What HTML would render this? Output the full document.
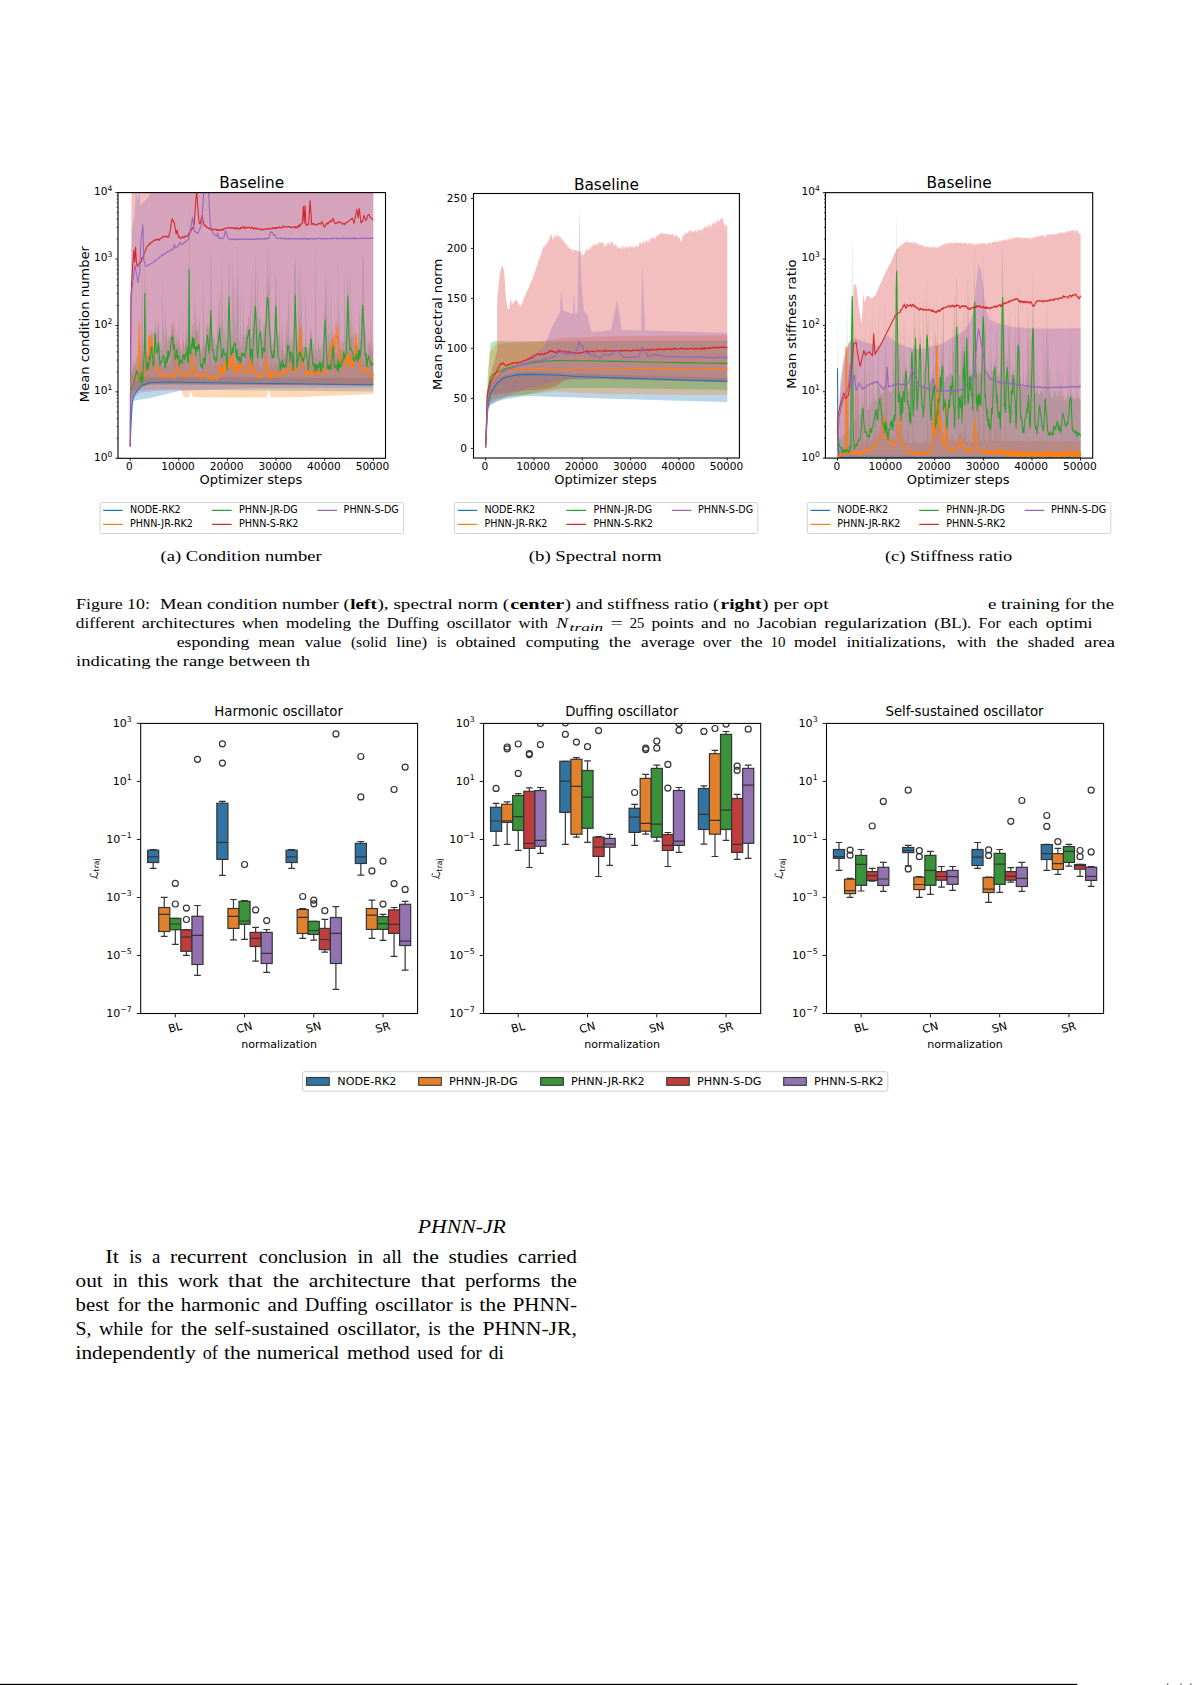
<!DOCTYPE html>
<html lang="en"><head><meta charset="utf-8"><title>Figure 10</title>
<style>
html,body{margin:0;padding:0;background:#fff;}
body{width:1192px;height:1685px;overflow:hidden;position:relative;}
svg{position:absolute;left:0;top:0;display:block;}
text{white-space:pre;}
</style></head><body>
<svg width="1192" height="1685" viewBox="0 0 1192 1685">
<rect x="0" y="0" width="1192" height="1685" fill="#ffffff"/>
<defs>
<clipPath id="lc0"><rect x="118" y="192.6" width="267.5" height="265.7"/></clipPath>
<clipPath id="lc1"><rect x="473.5" y="193.5" width="265.9" height="264.5"/></clipPath>
<clipPath id="lc2"><rect x="825.4" y="192.65" width="267.3" height="265.45"/></clipPath>
</defs>
<g clip-path="url(#lc0)"><path d="M130.2,440L132,392L135,381L141,377.5L156.8,377.2L169,377L185,377.1L199.8,377.2L216.6,377.2L233,377.3L249.8,377.4L265.4,377.5L281.8,377.6L297.9,377.6L314.2,377.7L332.6,377.8L350.6,377.9L366.3,378L373.3,378L373.3,391.5L356.2,391.3L338.2,391.2L321,391L302.6,390.8L287.6,390.7L270.2,390.5L254,390.3L238.6,390.2L221.8,390L205,389.8L197.9,389.9L183,390.4L181,390.5L165.6,394.3L152.6,397.6L139,399.7L133,401L131.5,420L130.2,447.4Z" fill="#1f77b4" fill-opacity="0.3" stroke="none"/><path d="M130.2,371.8L130.6,370.9L130.9,364.6L131,361.4L131.2,370.7L131.4,373.2L131.5,373.2L131.8,373.1L132,368.9L132.1,365.7L132.2,370.8L132.5,372.9L132.6,371.2L132.7,373.3L133,369.4L133.3,366.2L133.4,363.7L133.5,361.4L133.8,363.5L134,368.1L134.2,370.8L134.5,373.2L134.6,372.1L135,371.3L135.4,366.2L135.6,366.5L135.8,363.9L136,364.2L136.2,367.6L136.5,368.9L136.6,373.2L136.8,368.7L137,369.9L137.4,373.2L137.5,372.4L137.6,370.4L137.8,369.3L138,362.7L138.2,359L138.6,349.2L139,315.5L139.1,309.7L139.4,329.9L139.5,341.5L139.7,343.4L139.8,343L139.8,342.7L140,344.9L140.2,346.6L140.5,345.5L140.6,343.1L140.8,340.1L140.9,335L141,328L141.4,300.5L141.4,302.9L141.5,310.5L141.8,332.8L142.2,344.6L142.2,343.2L142.4,337.9L142.5,341.1L142.6,345.3L142.7,348.4L142.9,352.7L143,356.6L143.4,366.6L143.8,369L144.2,364.7L144.6,363.8L144.8,363.5L145,362.5L145.4,356.8L145.8,356.5L146.2,359.4L146.6,352.4L146.8,353.7L147,358.7L147.4,356.2L147.8,351.5L148,347.7L148.2,339.7L148.3,341.9L148.5,334.4L148.6,334.6L149,324.7L149.4,329L149.7,337.4L149.8,339.4L150,341.2L150.2,336.6L150.4,334L150.6,335.6L151,335.1L151.4,331.7L151.8,330.9L152,326.7L152.2,333.7L152.6,340.7L153,349.7L153.2,346.2L153.4,351.1L153.8,355L154.2,358.6L154.5,361.8L154.6,362.8L155,360.7L155.4,362.2L155.6,358L155.8,362.6L156.2,359.9L156.6,361.8L156.8,362L157,364.9L157.4,360.9L157.8,336L158.2,316.7L158.3,313.6L158.5,327.4L158.6,332.1L159,351.2L159.1,353.7L159.4,358.7L159.8,356.4L160,362L160.2,361.4L160.3,366.5L160.6,366.4L161,365.6L161.4,365.5L161.5,368.7L161.8,364.8L162.1,367.4L162.2,362L162.6,360.6L162.7,355L162.8,357.7L163,366.4L163.4,365.7L163.8,366.9L164.2,364.7L164.6,363L165,364.2L165.4,362.8L165.6,365.4L165.8,362.1L166.6,335.3L166.7,333.5L167,346.2L167.3,357.4L167.4,360.7L167.8,366.4L168.2,365.8L168.5,363.2L168.6,363.5L169,363.1L169.4,363.2L169.8,369.6L170.2,370.4L170.5,368L170.6,368.1L171,367.4L171.4,353.5L171.8,327L172,314.8L172.1,311.5L172.2,320.4L172.6,329.5L173,346.6L173.2,352.7L173.4,352.8L173.8,348.8L173.8,349.2L174.2,348.7L174.4,334.4L174.6,318.2L174.8,303.7L175,316.1L175.1,319.2L175.2,329.1L175.4,338.5L175.6,346.2L175.8,355L176.1,360.9L176.2,354.2L176.6,350.5L176.7,349.3L177,342.8L177.2,338.4L177.3,340.4L177.4,343.5L177.8,354.2L178.2,365.2L178.5,351.7L178.6,342.2L179,315.5L179.2,306.5L179.3,313L179.4,315.3L180.2,362.8L180.6,364.1L181,364.5L181.4,363.9L181.8,364L182.2,341.4L182.6,311.8L182.8,302.2L183,320.4L183.4,348.2L183.8,366.4L184,368L184.2,363L184.6,363.3L185,357.6L185.4,341.6L185.8,321.8L185.8,320.4L186,329.5L186.2,339.5L186.6,359.1L186.9,363.2L187,362.1L187.3,360.7L187.4,362.5L187.8,369L188.2,367.2L188.5,356.8L188.6,353.1L189,345.6L189.1,348L189.4,352.2L189.8,360.4L190.2,363.8L190.5,361.2L190.6,355.7L190.8,359.4L191,356.4L191.4,353.1L191.8,340.2L192,340.6L192.2,335.2L192.6,342.9L192.8,346.4L193,353.5L193.2,352.2L193.4,355.5L193.5,355.7L193.8,358.3L194.2,358.3L194.3,364.7L194.6,365.1L194.8,362.3L195,355.5L195.4,356.2L195.5,345.5L195.8,333.5L196.2,303L196.6,325.7L196.7,327.4L196.7,327.7L197,325.5L197,325L197.1,323.1L197.4,339.6L197.8,361.6L197.9,366.2L198,366.8L198.2,370.5L198.6,369.7L199,370.1L199.4,370.9L199.8,365.4L200,371.3L200.2,369.9L200.6,371.3L201,370.4L201.4,369.1L201.8,365.4L202,359.3L202.2,352.9L202.6,342.5L202.6,342.4L203,350.3L203.4,352L203.5,358.5L203.7,362.7L203.8,364.4L204.2,352.7L204.6,337.6L204.7,333.2L204.9,337.1L205,339.2L205.4,350.5L205.8,358.3L206,363.4L206.2,366.2L206.6,363L207,364L207.3,360.9L207.4,364L207.8,366.4L208.2,365.8L208.5,368.4L208.6,368.2L209,346.7L209.3,323.6L209.4,317.2L209.6,305.8L209.8,315L210.2,315.9L210.3,310.5L210.8,341.3L211,353.7L211.1,359.4L211.4,370.2L211.8,371.1L212,370.6L212.2,370.5L212.3,369.5L212.6,364.6L213,367.1L213.1,370.1L213.4,369L213.8,372.2L214.2,362.8L214.6,361L215,362.1L215.4,361.5L215.8,370.9L216.2,372.4L216.6,355.8L216.7,351.3L217,328.6L217.3,307.9L217.4,313.8L217.8,342.2L218.2,365.8L218.6,363.7L218.8,365.2L219,355.7L219.4,359.5L219.4,356.5L219.6,354L219.8,350.9L220.2,358.9L220.6,356.3L221,360.2L221.4,360.8L221.5,368.7L221.8,353.7L221.8,360L222.2,358.7L222.2,363.4L222.6,347.3L223,357.8L223.4,351.5L223.7,359L223.8,356.3L224.2,361.5L224.6,353.5L225,359.6L225,352.6L225.4,356.9L225.5,351.6L225.8,360.9L226,358.5L226.2,358.2L226.6,349L227,355.6L227.2,354.7L227.4,352L227.8,346.3L228.2,352.1L228.5,350.7L228.6,360L229,352.1L229.4,361.1L229.6,353.7L229.8,356.9L230.2,344.9L230.6,353.2L230.8,346.3L231,354.1L231.4,345L231.5,352.6L231.8,343.4L232.2,345.9L232.5,342.9L232.6,348.9L233,343.2L233.4,353.7L233.7,349.1L233.8,357L234.1,356.4L234.2,362.7L234.6,356.8L235,366.6L235.4,362.9L235.5,363.4L235.8,355.8L236.2,364.2L236.6,357.5L236.6,366.2L237,360.3L237.4,362.4L237.5,356.3L237.8,362.8L238.2,355.5L238.5,359.9L238.6,356.4L239,355.8L239.4,348.7L239.8,348.9L240,350L240.2,348.7L240.3,348L240.6,351.9L241,352.1L241.3,346.8L241.4,352.2L241.8,353.8L242.2,356.1L242.6,357.2L243,362.6L243.4,359.1L243.5,365.2L243.8,360.6L244.2,361.5L244.6,366L244.9,361.5L245,361L245.4,365.7L245.8,349.2L246,339.8L246.4,326L246.6,332.8L246.9,339L247,343.3L247.2,350.2L247.4,351.9L247.8,356.9L248,354.7L248.2,361.5L248.6,357.3L249,358.6L249.4,353.3L249.5,355.1L249.8,348.9L250,345.7L250.2,339.9L250.3,337L250.5,339.4L250.6,342.6L250.7,342L251,354.2L251.4,354.9L251.8,361L251.9,355.9L252,352.3L252.2,349L252.3,351.5L252.6,351.6L252.6,360.7L253,358.6L253.4,364.7L253.5,358.2L253.8,366L254,363.1L254.2,366.3L254.6,361.9L255,366.4L255.3,365.4L255.4,366.4L255.8,361.3L256,363.2L256.2,360.1L256.6,364.6L257,357.4L257.4,349.2L257.8,356.3L257.9,361.1L258.2,364.1L258.6,367.5L258.8,360.7L259,364.5L259.4,368.2L259.8,370.3L260,363.2L260.2,366.7L260.6,367.5L261,370.8L261.4,361.5L261.7,366.4L261.8,365.4L262.2,366.4L262.3,367.7L262.6,364.9L263,362.5L263.4,363.6L263.8,346.6L264,338.3L264.2,327.3L264.4,318.6L264.5,323.6L264.6,327.3L264.7,330.4L265,344.7L265.4,355.5L265.8,356.4L266,350.1L266.2,348.9L266.3,344L266.4,351.6L266.6,348.6L267,358.1L267.4,356.4L267.6,365.2L267.8,359.9L268.2,368.6L268.6,364.4L268.8,369.9L268.9,367.3L269,370L269.4,361.5L269.7,365.1L269.8,360.6L270,371.7L270.2,365.7L270.5,367.2L270.6,366.9L271,360.7L271.1,359L271.4,363.7L271.8,356.8L272,362.8L272.2,366.6L272.3,367L272.5,365.5L272.6,363.5L273,367.1L273.4,368.8L273.5,367.6L273.8,365.6L274.1,361L274.2,363.4L274.6,362.4L275,370.3L275.4,363.9L275.8,360.5L276.2,362.4L276.4,361.4L276.5,363.5L276.6,368L277,366.4L277.4,366.3L277.8,361.3L278.2,365L278.6,363.9L279,361.6L279.4,364.3L279.8,362.2L279.9,364.1L280.2,368.5L280.6,362L281,365.6L281.4,360.7L281.7,359.4L281.8,361.5L282,353.4L282.2,343L282.6,324.5L282.8,316.5L283,328.3L283.4,347L283.8,366.3L284.2,360.6L284.6,363.6L285,346.2L285.2,340.5L285.4,328.9L285.7,312.3L285.8,317.7L286.2,338.8L286.6,360.6L286.6,360.3L287,358.9L287.4,356.6L287.6,355.8L287.8,360.9L287.8,360.6L288.2,359.3L288.6,362.9L288.6,364L288.8,360.2L288.8,363L289,355.2L289.4,359.1L289.8,355.8L289.9,361.9L290,358.8L290.2,357.2L290.6,349L290.8,344.8L291,347.9L291.1,348.8L291.4,352.7L291.8,353.4L292.2,353.8L292.6,359.9L293,360L293.4,359.2L293.5,360.1L293.8,361.8L294.2,354.7L294.5,356.4L294.6,359.6L295,355.2L295.2,363.3L295.4,362.8L295.7,360.8L295.8,362.8L296,361.2L296.2,364.7L296.6,363.1L297,364.5L297.4,345.5L297.8,332.7L297.9,329.9L298,332.7L298.2,335.1L298.6,339.1L298.7,329.3L299,335.8L299.4,327.2L299.8,328.7L300,324.4L300,324.7L300.2,313.5L300.5,317.1L300.6,319.3L301,329.9L301.4,334.2L301.7,338.6L301.8,336.2L302.2,330.4L302.3,326.1L302.5,322L302.6,324.9L302.9,339.7L303,339.4L303.4,359.7L303.8,359.2L304.2,364.1L304.6,362.4L305,366L305.4,360L305.8,362.8L305.9,366.1L306.1,363.2L306.2,361.7L306.6,366.6L307,369.7L307.4,361.8L307.8,350.8L308.2,338L308.6,347.5L308.7,351.5L309,359.1L309.4,364.8L309.8,361.5L310.1,361L310.2,366.2L310.6,364.5L310.8,359L311,354.5L311.4,344.9L311.7,350.5L311.8,352.8L312.2,357.5L312.6,364.2L312.8,358L313,360L313.4,365L313.8,366L314.2,364.7L314.6,360.9L315,367.3L315.4,365.9L315.5,361.9L315.6,363.9L315.8,355.1L316.2,357.9L316.6,356.4L317,362.4L317.4,362.5L317.8,364.8L318.2,358.2L318.6,360.1L319,360.2L319.4,361.5L319.8,364.5L320.2,366.3L320.5,362L320.6,356.5L321,357.8L321.4,360.3L321.8,364.8L322.2,361.5L322.6,361.6L322.8,360.8L323,363.7L323.4,363.4L323.8,362.7L324.1,359.2L324.2,359.9L324.6,354.7L325,358.8L325.2,363.5L325.3,359.8L325.4,364.3L325.8,366L326.2,365.3L326.3,365.7L326.5,362.6L326.6,364.6L326.8,359.9L327,356.5L327.4,353L327.5,357.5L327.8,358.8L328.1,353.2L328.2,351.3L328.6,353.1L329,351L329.4,347.3L329.8,344.3L330.2,345.4L330.6,337.3L331,344.9L331,339.7L331.4,339.6L331.8,337.2L332.2,336.6L332.6,325.9L332.8,334.3L333,329.4L333.4,337.1L333.8,336.4L334.2,341.4L334.6,338.4L335,333.8L335.4,320.3L335.8,323.1L336.2,325.3L336.6,323L336.9,318.8L337,318.6L337,317.8L337.4,324.5L337.8,333L337.9,333.3L338,335.5L338.2,339L338.2,334L338.6,342.8L339,330.2L339.3,317.6L339.4,311.1L339.5,305.4L339.8,315.6L340.2,337.8L340.6,348.3L341,349.8L341.4,349.8L341.6,352L341.8,349.2L342.2,356.5L342.6,349L343,355L343.4,354.2L343.8,358.2L344,356.4L344.2,353.3L344.6,353.5L344.7,357.5L345,352L345.4,348.8L345.8,347.1L346.2,354.2L346.3,353L346.6,357.7L347,350L347.4,355L347.5,348.3L347.7,349.2L347.8,345.4L348.2,354.8L348.6,343.7L349,352.9L349.4,346L349.8,348.2L350.1,353.3L350.2,354.5L350.6,346L351.3,304.1L351.4,308L351.8,327.4L352.2,357.6L352.6,358L353,360.6L353.1,356.9L353.4,356.8L353.8,350.9L353.9,354.7L354.2,340.2L354.6,336.3L354.8,332.7L354.8,332.5L355,333L355.4,328.7L355.7,327.2L355.8,331.9L356.2,328.5L356.6,340.4L356.8,334.5L356.9,341.7L357,344L357.4,347.6L357.8,346.2L358,355.6L358.1,350.3L358.2,351.2L358.6,349.8L359,351.8L359.1,356.9L359.2,356.2L359.4,350.5L359.8,356.8L360,355.5L360.2,355.9L360.6,355.1L361,358.2L361.2,360.4L361.4,359.8L361.6,363.6L361.8,363.9L362.2,361.7L362.6,358.6L362.8,357.7L363,355.8L363.4,360.2L363.5,361.6L363.8,358.3L363.9,362.3L364.2,361.2L364.5,363.3L364.6,359.3L365,363.5L365.4,361.9L365.7,361.1L365.8,363.1L366.2,360.6L366.3,361.7L366.6,362.9L367,357.4L367.4,362.2L367.5,363.3L367.8,361.2L368.2,356.5L368.6,362.7L369,361.2L369.4,364L369.8,360.4L370.2,357.7L370.6,339.3L371,317.2L371.1,307.6L371.4,323L371.8,348.5L372.2,367.1L372.6,367.1L373,370L373.3,368L373.3,394L356.2,394.7L338.2,395.4L321,396.1L302.6,396.9L287.6,397.2L271,397.5L268.9,389.5L266.3,397.5L250.5,397.5L234.1,397.5L217.4,397.5L201,397.5L199,397.4L192.8,396.5L190.8,390.5L189,397.3L184,397L181,389.5L165.6,389.5L149.4,389.6L136.2,390.7L133,391L131.5,400L130.2,420Z" fill="#ff7f0e" fill-opacity="0.3" stroke="none"/><path d="M130.2,374.7L130.6,381.2L130.9,375.7L131,369.1L131.2,372.3L131.4,372.9L131.5,376.2L131.8,374.4L132,372L132.1,365L132.2,359L132.5,366.2L132.6,372.7L132.7,374.9L133,374.1L133.3,368.3L133.4,369L133.5,370.6L133.8,363.8L134,364.2L134.2,359.4L134.5,359.9L134.6,367.8L135,365.8L135.4,363.6L135.6,362.8L135.8,361L136,355.6L136.2,358.1L136.3,357.4L136.5,360.9L136.6,359L136.8,354.5L137,355L137.4,357.6L137.5,355.6L137.6,351L137.8,349.1L138,357.4L138.2,362.3L138.6,365.3L139,360.3L139.1,367.3L139.4,367.1L139.5,366.4L139.7,363.9L139.8,366.5L139.8,360.4L140,366.9L140.2,367.3L140.5,360.4L140.6,362.3L140.8,363.7L140.9,360.2L141,350.3L141.4,354.2L141.4,357.8L141.5,360.3L141.8,320L142.2,248.1L142.2,256.6L142.4,297.1L142.5,318L142.6,338.5L142.7,357.1L142.9,360.6L143,349.6L143.4,352.5L143.8,345.6L144.2,339.4L144.6,260.7L144.8,240L145,261.9L145.4,328.9L145.8,344L146.2,290L146.3,270.1L146.8,343.5L147,358.1L147.4,353.2L147.8,352L148,348L148.2,348.2L148.3,358L148.5,350.8L148.6,348.8L149,341.7L149.4,333.2L149.7,339.2L149.8,342.6L150,347.1L150.2,348.5L150.4,342.3L150.6,342.9L151,335.3L151.4,334.6L151.8,332.5L152,329.5L152.2,331.7L152.6,334.5L153,340L153.2,349.2L153.4,350.6L153.8,348.5L154.2,341.7L154.5,339.6L154.6,329.1L155,316.7L155.4,321.7L155.8,329.6L156.2,336.8L156.6,335.5L156.8,342.4L157,332.4L157.4,327.2L157.8,320.6L158.2,320.6L158.3,325.3L158.5,325.8L158.6,331.8L159,335.7L159.1,335.6L159.4,343.1L159.8,345.9L160,348.7L160.2,343.9L160.3,337.3L160.6,341.7L161,349.5L161.4,349.9L161.5,348.6L161.8,349L162.1,341.1L162.2,343L162.6,296.6L162.7,283.1L162.8,276.1L163,300.9L163.4,331.6L163.8,327.9L164.2,333.8L164.6,345.6L165,341.5L165.4,314.7L165.6,296.1L165.8,306.5L166.2,335L166.6,331.3L166.7,324.4L167,340L167.3,346.4L167.4,347.9L167.8,339.5L168.2,336.7L168.5,337.5L168.6,342L169,334.3L169.4,336.7L169.8,343.6L170.2,337.8L170.5,337.7L170.6,335.6L171,334.2L171.4,324.6L171.8,323.6L172,320.6L172.1,326.9L172.2,325.5L172.4,327.6L172.6,325.2L173,322.5L173.2,322.4L173.4,326.8L173.8,331.6L173.8,332.8L174.2,329.4L174.4,325.8L174.6,327.8L174.8,334.8L175,335.8L175.1,346.7L175.2,349.6L175.4,343.9L175.6,344.3L175.8,339.7L176.1,341.2L176.2,335.3L176.6,336.6L176.7,333.8L177,330.5L177.2,326.8L177.3,334.4L177.4,342.3L177.8,347.7L178.2,341.3L178.5,335.2L178.6,335.7L179,341.2L179.2,341.8L179.3,351.6L179.4,348.5L179.8,343.8L180.2,345.5L180.6,346.3L181,350L181.4,351.8L181.8,348.3L182.2,353.3L182.6,347.5L182.8,339.1L183,339.4L183.4,340.5L183.8,344.4L184,342.5L184.2,347.6L184.6,349.5L185,343.8L185.4,343.3L185.8,339.7L185.8,341.5L186,344.6L186.2,343.6L186.6,311.6L186.9,281.8L187,289.8L187.3,315.6L187.4,339.4L187.8,336.8L188.2,343L188.5,344.2L188.6,323.2L189,214.3L189,213.4L189.1,200L189.4,247.8L189.8,337.9L190.2,339.4L190.5,334.8L190.6,336.6L190.8,339.4L191,339.8L191.4,334.5L191.8,332.3L192,330.5L192.2,326.2L192.6,325.1L192.8,323.3L193,324.2L193.2,329.4L193.4,334.3L193.5,333.4L193.8,326L194.2,321.8L194.3,315.5L194.6,298.5L194.8,279.5L195,300.3L195.4,328L195.5,331.2L195.8,331.3L196.2,330.1L196.2,331.3L196.6,325.6L196.7,323.8L196.7,320.9L197,314L197,314.2L197.4,331.1L197.8,331.2L197.9,335.5L198,331.5L198.2,334.5L198.6,331.8L199,321.1L199.4,315.8L199.8,321.6L200,332.8L200.2,343.2L200.6,355.6L201,351.5L201.4,351L201.8,347L202,345.9L202.2,340L202.6,355.1L202.6,354.9L203,341.6L203.4,274L203.5,260.7L203.7,287.9L203.8,304.3L204.2,338.2L204.6,342.6L204.7,346.2L204.9,347.3L205,350.8L205.8,343.2L206,330.5L206.2,327.6L206.6,324.3L207,328.3L207.3,319.7L207.4,324.4L207.8,327.8L208.2,327L208.5,326.1L208.6,331.4L209,341.1L209.3,335L209.4,333.4L209.6,329.3L209.8,326L210.2,319.6L210.3,304.6L210.6,268.8L210.8,250.6L211,244.2L211.1,240.3L211.4,285L211.8,325.8L212,332.6L212.2,332.6L212.3,329L212.6,338.2L213,335.9L213.1,338.4L213.4,338.8L213.8,339.5L214.2,336.5L214.6,334L215,340.3L215.4,348.9L215.8,344.5L216.2,344L216.6,343.9L216.7,344.9L217,332.6L217.3,330.6L217.4,333.8L217.6,332.8L217.8,335L218.2,330.9L218.6,313.1L218.8,300.8L219,302.2L219.4,288.8L219.6,301.5L219.8,311.4L220.2,323.8L220.6,330L221,322.9L221.4,298.9L221.5,283.6L221.8,247.4L221.8,253.3L222.2,271.8L222.2,272.3L222.6,320.2L223,328.4L223.4,326.8L223.7,333.2L223.8,339.9L224.2,342.1L224.6,331.4L225,287.1L225,282.6L225.4,319.5L225.5,328.9L225.8,335.6L226,335.9L226.2,335.8L226.6,342.1L227,347.1L227.2,352.7L227.4,347.9L227.8,332.1L228.2,307.4L228.5,290.7L228.6,279.5L229,250L229.4,282.7L229.6,309.7L229.8,320.2L230.2,330.1L230.6,335.2L230.8,335.8L231,326.9L231.4,336.4L231.5,342.1L231.8,311.9L232.2,240.5L232.5,289.2L232.6,308.5L233,342.2L233.4,309.9L233.7,267.9L233.8,277.6L234.1,286L234.2,292L234.6,316.1L235,320.1L235.4,325.2L235.5,326.4L235.8,338.6L236.2,315.5L236.6,275.3L237,302.2L237.4,249.3L237.5,232.8L237.8,296.4L238.2,300.9L238.5,251.1L238.6,269.6L239,335L239.4,341.6L239.8,340.5L240,318.2L240.2,289L240.3,279.2L240.3,276.5L240.6,316.5L241,348.8L241.3,345.1L241.4,343.3L241.8,342.3L242.2,332.6L242.6,333.5L243,338.1L243.4,288.4L243.5,277.7L243.8,312L244.2,336.8L244.6,338.7L244.9,332.4L245,340.1L245.4,336L245.8,332.1L246,336.4L246.2,330.8L246.4,335.9L246.6,333.8L246.9,323.6L247,327.9L247.2,324.9L247.4,327.1L247.8,324.1L248,318.3L248.2,311.5L248.6,318.8L249,316.6L249.4,318.9L249.5,311.2L249.8,331L250,326.8L250.2,302.4L250.3,290.4L250.5,274.9L250.6,287.7L250.7,299.7L251,333.5L251.4,337.1L251.8,338.2L251.9,337.5L252,330.9L252.2,314.6L252.3,309.5L252.6,261.2L252.6,258L253,302.4L253.4,326.7L253.5,326.7L253.8,324.9L254,321.5L254.2,314L254.6,306.5L255,272.9L255.3,255L255.4,255L255.8,282.6L256,298.3L256.2,306.2L256.6,323.7L257,328.6L257.4,326.7L257.8,265.5L257.9,247.5L258.2,290.7L258.6,327.6L258.8,328.4L259,316.9L259.4,318.3L259.8,316.2L260,318.4L260.2,320.2L260.6,320L261,327.9L261.4,332.8L261.7,340L261.8,336.3L262.2,340.2L262.3,337.5L262.6,337.4L263,332.5L263.4,325L263.8,322.7L264,321.7L264.2,332.7L264.4,331.5L264.5,327.1L264.6,331L264.7,325.1L265,324.3L265.4,321.4L265.8,314.5L266,301.7L266.2,292.9L266.3,297.2L266.4,301.6L266.6,295.1L267,272.4L267.4,240L267.6,255.5L267.8,275.9L268.2,280.8L268.6,291.4L268.8,286.1L268.9,288.5L269,305L269.4,281.4L269.7,239.4L269.8,249.4L270,276.9L270.2,305.3L270.5,329.8L270.6,327.2L271,339.7L271.1,336.9L271.4,335.6L271.8,344.4L272,345.3L272.2,343.6L272.3,345.6L272.5,341.7L272.6,341.8L273,344.3L273.4,340.4L273.5,339.7L273.8,341.1L274.1,340.8L274.2,335.5L274.6,329.1L275,316.2L275.4,291.5L275.8,262L276.2,280.1L276.4,276.4L276.5,286.3L276.6,293L277,322.3L277.4,327.9L277.8,333.1L278.2,336.1L278.6,333.4L279,336.7L279.4,329.6L279.8,290L279.9,279.4L280.2,323.7L280.6,354.6L281,344.4L281.4,348.1L281.7,336.5L281.8,331.2L282,318.3L282.2,327.4L282.6,351.3L282.8,345.5L283,352.1L283.4,350.9L283.8,348.2L284.2,357L284.6,354.7L285,353.5L285.2,355L285.4,354.2L285.7,350.4L285.8,344.1L286.2,334.9L286.6,311.6L286.6,312.1L287,336.4L287.4,330.1L287.6,320.5L287.8,315.1L287.8,316.5L288.2,309.9L288.6,266.2L288.6,269.3L288.8,293.2L288.8,292.3L289,304.6L289.4,334.5L289.8,337.4L289.9,339.6L290,349.3L290.2,348.3L290.6,343.1L290.8,339.2L291,343.3L291.1,342.8L291.4,337.2L291.8,333.6L292.2,339.1L292.6,342.2L293,355L293.4,358.3L293.5,350.5L293.8,325L294.2,278.1L294.5,250.4L294.6,265L295,269.8L295.2,257.3L295.4,261.6L295.7,253.8L295.8,266.7L296,293.1L296.2,321L296.6,339L297,356L297.4,344.5L297.8,341.6L297.9,347.9L298,348.9L298.2,336L298.6,269.9L298.7,251.2L299,283L299.4,328.7L299.8,273.1L300,243.4L300,244.6L300.2,281.3L300.5,332.7L300.6,331.6L301,343.5L301.4,293.8L301.7,254.7L301.8,277.4L302.2,347.4L302.3,346.7L302.5,345L302.6,346.6L302.9,348.4L303,349.4L303.4,344.4L303.8,348.6L304.2,345.4L304.6,344.4L305,342.2L305.2,335.2L305.4,327.3L305.9,286L306.1,301.5L306.2,309.3L306.6,345.8L307,347.6L307.4,347.7L307.8,350.1L308.2,352.7L308.2,354L308.6,351.5L308.7,353L309,349.3L309.4,345.9L309.8,334.6L310.1,334.8L310.2,334.7L310.6,328.6L310.8,326L311,327.4L311.4,329.5L311.4,330.7L311.7,334.2L311.8,339.1L312.2,338.6L312.6,347L312.8,348.7L313,349.9L313.4,340.7L313.8,344.7L314.2,342L314.6,356.6L315,349.7L315.4,254.8L315.5,245.1L315.6,243.3L315.8,263.1L316.2,346.8L316.6,348.4L317,351L317.4,358.1L317.8,346L318.2,341L318.6,339L319,345.4L319.4,349.6L319.8,349.6L320.2,350.9L320.5,344.2L320.6,349L321,348.1L321.4,357.7L321.6,354.1L321.8,347.8L322.2,339.7L322.8,351.6L323,350L323.4,343.4L323.8,324.8L324.1,310.8L324.2,313.2L324.6,316.1L325,283L325.2,268L325.3,273.7L325.4,283L325.8,313.4L326.2,297.5L326.3,287.2L326.5,262L326.6,273.2L326.8,304.9L327,318.6L327.4,357.7L327.5,351.9L327.8,327.4L328.1,290.5L328.2,296.2L328.6,330.9L329,333.8L329.4,329.9L329.8,345.2L330.2,345.8L330.6,323.4L331,260.2L331,264.1L331.4,322.8L331.8,334.7L332.2,340.2L332.6,342.7L332.8,336.1L333,325.1L333.4,333.6L333.8,346.2L334.2,339.3L334.6,339L335,342L335.4,353.9L335.8,353.6L336.2,352.6L336.6,353.6L336.9,351.6L337,359.8L337,358.3L337.4,350.8L337.8,262.3L337.9,232L338,243.2L338.2,284.5L338.2,287.9L338.6,324L339,336.8L339.3,344.7L339.4,355.3L339.5,344.3L339.8,340.8L340.2,349L340.6,351.3L341,351.6L341.4,343.7L341.8,340.9L342.2,341.9L342.6,338.4L343,346.1L343.4,340.7L343.8,340.5L344,341.6L344.2,334.9L344.6,275.1L344.7,261.9L345,302.3L345.4,340.3L345.8,342.1L346.2,341.1L346.3,338.6L346.6,329.5L347,309.2L347.4,281.8L347.5,276.8L347.7,268L347.8,271L348.2,286.4L348.6,305.3L349,319.4L349.4,327.4L349.8,286L350.1,235.4L350.2,258L350.6,331.1L351,338.4L351.3,339L351.4,337.2L351.8,335.5L352.2,334.4L352.6,335.7L353,310.5L353.1,301.9L353.4,319L353.8,334.1L353.9,334.4L354.2,341.1L354.6,345.3L354.8,345.5L354.8,348.1L355,340.2L355.4,342.6L355.7,341.2L355.8,336.4L356.2,344.5L356.6,336.7L356.8,339.7L356.9,340.3L357,342.7L357.4,345.8L357.8,347.7L358,343.1L358.1,342.6L358.2,336.7L358.6,336.9L359,305.8L359.1,299L359.2,306.8L359.4,316.1L359.8,329.8L360,339L360.2,337.8L360.6,340.4L361,308.8L361.2,297.6L361.4,311.9L361.6,317.5L361.8,319.3L362.2,303.9L362.6,264.8L362.8,250L363,260.4L363.4,253.3L363.5,244.5L363.8,278.5L363.9,298.1L364.2,316.1L364.5,330.5L364.6,333.6L365,340.9L365.4,333L365.7,334.2L365.8,329.2L366.2,338.2L366.3,348.6L366.6,354.9L367,355.6L367.4,349.4L367.5,338.1L367.8,344.8L368.2,345.3L368.6,343L369,347.7L369.4,341.1L369.8,343.1L370.2,341.2L370.6,347.1L371,353.5L371.1,355.2L371.4,350.3L371.8,352.4L372.2,347L372.6,346.6L373,342.2L373.3,340.5L373.3,385.2L356.2,385.1L338.2,385.1L321,385L302.6,385L287.6,384.9L270.2,384.9L254,384.8L238.6,384.8L221.8,384.7L205,384.7L190.2,384.6L174.4,384.6L158.2,384.5L149.8,384.6L140,387L134,392L131.5,402L130.2,440Z" fill="#2ca02c" fill-opacity="0.3" stroke="none"/><path d="M130.2,330L130.9,300L131.5,192L136.5,192L137.6,201L138.6,192L152.6,192L169.8,192L185.8,192L200.2,192L217,192L233.7,192L250.2,192L266,192L282.2,192L298.2,192L315,192L333,192L351.3,192L367,192L373.3,192L373.3,385.5L356.2,385.4L338.2,385.3L321,385.2L302.6,385.1L287.6,385L270.2,384.9L254,384.8L238.6,384.7L221.8,384.6L205,384.5L190.2,384.4L174.4,384.3L158.2,384.2L149.8,384.3L140,387.5L133,395L131.5,415L130.2,445Z" fill="#d62728" fill-opacity="0.3" stroke="none"/><path d="M130.2,340L130.9,310L132,230L134.5,215L136,192L139.5,192L140.5,205L143.4,202.2L148,198L151,192L168.2,192L184,192L198.6,192L215.4,192L232.2,192L249,192L264.6,192L281,192L297,192L313,192L331.4,192L349.8,192L365.7,192L373.3,192L373.3,387.5L356.2,387.6L338.2,387.7L321,387.7L302.6,387.8L287.6,387.9L270.2,388L257,388.1L241.3,388.6L224.6,389.2L208.2,389.7L194.6,390.1L178.2,390.3L162.6,390.5L159,390.6L142.5,392.2L140,392.5L132.5,399L131,425L130.2,447Z" fill="#9467bd" fill-opacity="0.3" stroke="none"/><path d="M130.2,446.8L131,425L132.1,404.6L133.5,397L135.6,392.8L141.5,385.8L148.6,382.8L165.6,382L181,382.2L196.7,382.5L212.3,382.7L229.6,383L246.6,383.2L262.3,383.5L277.8,383.6L294.6,383.8L310.8,384L328.2,384.3L347,384.5L363.4,384.7L373.3,384.8" fill="none" stroke="#1f77b4" stroke-width="1.05" stroke-linejoin="round"/><path d="M130.2,379.5L137.5,379.5L137.6,378L137.8,375.8L138,372.1L138.2,367.8L138.6,358.8L139,330.4L139.1,323.7L139.4,342.7L139.5,348.2L139.7,360.4L139.8,365.1L139.8,365.6L140,366.8L140.2,370.3L140.5,374L140.6,375L140.8,376.9L140.9,377.3L141,379.1L141.4,378.8L141.4,378.9L141.5,378.6L141.8,376.7L142.2,377.8L142.2,376L142.4,376.2L142.5,375.2L142.6,377.5L142.7,376.5L142.9,375.5L143,374.4L143.4,375L143.8,375L144.2,373.7L144.6,373.2L144.8,371.5L145,372.1L145.4,371.2L145.8,370.2L146.2,367.4L146.3,367.5L146.8,368.1L147,367.8L147.4,362.5L147.8,358.1L148,354L148.2,352L148.3,351.8L148.5,347.4L148.6,345L149,335.8L149.4,345.7L149.7,353.6L149.8,355.2L150,358.9L150.2,354.8L150.4,352.3L150.6,350.6L151,344.5L151.4,340.4L151.8,337.7L152,335.8L152.2,340.7L152.6,347.7L153,356.3L153.2,356.4L153.4,359.2L153.8,361.7L154.2,366.2L154.5,368.4L154.6,369.8L155,367.9L155.4,368.4L155.6,367.4L155.8,369.4L156.2,367.9L156.6,370L156.8,369.8L157,371.3L157.4,369.7L157.8,369.7L158.2,370.6L158.3,371.8L158.5,373.2L158.6,373.5L159,373.8L159.1,372.9L159.4,373.7L160,374.9L160.2,374L160.3,373.3L160.6,372.4L161,373.5L161.4,374.9L161.8,374.4L162.2,374.4L162.6,374L162.7,374.4L162.8,376L163,376.8L163.4,376.2L163.8,374.6L164.2,373.8L164.6,375.2L165,376.4L165.4,377.4L165.6,376.5L165.8,376.9L166.2,376L166.6,375.7L166.7,374.5L167,375.3L167.3,375.2L167.4,375.6L167.8,374.5L168.2,375.3L168.5,375.2L168.6,376.3L169,375.6L169.4,376.2L169.8,376L170.2,377.7L170.5,375.6L170.6,376.2L171,374.1L171.4,376.1L171.8,375.3L172,376.9L172.1,376.6L172.2,377L172.4,376.9L173,375.9L173.2,375.8L173.4,375L173.8,376.9L173.8,376.2L174.2,378.5L174.4,377L174.6,375.8L174.8,373.3L175,373.6L175.1,372.4L175.2,372.9L175.4,371.4L175.6,372.3L175.8,370.4L176.1,370.6L176.2,368.4L176.6,367.2L176.7,365.1L177,366.4L177.2,367L177.3,368.8L177.8,371.2L178.2,371.9L178.5,373.3L178.6,372.7L179,373.4L179.2,372.1L179.3,372.7L179.4,371L179.8,373.3L180.2,372.3L180.6,374.8L181,374.3L181.4,374.2L181.8,373.1L182.2,373.8L182.6,373.6L182.8,374.2L183,373.8L183.4,374.6L183.8,373.7L184,374.3L184.2,372.8L184.6,373.8L185,372.5L185.4,375.4L185.8,376.1L186,374.9L186.2,374.8L186.6,373.9L186.9,376.2L187,375L187.3,375.9L187.4,374.5L187.8,375.8L188.2,376.5L188.5,376.6L188.6,373.2L189,376.2L189,371.4L189.1,375L189.4,369.9L189.8,371.9L190.2,369.9L190.5,370.2L190.6,364.2L190.8,366.3L191,362.5L191.4,362.6L191.8,354.3L192,358.1L192.2,353.8L192.6,362.1L192.8,362.2L193,366L193.2,366.7L193.4,368.8L193.5,369.5L193.8,370.6L194.2,368L194.3,373.7L194.8,373L195,367.8L195.4,373.4L195.5,370.3L195.8,375.6L196.2,373.2L196.2,376L196.6,374.1L196.7,375.5L196.7,373.9L197,375.5L197,375L197.1,375.8L197.4,375.5L197.8,376.2L197.9,375.4L198,376.9L198.2,377L198.6,377.3L199,376.2L199.4,377.6L199.8,376.1L200,377.6L200.2,376.9L200.6,377.9L201,377.8L201.4,377.4L201.8,376.5L202,376.3L202.2,373.8L202.6,374.5L202.6,375L203,375.3L203.4,375.7L203.5,375.1L203.7,375.2L203.8,374.9L204.2,372.6L204.6,371.8L204.7,371.4L204.9,372.4L205,371L205.4,372.8L205.8,373.1L206,373.6L206.2,372.4L206.6,374.9L207,375.9L207.3,377.2L207.4,376.9L207.8,378.1L208.2,376.9L208.5,375.7L208.6,375.2L209,377.1L209.3,377.4L209.4,378.6L209.6,377.4L209.8,378L210.2,377.2L210.3,377.8L210.6,376.2L210.8,376.5L211,376.4L211.1,376.7L211.4,376.3L211.8,378L212,377.9L212.2,379.5L212.6,379.5L213,378.8L213.1,379.1L213.4,377.9L213.8,379L215,375.8L215.4,376.8L215.8,377.2L216.2,378.8L216.6,378L216.7,378.9L217,377.2L217.3,379.5L217.4,376.1L217.6,379.5L217.8,378L218.2,377.6L218.6,374.3L218.8,374L219,365.2L219.4,370.7L219.4,369.4L219.6,370.9L219.8,363.2L220.2,366.8L220.6,367.7L221,371.6L221.4,368.3L221.5,375.7L221.8,369.8L221.8,374.9L222.2,368.1L222.2,371.9L222.6,367.4L223,374.3L223.4,367.2L223.7,372.8L223.8,367L224.2,372.8L224.6,365.7L225,370.5L225,364.9L225.4,370.4L225.5,362.5L225.8,369.3L226,366.4L226.2,367.9L226.6,359L227,363.2L227.2,361.2L227.4,363.7L227.8,361.5L228.2,367.6L228.5,362.2L228.6,369.6L229,361.9L229.4,368.1L229.6,360.6L229.8,367.6L230.2,361L230.6,366.9L230.8,359.6L231,364.1L231.4,355.4L231.5,362.6L231.8,352.4L232.2,358.2L232.5,349.7L232.6,355.3L233,351.4L233.4,363.5L233.7,358L233.8,367.3L234.1,365.1L234.2,369.6L234.6,363.4L235,373.1L235.4,369.3L235.5,374.8L235.8,365.4L236.2,372.6L236.6,364L236.6,373.5L237,367.1L237.4,371.2L237.5,365L237.8,370.8L238.2,364.2L238.5,369.4L238.6,367.1L239,368.2L239.4,366.2L240,367.3L240.2,367.5L240.3,365.9L240.3,366.3L240.6,365L241,365.4L241.3,363.8L241.4,364.1L241.8,363.6L242.2,366.7L242.6,366.9L243,370L243.4,370.7L243.5,371.6L243.8,370.9L244.2,373.4L244.6,372.9L244.9,374.3L245,373.1L245.4,374L245.8,372L246,372.3L246.2,371.7L246.4,372.7L246.6,370.6L246.9,372.2L247,370.6L247.2,371L247.4,367.8L247.8,370.7L248,368.7L248.2,371.3L248.6,369.1L249,368.4L249.4,364.5L249.5,366.5L249.8,363.1L250,365.9L250.2,363.1L250.3,363.5L250.5,358.9L250.6,363.7L250.7,359L251,366.8L251.4,362L251.8,367.4L251.9,365.5L252,368.3L252.2,367.5L252.3,371.3L252.6,368.1L252.6,372.3L253,367.4L253.4,372.8L253.5,368.7L253.8,373.9L254,372L254.2,373.1L254.6,370.4L255,373.3L255.3,372.9L255.4,373L255.8,372L256,373.4L256.2,373.5L256.6,374.6L257,375.1L257.4,376.3L257.8,375.6L257.9,376.3L258.2,375.8L258.6,376.8L258.8,374L259,375.5L259.4,374.2L259.8,377.2L260,376.6L260.2,377.1L260.6,375.4L261,377.8L261.4,376.4L261.7,377.6L261.8,375.6L262.2,375.4L262.6,374.5L263,372.7L263.4,374.3L263.8,372.2L264,372.5L264.2,368.8L264.4,371.3L264.5,369.7L264.6,369.3L264.7,367.1L265,367.6L265.4,364.3L265.8,362.6L266,356.9L266.2,359.3L266.3,354.8L266.4,359.1L266.6,360.2L267,366.9L267.4,365.8L267.6,373.1L267.8,367.6L268.2,375.5L268.6,371.6L268.8,376.6L268.9,375L269,378L269.4,372.7L269.7,377.6L269.8,371.4L270,377.9L270.2,373.3L270.5,377.2L270.6,374.6L271,377.3L271.1,375.7L271.4,376.1L271.8,373L272,375.5L272.2,374.1L272.3,375L272.5,372.9L272.6,373.7L273,373.3L273.4,375.3L273.5,374.8L273.8,376L274.1,374.4L274.2,375.2L274.6,374.7L275,376.5L275.4,374.4L275.8,372.2L276.2,370.2L276.4,372.9L276.5,372.9L276.6,375.1L277,373.5L277.4,374.3L277.8,374.4L278.2,374.7L278.6,374L279,375.4L279.4,373.8L279.8,374.5L279.9,373.7L280.2,374.9L280.6,374.4L281,375.4L281.4,372L281.7,371.4L281.8,371.4L282,373.8L282.2,374L282.6,373.7L282.8,372.3L283,372.5L283.4,370.7L283.8,373L284.2,370.4L284.6,372.8L285,371L285.2,372.7L285.4,372.4L285.7,371.7L285.8,370.9L286.2,370.8L286.6,369.9L286.6,371.9L287,370.3L287.4,370.5L287.6,368.5L287.8,369.2L287.8,369.7L288.2,369.8L288.6,369.1L288.6,370.2L288.8,368.9L288.8,369L289,367.7L289.4,369.1L289.8,366.8L289.9,368.8L290,367.9L290.2,370.2L290.6,368.9L290.8,369.6L291,368.3L291.1,369L291.4,367.4L291.8,367.3L292.2,366.3L292.6,366.9L293,367.4L293.4,367.5L293.5,367.9L293.8,368.7L294.2,369.1L294.5,369.7L294.6,369L295,369.5L295.2,369.5L295.4,370.9L295.7,370.5L295.8,371.1L296,370.8L296.2,371.3L296.6,369.7L297,373.1L297.4,366.1L297.8,365.4L297.9,359.2L298,363.1L298.2,358.7L298.6,358.8L298.7,349.2L299,354.3L299.4,343.5L299.8,341.4L300,334.3L300,336.6L300.2,326.5L300.5,329.6L300.6,328.1L301,337.9L301.4,341.8L301.7,351L301.8,351.6L302.2,360.3L302.3,353.3L302.5,362.5L302.6,355.3L302.9,367L303,359.8L303.4,367.6L303.8,365.5L304.2,371.4L304.6,371.6L305,372.5L305.2,371.9L305.4,371.4L305.8,371.7L306.1,372.6L306.2,374.2L306.6,373.5L307,375.8L307.4,373.1L307.8,373.7L308.2,372.6L308.2,374.2L308.6,373.9L308.7,373.4L309,370.9L309.4,371.9L309.8,372L310.1,373.3L310.2,372.2L310.6,371.8L310.8,370.5L311,373L311.4,373.8L311.4,374.3L311.7,372L311.8,373.7L312.2,372.1L312.6,374.3L312.8,372.4L313,372.7L313.4,371.7L313.8,372.4L314.2,372.8L314.6,374.8L315,374L315.4,373.8L315.5,372.4L315.8,372.8L316.2,373.2L316.6,370.3L317,372.2L317.4,371.3L317.8,373.8L318.2,372.3L318.6,373.2L319,370.2L319.4,372.3L319.8,371.1L320.2,373.8L320.5,373.9L320.6,372.4L321,372.7L321.4,372.1L321.6,372.6L322.2,372L322.6,372.5L322.8,371.2L323,371.8L323.4,371L323.8,371.8L324.1,372L324.2,373L324.6,372.5L325,372.3L325.2,370.9L325.3,371.4L325.4,370.6L325.8,372.3L326.2,372.4L326.3,372.2L326.5,369.7L326.6,370.8L326.8,369L327,369.1L327.4,366.8L327.5,367.1L327.8,364.9L328.2,362.2L328.6,360.2L329,357.5L329.4,357.1L329.8,354.8L330.2,355L330.6,347.9L331,351.9L331,346.3L331.4,349.8L331.8,343.6L332.2,347.3L332.6,338.6L332.8,348.6L333,347L333.4,348.6L333.8,345.6L334.2,348.4L334.6,346.2L335,343.1L335.4,334.3L335.8,339.1L336.2,337.3L336.6,337.4L336.9,334.2L337,335.2L337,327.2L337.4,339.6L337.8,341.6L337.9,345.8L338,346.7L338.2,351L338.2,343.1L338.6,352.4L339,354.4L339.3,361.7L339.4,357.6L339.5,360.5L339.8,353.8L340.2,362.2L340.6,358.9L341,362L341.4,361.7L341.6,362.7L341.8,362.9L342.2,362.6L342.6,359.8L343,361.7L343.4,362L343.8,364.8L344,363.9L344.2,366.8L344.6,363.4L344.7,364.9L345,364.1L345.4,364.1L345.8,360.4L346.2,363.6L346.3,359.9L346.6,364.2L347,357.1L347.4,362.6L347.5,356.8L347.7,360.5L347.8,352.6L348.2,360.8L348.6,353.3L349,362L349.4,356.2L349.8,363.2L350.1,362.7L350.2,366.3L350.6,363.7L351,366.1L351.3,359.3L351.4,367.5L351.8,357.9L352.2,366.2L352.6,364.7L353,367.8L353.1,363.7L353.4,365.9L353.8,358.4L353.9,361L354.2,353.8L354.6,355.4L354.8,345.5L354.8,350.4L355,346L355.4,341.7L355.7,334L355.8,339.4L356.2,336.7L356.6,349.8L356.8,344.9L356.9,353.8L357,351.1L357.4,359.6L357.8,354.3L358,362.5L358.1,358L358.2,362.3L358.6,362.7L359,363.9L359.1,363.2L359.2,363.8L359.4,360.9L359.8,365.4L360,363.5L360.2,365.4L360.6,366.1L361,368.1L361.2,367.9L361.6,369.9L361.8,371.1L362.2,370L362.8,368L363,370L363.4,370.1L363.5,372L363.8,368.9L363.9,370.2L364.2,368.2L364.5,370.7L364.6,369.9L365,370.7L365.4,370.1L365.7,370.5L365.8,371.3L366.2,371.3L366.3,370.8L366.6,370.7L367,370.4L367.4,372.5L367.8,371.2L368.2,370.5L368.6,372.3L369,371.8L369.4,372.3L369.8,371.8L370.2,374.2L370.6,373.6L371,375.1L371.1,374.4L371.4,375.7L371.8,375.1L372.2,376.1L372.6,374.2L373,377L373.3,374.2" fill="none" stroke="#ff7f0e" stroke-width="1.05" stroke-linejoin="round"/><path d="M130.2,395L130.9,390.5L133.3,384L136.8,370.5L139.1,378.7L140,378.1L140.2,378.5L140.5,378L140.6,381.6L140.8,381.9L140.9,378.3L141,372.1L141.4,374.3L141.4,373.3L141.5,377.5L141.8,376.4L142.2,384.8L142.4,382.5L142.5,377.4L142.6,377.9L142.7,380.5L142.9,378.7L143,375.3L143.4,364.7L143.8,359.6L144.2,355.4L144.6,318.2L144.8,293.4L145,315.2L145.4,351.6L145.8,356.5L146.2,363.3L146.3,366.3L146.6,370.3L146.8,370.6L147,368.2L147.4,366.4L147.8,362.4L148,366.7L148.2,367.3L148.3,369.2L148.5,366.9L148.6,365.6L149,362.7L149.4,356.3L149.7,356.4L149.8,356.8L150,358.3L150.2,358.9L150.4,354.3L150.6,355.2L151,349.1L151.4,348.8L151.8,346.2L152,350.4L152.2,353.1L152.6,357.2L153,358L153.2,366.6L153.4,366.1L153.8,362.6L154.2,356.1L154.5,350.7L154.6,344.5L155,333.2L155.4,334.5L155.6,344L155.8,344.3L156.2,351L156.6,350.2L156.8,354L157,352.6L157.4,351.7L157.8,349.6L158.2,345.6L158.3,344.4L158.5,342.8L158.6,344.3L159,349.3L159.1,351.9L159.4,357.2L159.8,360.2L160,365.8L160.2,365.4L160.3,364.9L160.6,362.3L161,361.2L161.4,362L161.5,361.6L161.8,361.8L162.1,360L162.2,359.7L162.6,359.3L162.7,359.4L162.8,355.7L163.4,355.1L163.8,357.5L164.2,357.9L164.6,363.3L165,368L165.4,367.4L165.6,365.3L165.8,361.2L166.2,358.4L166.6,357L166.7,359.8L167,362L167.3,362.8L167.8,352.5L168.2,350.8L168.5,352L168.6,358.2L169,355.8L169.4,353.1L169.8,354.1L170.2,350.7L170.5,349.9L170.6,345.9L171,344.2L171.4,338.9L171.8,338.5L172,336L172.1,337.6L172.2,338.3L172.4,339.2L172.6,337.4L173,337.5L173.2,343.5L173.4,345.4L173.8,349.4L173.8,344.3L174.2,344.6L174.4,347.2L174.6,349.5L174.8,352.3L175,354.2L175.1,358.7L175.2,359.8L175.4,357.9L175.6,355L175.8,353.7L176.1,357.3L176.2,354.9L176.6,356.3L176.7,349.3L177,349.8L177.2,351.1L177.3,355.6L177.4,358.8L177.8,358.3L178.5,355.9L178.6,356L179,360.1L179.2,364.2L179.3,366L179.4,363.1L179.8,359.5L180.2,360L180.6,361.4L181,360.6L181.4,363.3L181.8,362.2L182.2,363.4L182.8,355.5L183,356.8L183.4,355.1L183.8,355.3L184,354.6L184.2,359.5L184.6,360.1L185,358.4L185.4,353.8L185.8,353.9L185.8,355.8L186,355.6L186.2,354.9L186.6,352.4L186.9,349.9L187,346.9L187.3,348.3L187.4,354.9L187.8,361.5L188.2,363.2L188.5,361.9L188.6,346.2L189,287.1L189,283.9L189.1,268.7L189.4,302L189.8,353.1L190.2,351.9L190.5,353.7L190.6,354.2L190.8,354L191,350L191.4,344.8L191.8,344.1L192,346.2L192.2,344.5L192.6,337.5L192.8,337.5L193,343.8L193.2,348.4L193.4,347.1L193.5,343.9L193.8,338.6L194.2,338.8L194.3,340.6L194.6,348.5L194.8,347.1L195,348.3L195.4,349.4L195.5,355.4L195.8,352.5L196.2,350.9L196.2,347.2L196.6,347.7L196.7,349.2L196.7,349.4L197,349.1L197,346.5L197.1,350L197.4,350.7L197.8,346.8L197.9,345.6L198,345.5L198.2,348.6L198.6,346.8L199,344.1L199.4,347.7L199.8,352.6L200,358.1L200.2,363.4L200.6,366.6L201,365.6L201.4,367.1L201.8,364.6L202,364.2L202.2,365.8L202.6,368.4L202.6,367.6L203,362.7L203.4,358.3L203.5,358.2L203.7,360.4L203.8,358.7L204.6,358.7L204.7,362.7L204.9,361.3L205,363.8L205.4,360.3L205.8,354.3L206,346.5L206.2,344.1L206.6,343.1L207,340.1L207.3,335.2L207.4,335.3L207.8,340L208.2,344L208.5,349.8L208.6,346.9L209,353.2L209.3,346.7L209.4,347.7L209.6,342.4L209.8,337.7L210.2,330.6L210.3,328.9L210.6,317.6L210.8,310.1L211,315.4L211.1,318.1L211.4,326.6L211.8,339.8L212,345L212.2,348.7L212.3,348.2L213,351.5L213.1,349.4L213.4,352.4L213.8,355.6L214.2,359.7L214.6,356.4L215,356.9L215.4,360.7L216.2,361.2L216.6,357.9L216.7,359.7L217,353.5L217.3,347.8L217.4,346.3L217.6,346L217.8,348.4L218.2,342.5L218.6,340.6L218.8,336.6L219,338.9L219.4,331.7L219.4,333.8L219.6,328.6L219.8,333L220.2,339.1L220.6,343L221,347.8L221.4,356.5L221.8,356.7L221.8,354.2L222.2,358.3L222.6,356L223,349.9L223.4,348.7L223.7,349.2L223.8,352.2L224.2,353.9L224.6,353.9L225,354.6L225,355.1L225.4,354.6L225.5,352.9L225.8,354.6L226,353.7L226.2,357.9L226.6,361.6L227.2,370.5L227.4,358.5L227.8,343.8L228.2,325.6L228.5,316.8L228.6,310.1L229,297L229.4,310.8L229.8,330.6L230.2,341.9L230.6,353L230.8,354.7L231,352.2L231.4,351.5L231.5,355.1L231.8,354.2L232.2,351.3L232.5,347.8L232.6,351.3L233,352.6L233.4,352.3L233.7,347.5L233.8,347.1L234.1,344.2L234.2,345L234.6,342.6L235,344L235.4,344.2L235.5,345.8L235.8,353.8L236.2,355.5L236.6,357.8L236.6,350.9L237,349.5L237.4,352.2L237.5,357.6L237.8,360.3L238.5,357.9L238.6,360.1L239,356.6L239.4,357.2L239.8,357.6L240,363.7L240.2,360.5L240.3,362.2L240.3,362.7L240.6,362.6L241,361L241.3,357.4L241.4,357.6L241.8,354.2L242.2,353.8L242.6,352.7L243,355.6L243.4,355.2L243.5,354.2L243.8,354L244.2,354.6L244.6,357.6L244.9,354.4L245,354.5L245.4,351.7L245.8,349.3L246,347.8L246.2,346.9L246.4,347.8L246.6,347.5L246.9,342.4L247,341.7L247.2,337.4L247.4,338.7L247.8,336.3L248,336.6L248.2,334.5L248.6,332.4L249,329.5L249.4,329.7L249.5,330L249.8,347.7L250,356.2L250.2,354L250.3,356.1L250.5,358.6L250.6,356.2L250.7,351.6L251,349.1L251.4,349.3L251.8,353.2L251.9,355L252,359.2L252.2,359.7L252.3,363.5L252.6,356.3L252.6,356.9L253,346.3L253.4,339.6L253.5,338.7L254,333.1L254.2,326.3L254.6,318.2L255,311.6L255.3,307.5L255.4,306.4L255.8,314L256,318.1L256.2,324.2L256.6,338.2L257,351L257.4,356.5L257.8,358.4L257.9,353.3L258.2,352.9L258.6,346.4L258.8,345.1L259,338.6L259.4,337.2L259.8,333.6L260,333.4L260.2,334.4L260.6,331.2L261,338.9L261.4,343L261.7,350.8L261.8,350.3L262.2,358.1L262.3,356.7L262.6,353.6L263,349.1L263.4,347.8L263.8,347.7L264,348.7L264.2,351.7L264.4,351L264.5,352L264.6,350L264.7,350.4L265,341.5L265.4,333.6L266,324.1L266.2,318.8L266.3,315.8L266.4,311.9L266.6,308.2L267,300.3L267.4,297.3L267.6,298.1L267.8,299.3L268.2,302.9L268.6,310.8L268.8,314.9L268.9,316.4L269,318.6L269.4,325.9L269.7,331.8L269.8,330.9L270,335.2L270.2,333.7L270.5,344.6L271,351.5L271.1,350.9L271.4,351L271.8,355.5L272,356.3L272.2,358.5L272.5,358.2L272.6,357.2L273,356.6L273.4,353.8L273.5,350.9L273.8,354.4L274.1,357.5L274.2,355.5L274.6,342.6L275,330.8L275.4,318.6L275.8,305.7L276.2,312.7L276.4,322.8L276.6,333.2L277,338.4L277.4,345.8L277.8,349.1L278.2,357.3L278.6,357.9L279,358.8L279.4,359.2L279.8,361.7L279.9,367.7L280.2,370.6L280.6,367.7L281,365.2L281.4,362.8L281.7,367.1L281.8,365.8L282,364.9L282.2,359.9L282.6,361.9L282.8,364.6L283,366.5L283.4,365L283.8,364L284.2,367.6L284.6,366.7L285,367.1L285.2,365.1L285.4,366.5L285.7,366.5L285.8,366.6L286.2,363.1L286.6,360.2L286.6,360.7L287,357.4L287.4,351.9L287.6,346.1L287.8,346.5L287.8,344.8L288.2,346.5L288.6,347.3L288.6,345.8L288.8,347L288.8,346.7L289,351.1L289.4,353.7L289.8,356.9L289.9,359.5L290,361.8L290.2,359.7L290.6,354.9L290.8,352.4L291,353.4L291.1,353.3L291.4,352.8L291.8,352.4L292.2,356L292.6,362.8L293,370L293.4,370.4L293.5,367.3L293.8,349.2L294.2,331.3L294.5,321.1L294.6,317.7L295,302.6L295.2,295.5L295.4,302.7L295.7,316.4L295.8,319.5L296,329.5L296.2,335.2L296.6,352.1L297,367.5L297.4,363.6L297.8,360.2L297.9,358.5L298,359.9L298.2,360.7L298.6,357.5L298.7,355L299,353.1L299.4,353.2L299.8,352.2L300,353.6L300,354.3L300.2,356.3L300.5,354.2L300.6,351.9L301,355.9L301.4,355.1L301.7,358.4L301.8,356.6L302.2,360.3L302.3,360.4L302.5,358.6L302.6,357.8L302.9,358.9L303,362.3L303.4,360.4L303.8,360.2L304.2,357.2L304.6,357.1L305.2,351.8L305.4,347.9L305.8,347.6L305.9,349.3L306.1,352.5L306.2,353.8L306.6,356.3L307,358.4L307.4,361.4L307.8,362.3L308.2,370.3L308.2,367.1L308.6,369L308.7,364.2L309,361.6L309.4,358.6L309.8,353.4L310.1,347.4L310.2,347.1L310.6,342.3L310.8,339.2L311,338.8L311.4,340.7L311.4,342L311.7,349.2L311.8,351.4L312.2,355.2L312.6,358.7L312.8,359.7L313,364.9L313.4,362.6L313.8,366.2L314.2,364.1L314.6,369.5L315,372.1L315.4,369.6L315.5,364.6L315.6,364.4L315.8,364.3L316.2,366.4L316.6,364.1L317,368.8L317.4,371L317.8,367.6L318.2,366.5L318.6,365.1L319,367.8L319.4,365.6L319.8,361.9L320.2,362.2L320.5,363.7L320.6,368.3L321,372.1L321.4,371.4L321.6,367.9L321.8,367.4L322.2,363.6L322.6,363.2L322.8,362.9L323,367.7L323.4,360.7L323.8,351.8L324.1,339.6L324.2,339L324.6,330.7L325,323.3L325.2,320.1L325.3,321.8L325.4,326.3L325.8,333.4L326.2,339.8L326.3,341.2L326.6,349.9L326.8,356.2L327,359.5L327.4,368.5L327.5,368.2L327.8,366.5L328.1,365.3L328.2,366.8L328.6,368.9L329,369.5L329.8,365L330.2,366.8L330.6,369.5L331,368.4L331,367.7L331.4,361.4L331.8,359.9L332.2,358.3L332.6,353.1L332.8,346.6L333,345.8L333.4,348.4L333.8,359L334.2,362L334.6,368.3L335,365.5L335.4,366.9L335.8,366.5L336.2,365.8L336.6,367L336.9,367L337,370.2L337,369.2L337.4,365.4L337.8,363.5L337.9,359.7L338,364.4L338.2,366.7L338.2,371.8L338.6,369L339,363.3L339.3,361.3L339.4,365.8L339.5,365.9L339.8,367.7L340.2,365.5L340.6,366.4L341,363.9L341.4,366.2L341.6,363.6L341.8,361.3L342.2,358.8L342.6,362.1L343,360.7L343.4,356.4L343.8,351.5L344,354.3L344.2,354.2L344.6,357.6L345,358.6L345.4,355.3L345.8,353.8L346.2,353.7L346.3,353.1L346.6,340.6L347.4,308.4L347.5,305.7L347.7,296L347.8,297.4L348.2,306.4L348.6,320L349,334.5L349.4,341.7L349.8,349.8L350.1,346.6L350.2,349.1L350.6,348.5L351,349.6L351.3,349.7L351.8,351.3L352.2,350.7L352.6,352.5L353,353.6L353.1,355L353.4,360.5L353.8,359.1L353.9,360.6L354.2,358.6L354.6,360.4L354.8,359.8L354.8,361.5L355,359.5L355.4,358.5L355.7,356.9L355.8,354.4L356.2,354.8L356.6,356.3L356.8,359.1L356.9,358.1L357,358.8L357.4,358.9L357.8,361.7L358,354.2L358.1,354.2L358.2,351.1L358.6,356.2L359,358.2L359.1,358.9L359.2,357.8L359.4,350L359.8,350L360,352L360.2,356.5L360.6,352.7L361,349.4L361.4,343L361.6,341L361.8,333.2L362.2,319.7L362.6,307L362.8,305.2L363,311.8L363.4,321L363.5,319.8L363.8,326.2L363.9,327.3L364.2,332.3L364.5,342.5L364.6,345.6L365,354.4L365.4,356.1L365.7,356.9L365.8,353.3L366.2,355.8L366.3,359.4L366.6,366.5L367,365.9L367.4,362.4L367.5,358.8L367.8,358.5L368.2,359L368.6,355.6L369.4,360L369.8,361.7L370.2,361.5L370.6,363L371,365L371.1,366.1L371.4,363L371.8,363.6L372.2,362.8L372.6,364.1L373,364.4L373.3,365.2" fill="none" stroke="#2ca02c" stroke-width="1.05" stroke-linejoin="round"/><path d="M130.2,445.8L130.6,359.9L130.9,296L131.2,291L131.4,287.5L131.8,281.3L132,277.6L132.1,275.4L132.5,268.5L132.6,266.9L132.7,265L133,260.9L133.3,256.4L133.4,255.2L133.5,253.8L133.8,250L134,252.3L134.2,255.5L134.5,260L134.6,262.1L135,256.2L135.6,247L136,255.1L136.2,259.1L136.3,261.2L136.5,262.3L136.6,263.4L136.8,264.5L137.4,266.7L137.5,266.4L137.6,266.2L137.8,265.7L138,265.6L138.6,264.3L139,263.5L139.1,263.2L139.4,263.7L139.5,264.1L139.7,263.8L139.8,262.9L139.8,262.5L140,262L140.2,262.3L140.5,261.9L140.6,262L140.8,261.6L140.9,261.9L141,262L141.4,261.4L141.4,260.5L141.8,258.8L142.2,257.9L142.2,258.3L142.4,258.7L142.5,258.6L142.7,257.3L143,257L143.4,255.4L143.8,254.6L144.2,253.3L144.6,252.8L144.8,252.3L145,252.2L145.4,250.8L145.8,249.5L146.6,247.7L146.8,246.6L147.4,246L147.8,246.3L148,245.8L148.2,245.2L148.3,245.1L148.5,245.4L148.6,245.4L149,244.5L149.4,243.3L149.7,243.3L149.8,243.7L150,244.3L150.4,243.2L150.6,242.7L151,242.7L151.4,242L152.2,242.2L152.6,241.7L153,241L153.2,241L153.4,240.7L154.2,240.1L154.6,240.6L155,240.7L155.4,240.2L155.6,239.7L155.8,239.4L156.6,239.8L156.8,239.7L157,239.4L157.8,239.7L158.2,239.8L158.3,239.3L158.5,239L158.6,240L159,240.1L159.1,240.5L159.4,239.4L159.8,238.8L160,238.9L160.2,238.8L160.3,238.9L161,238.2L161.4,238.3L161.5,237.7L162.1,237.6L162.2,237.8L162.6,237.2L162.7,236.7L162.8,237L163.4,236.5L163.8,236.3L164.6,236.8L165,236.3L165.4,236.4L165.8,237L166.2,236.5L166.6,236.5L166.7,235.9L167,236.9L167.3,236.7L167.4,237.4L167.8,237L168.2,237L168.5,237.3L168.6,236.8L169,235.8L169.4,233.8L170.2,230.4L170.5,229.3L170.6,228.5L171,224.9L171.4,222.5L171.8,220.2L172,219.5L172.1,219L172.2,218.8L172.4,218.8L172.6,219.6L173,220.7L173.2,221.6L173.4,221.1L173.8,222.4L173.8,222L174.2,222.8L174.4,222.6L174.6,224.2L174.8,226.8L175,227.5L175.1,227.4L175.2,227.7L175.6,230.9L175.8,231.8L176.1,234.2L176.2,233.5L176.6,232.2L176.7,231.5L177,230.8L177.2,230.1L177.3,230.3L177.4,230.9L177.8,233.8L178.2,235.3L178.5,237L178.6,236.7L179,237.4L179.2,236.7L179.3,236.7L179.4,236.5L179.8,238.2L180.2,238.2L180.6,238.8L181,237.9L181.4,238.3L181.8,237.1L182.2,236.9L182.6,236.5L183,237.2L183.4,237.2L183.8,238L184,237.2L184.6,236.4L185,236.5L185.4,236.9L185.8,236.6L186,236.3L186.2,236.2L186.6,236.4L186.9,236.1L187,235.8L187.3,235.5L187.4,235.8L187.8,236L188.2,235.1L188.5,234.1L188.6,233.3L189,233.7L189.1,234.3L189.4,234.1L190.2,232.1L190.5,231.2L190.6,231.6L190.8,230.6L191.4,229.3L191.8,229.4L192,229.1L192.2,228.6L192.6,228L192.8,228L193,228.3L193.2,227.4L193.4,226.7L193.5,226.1L193.8,225.3L194.2,223.7L194.3,223.5L194.6,218.3L194.8,216.1L195,212.2L195.4,206.5L195.5,204.6L195.8,201.4L196.2,196.2L196.6,193.1L196.7,192.9L196.7,192.5L197,196.4L197,196L197.1,196.5L197.4,200.7L197.8,206.9L198,210.3L198.2,212.4L198.6,217L199,222L199.4,223L199.8,223.7L200,223.4L200.2,223.5L200.6,221.6L202,215.6L202.2,216.3L202.6,218.1L202.6,217.8L203,220.3L203.4,222.4L203.5,223.2L203.7,223.9L203.8,224.4L204.2,224.7L204.6,224.5L204.7,225.2L204.9,225.1L205,225.9L205.4,225.3L205.8,226.2L206,225.9L206.2,226.9L207.3,227.8L207.4,227.1L207.8,227.6L208.2,227.6L208.5,228.1L208.6,228.7L209,228.5L210.2,228.8L210.6,228.6L210.8,228.1L211,229L211.1,230.2L211.4,230L212,229.4L212.2,229.9L212.3,229.8L212.6,229.2L213,229.3L213.4,229.8L213.8,229.9L214.6,229.3L215,229.1L215.4,229.1L215.8,229.5L216.2,229.7L216.6,230.5L216.7,230L217,230L217.3,229.3L217.4,230L217.6,229.9L217.8,230.3L218.2,229.7L218.8,229.8L219,230.3L219.4,230.7L219.4,230.2L219.8,230.2L220.2,230.5L221.4,229.5L221.8,230.1L222.2,229.8L222.2,229.5L222.6,229.1L223,229.4L223.4,229.1L223.7,229.9L223.8,229.3L224.6,228.2L225,228.3L225.4,228.6L225.8,228.4L226.2,228.1L226.6,228.3L227.2,227.8L227.4,227.4L228.2,227.6L228.5,228.1L228.6,227.8L229.4,227.9L229.8,227.6L230.2,228.1L230.6,228.3L230.8,228.2L231,227.5L231.4,227.5L231.5,227.9L232.2,228.1L232.5,227.6L232.6,227.8L233.4,228L233.7,227.8L233.8,228.3L234.1,228.5L234.2,228.6L235,228.6L235.4,228.9L235.5,228.2L235.8,228.4L236.2,227.4L236.6,227.7L236.6,227.4L237,227.8L237.4,228.1L237.5,228.4L237.8,228.9L238.2,229L238.6,228.8L239,228.3L239.4,228.7L239.8,228.8L240,228.6L240.2,227.7L240.3,227.2L240.6,227.9L241,228.2L241.3,228.7L241.4,228.1L241.8,227.7L242.2,227.8L242.6,227.4L243,227.2L243.4,226.2L243.8,227.7L244.6,228.6L244.9,228.3L245,228.3L245.8,227.3L246,227.7L246.2,227.5L246.4,227.1L246.9,227.6L247,228L247.2,227.8L247.4,227.9L247.8,227.8L248,227.3L248.6,227.2L249,226.9L249.4,226.9L249.5,227.1L249.8,227.8L250,227.8L250.2,227.7L250.3,228.1L250.6,228.4L250.7,227.7L251,227.7L251.4,227.5L251.8,227.6L251.9,227.3L252,227.2L252.2,227.2L252.3,227.1L252.6,228L252.6,227.8L253,228.8L253.4,228.4L253.5,229L253.8,229L254,228.4L254.2,228.6L254.6,228.4L255,228.8L255.3,228.1L255.8,227.7L256,228.5L256.2,228.4L256.6,229.1L257,228.7L257.4,228.6L257.8,228.3L257.9,228.1L258.2,228.6L258.6,228.8L258.8,229.3L259,229.1L259.4,229.4L259.8,229.4L260,229.7L260.2,229.4L261,228.7L261.4,228.9L261.7,229.2L261.8,229.6L262.3,230.1L262.6,229.5L263.4,229.2L263.8,229.6L264.4,229L264.6,228.7L265,228.9L265.4,229.4L265.8,229.3L266,229L266.2,229.1L266.3,229.5L266.4,229.5L266.6,228.9L267,228.7L267.4,229L267.6,228.7L268.2,228.7L268.6,229.2L268.8,229.2L269,228.6L269.4,228.4L269.7,228.9L269.8,229.1L270,229.2L270.2,229.1L270.5,229.3L270.6,228.7L271.1,228.5L271.8,228.2L272,227.9L272.2,228.1L272.3,228L272.5,227.5L272.6,228L273,228.2L273.4,229.1L273.5,228.4L273.8,228.4L274.1,227.9L274.2,228.2L274.6,227.6L275,228L275.4,227.8L275.8,228.3L276.2,227.6L276.4,228.1L276.5,227.6L276.6,228.5L277,227.8L277.4,228.1L277.8,227.3L278.2,227.8L279,227.5L279.4,226.8L279.8,227.2L279.9,227.6L280.6,227.6L281.4,228.2L281.7,228.1L281.8,227.4L282.2,227.7L282.6,227.5L283,225.8L283.4,226.3L283.8,226.1L284.2,226.8L284.6,227L285,226.9L285.2,227.2L285.4,226.7L286.6,227.3L286.6,227.1L287,226.8L287.4,226.7L287.6,226.5L287.8,226.9L287.8,226.7L288.2,226.5L288.6,226.5L288.8,226.8L288.8,226.5L289,226.5L289.4,226.4L289.8,226.4L290,227.2L290.6,227.6L291.1,227.2L291.4,227.3L291.8,227.7L293,227L293.4,226.6L293.5,226.8L293.8,226.7L294.2,226.9L294.5,226.7L294.6,227.5L295,227.5L295.2,228L295.4,226.8L295.8,227.1L296,227.8L296.2,228L297,226.6L297.4,226.4L297.8,226.5L297.9,227.3L298,227.7L298.2,227.2L298.6,226.7L298.7,225.4L299.4,224.7L299.8,225.4L300,225.9L300,226.4L300.2,226L300.5,225.2L300.6,224.6L301,224L301.4,223.7L301.7,223.9L301.8,223.7L302.2,222.8L302.3,222L302.5,220.2L302.6,219.3L302.9,215L303,212.6L303.4,206.4L304.2,223.3L304.6,214.2L305,205.5L305.2,208.9L305.4,213.1L305.8,220.4L305.9,223.2L306.1,225.8L306.2,225.7L306.6,225L307,225L307.4,224.5L307.8,224.8L308.2,223.9L308.2,224.3L308.6,223.7L308.7,224.4L309,219L309.8,204.8L310.1,200.5L310.2,202.5L310.8,210.5L311,213.3L311.4,220.2L311.4,221.1L311.7,224.8L311.8,224.7L312.2,224L312.6,224.3L312.8,223.5L313,224L313.4,223.4L313.8,224.2L314.2,224L314.6,224.5L315,224.5L315.5,225L315.6,225.2L315.8,224.9L316.6,224.6L317,224.9L317.4,224.7L317.8,223.7L318.2,223.4L318.6,223.3L319,223.9L319.4,223.8L320.2,223.7L320.6,224.2L321,223.5L321.4,222.7L321.6,221.6L321.8,221.6L322.2,222L322.6,222.7L322.8,223.4L323,223.9L323.4,225.3L323.8,225.9L324.1,226.8L324.2,226.2L324.6,227L325,226.3L325.2,226.4L325.3,225.6L325.4,225.2L325.8,224.7L326.2,224.4L326.5,223.6L326.6,224L326.8,224.3L327,223.7L327.4,222.7L327.5,222.7L328.1,224L328.2,223.5L328.6,223.3L329,221.9L329.4,222L329.8,221.2L330.2,221.4L330.6,220.8L331,221.2L331,222.1L331.4,221.7L331.8,220.7L332.6,219.4L332.8,219.3L333,218.8L333.4,218.8L333.8,220.6L334.2,221.6L334.6,223.1L335,223.2L335.4,223.7L335.8,223.4L336.2,222.7L336.9,222.8L337,223.1L337,223L337.4,223.1L337.9,222.8L338,222.1L338.2,221.8L338.6,222.4L339,222.4L339.4,222L340.2,222.3L340.6,222L341,222.4L341.4,223.1L341.6,223.8L341.8,224L342.2,223.9L342.6,224L343.4,223.5L343.8,223.3L344,223.9L344.6,224.7L345,223.7L345.4,222.9L345.8,222.7L346.2,222.9L346.3,222.8L346.6,222.7L347,222.2L347.4,222.1L347.8,222.3L348.2,221.5L348.6,221.5L349,221L349.4,220.8L350.1,219.8L350.2,219.8L350.6,219.2L351,219.4L351.3,219.3L351.4,219.5L352.2,217.9L352.6,219.2L353.1,220.7L353.4,221L353.8,222.7L353.9,223.4L354.2,222.6L354.6,220.9L354.8,219L354.8,218.6L355,217.8L355.4,216.9L355.8,214.5L356.2,212.8L356.6,211.4L356.8,210.1L356.9,209.3L357,209.3L357.4,212.4L357.8,215.1L358,217.2L358.1,217.8L358.6,214.5L359.1,210.4L359.2,208.4L359.4,210L359.8,212.5L360,214.8L360.6,219.9L361,222.9L361.2,222.5L361.4,222.5L361.6,221.8L362.6,221.2L362.8,221.3L363,219.9L363.4,217.3L363.5,217.2L363.8,215.9L363.9,215.6L364.5,216.6L364.6,217.1L365,217.8L365.4,219.4L365.7,220.3L365.8,220.5L366.2,219.6L366.3,219.3L366.6,219.2L367,218.2L367.4,216.9L367.5,215.9L368.6,214.5L369,214.4L369.4,215.6L369.8,216.4L370.2,217.4L370.6,217.4L371,217.6L371.1,217.9L371.4,218.2L371.8,218L372.2,218.5L372.6,219.4L373,220L373.3,220" fill="none" stroke="#d62728" stroke-width="1.05" stroke-linejoin="round"/><path d="M130.2,447.1L130.6,367.1L130.9,307.6L131,306.1L131.2,302.6L131.8,292.5L132.1,287.3L132.2,287.2L132.5,285L132.6,283.8L132.7,282.3L133,280.1L133.3,278.5L134,272.6L134.5,268.6L135,265.3L135.4,267.8L135.6,268.6L136.2,272L136.3,272.7L136.6,274.4L137,277L137.4,279.3L137.5,279.7L137.8,281.6L138,282.6L138.2,281.2L138.6,278.8L139,276.1L139.4,274L139.7,271.9L139.8,268.5L140.2,259.2L140.8,242.8L140.9,240.8L141,239.8L141.4,236.8L141.4,236.5L141.8,233.5L142.2,230.3L142.4,228.8L142.5,227.7L142.6,226.9L142.7,226.3L142.9,224.5L143,228.5L143.8,260.7L144.6,262.5L145.4,264.7L145.8,265.7L146.2,266.4L146.3,266L146.6,266.1L146.8,266.1L147,265.9L147.8,265.7L148,265.5L148.2,265.1L148.3,264.7L148.5,264.7L148.6,265L149.4,264.3L149.8,264.5L150.4,263.9L150.6,264L151,263.6L151.8,263.2L152,263.2L152.2,263.1L152.6,262.4L153.2,262.2L153.8,261.8L154.2,261.7L154.6,261.3L155,261.2L155.6,260.4L155.8,260.5L156.6,259.1L156.8,259.4L157,259.4L158.3,258.6L158.6,258.1L159,258.1L159.1,257.9L159.4,257.4L160,256.8L160.3,256.7L161,256L161.5,255.7L161.8,255L162.1,254.5L162.6,255L162.7,255.4L162.8,255.5L163,254.9L163.4,254.5L163.8,254.5L164.6,254.1L165,253.4L165.4,253L165.6,253.5L165.8,253.6L166.2,252.9L166.6,252.5L166.7,252.5L167,252.2L167.3,251.5L167.4,251.7L167.8,251.9L168.2,251.4L169,251.1L169.4,251.1L169.8,250.9L170.2,250.5L170.5,250.4L170.6,250.5L171,250.2L171.4,249.4L171.8,249.5L172,250L172.2,249.1L172.4,249.1L172.6,249.3L173.4,248.1L173.8,246.8L173.8,246.5L174.2,245.1L174.4,244.5L174.8,245.8L175,246.4L175.1,246.8L175.2,247.1L175.4,247.4L175.6,248.3L175.8,248.2L176.2,247.3L176.7,247.3L177,247L177.2,246.9L177.3,247.1L177.4,246.7L177.8,246L178.2,245.7L178.5,245.7L178.6,245.8L179,245.2L179.4,243.6L180.2,242.3L180.6,243.2L181,243.8L181.4,244.6L182.2,244.6L182.6,244L182.8,243.6L183,243.2L183.4,243L183.8,243.2L184,243L184.2,242.5L185.4,241.8L185.8,241.3L185.8,241.2L186.6,240.9L187,240.2L187.3,240.1L187.4,240.4L187.8,240.2L188.5,239.2L188.6,238.4L189,236.4L189,236.5L189.1,236.3L189.8,233.2L190.5,229.3L190.6,229L190.8,227.9L191,226.6L191.4,224.7L191.8,222.5L192,220.9L192.2,219.6L192.6,217.3L193,220.3L193.4,223.6L193.5,224.7L193.8,227.4L194.2,230.6L194.3,231.3L194.6,231.3L194.8,231.4L195.4,231.5L195.5,231.8L195.8,231.8L196.2,232.1L196.2,232.4L196.7,232.6L196.7,232.5L197,233.1L197,232.9L197.1,232.5L197.8,233.2L197.9,233.7L198,233.7L198.2,232.9L198.6,231.8L199.4,229.7L199.8,229.1L200.2,227.7L201,226.1L201.4,225.4L202,217.3L202.2,214.8L202.6,209.3L203,204.7L203.5,194.1L203.7,190L203.8,190.1L204.2,189.7L204.6,189.6L204.7,189.3L205,189.4L205.4,188.6L206,187.8L206.2,188.1L207.3,189.1L207.4,188.9L207.8,189.1L208.5,189.8L208.6,191.5L209.3,204.8L209.4,207.1L209.8,215.4L210.2,223.7L210.3,224.1L210.6,225.4L211.1,227L211.4,227.9L212.2,230.7L212.3,230.8L212.6,231.7L213,232.6L213.1,233L213.4,233.5L213.8,233.7L214.2,234.4L214.6,234.8L215.4,235.3L216.2,236L216.7,236.4L217,235.5L217.3,234.1L217.4,233.5L217.6,233L218.2,235.4L218.8,237.6L219,238.5L219.4,238.6L219.4,238.3L219.6,238.1L220.2,238.4L221,238.3L221.4,238.7L221.5,238.4L221.8,238.5L222.2,238.1L222.2,238.3L223.7,237.9L223.8,237.7L224.2,235.8L224.6,234.2L225,232.9L225,232.6L225.4,231L225.5,230.7L225.8,231.5L226,232.1L226.2,233L226.6,234.1L227.2,236.1L227.4,236.2L227.8,237.8L228.2,238.5L228.5,238.8L229.4,238.8L229.6,238.5L230.2,239.1L230.6,239.3L231,239.7L231.4,239.3L231.5,239L231.8,239.5L232.2,239.8L232.5,239.3L232.6,239L233,239.5L233.7,239.4L233.8,239.2L234.1,239L234.2,239.1L234.6,239.2L235,239.6L235.5,239.6L236.2,239.8L236.6,239.6L236.6,239L237,238.7L237.4,239.2L237.5,239.6L237.8,239.6L238.2,239.4L238.5,239.1L238.6,238.9L239,238.8L239.4,239L239.8,239.1L240,238.9L240.2,239.2L240.3,239.5L240.3,239.3L241,239.2L241.3,239L241.4,239.2L241.8,239.3L242.2,238.9L243,239.4L243.4,239.3L243.5,239L244.2,239.4L244.6,238.9L245,239L245.4,238.9L245.8,239.1L246,239.5L246.2,239.4L246.4,239.1L246.9,239.2L247,239L247.2,239.3L247.4,239.2L247.8,238.8L248,239.4L248.2,239.5L248.6,239L249,239L249.4,239.6L249.5,239.6L249.8,239L250,239L250.2,239.3L250.3,239.1L250.5,239.1L250.6,238.8L250.7,238.9L251,239.3L251.8,239.1L252,239.5L252.2,239.5L252.3,239.3L252.6,239.2L252.6,239.6L253,239.7L253.4,239.2L253.5,239L254,239L255,239.7L255.4,239.3L255.8,239.2L256,238.8L256.2,238.6L256.6,238.7L257,239.3L257.4,239.5L257.8,239.2L257.9,239.4L258.2,238.9L258.6,238.7L259,239.3L259.4,239.3L259.8,238.8L260,238.4L260.2,238.8L260.6,239.1L261.4,238.5L261.8,238.7L262.2,238.8L262.3,239L262.6,238.8L263,239.2L263.4,239.1L263.8,238.5L264,238.6L264.2,238.4L264.4,238.6L264.5,239.1L264.7,238.9L265,238.8L265.4,238.5L265.8,238.5L266.3,239L266.6,239.1L267,238.5L267.4,238.3L267.6,238.7L267.8,238.8L268.2,238.6L268.6,238.8L268.8,238.7L268.9,238.2L269,238.2L269.4,236.6L269.7,235L270.2,233.3L270.5,232.8L270.6,232.9L271,231.6L271.1,231.6L271.4,232L271.8,232.2L272,232.6L272.2,232.8L272.5,232.4L273,234.2L273.5,235.2L273.8,235.4L274.1,235L274.2,235.4L275,235.1L275.4,235.9L276.2,237.8L276.6,238.1L277,238.1L277.4,238.6L279.4,238.4L279.8,238.2L279.9,238.3L280.6,238L281,238.2L281.4,238.6L281.7,238.8L281.8,238.3L282,238.1L282.2,238.3L283,238.4L283.4,238.2L283.8,238.5L284.2,238.4L285,238.9L285.2,238.3L285.8,239.1L286.2,239L286.6,238.7L286.6,238.6L287.6,239.1L287.8,239.1L288.2,238.6L288.6,238.3L288.6,238.9L288.8,239L288.8,238.7L289.8,238.8L289.9,238.4L290.2,239L290.6,238.8L290.8,238.4L291.4,238.8L291.8,239L292.2,238.5L292.6,238.5L293,239L293.4,239.1L293.5,238.7L294.2,238.6L294.5,238.8L295,238.7L295.2,239.1L295.4,239.2L295.7,239L295.8,238.7L296.6,239L297.8,238.8L297.9,238.6L298,238.9L298.2,239.1L298.6,239L298.7,239.2L299.4,238.6L299.8,238.6L300,238.9L300,238.7L300.2,238.4L300.5,238.8L300.6,238.7L301,238.7L301.4,239.2L301.7,239.1L301.8,238.7L302.3,238.5L302.5,238.6L302.6,238.9L302.9,239.1L303,238.6L303.4,238.3L303.8,238.7L304.2,238.8L304.6,238.3L305,238.4L305.2,238.9L305.8,238.8L305.9,238.9L306.2,238.5L306.6,238.8L307,239.4L307.4,239.2L307.8,238.8L308.2,239.2L308.6,239L308.7,239.1L309,238.7L309.4,238.5L310.1,238.9L310.2,239.1L310.8,238.8L311,238.5L311.4,238.6L311.7,238.4L311.8,238.6L312.2,238.8L312.6,238.9L312.8,238.6L313,238.7L313.4,239.1L313.8,238.8L314.6,238.8L315,238.5L315.4,238.6L315.5,238.5L315.6,238.8L315.8,239.1L316.2,238.9L316.6,238.6L317.8,238.8L318.6,238.5L319,238.5L319.4,238.1L320.2,238.8L320.5,239L320.6,238.8L321,238.5L321.4,238.7L321.6,238.6L321.8,238.2L322.6,238.8L322.8,238.7L323,238.9L323.4,238.6L323.8,238.4L324.1,239.1L324.6,238.3L325,238.6L325.2,238.9L325.4,239L326.3,238.4L326.5,238.9L326.6,238.9L326.8,238.4L327.4,238.6L327.5,238.9L328.1,238.6L328.2,238.8L328.6,239.1L329,238.9L329.4,238.6L329.8,238.9L330.6,238.3L331,238.6L331,238.4L331.4,238.3L332.2,238.8L332.6,238.9L333,238.3L333.4,238.6L333.8,238.5L334.2,238.2L334.6,238.3L335,238.1L335.4,238.3L335.8,238.3L336.2,238.2L336.9,239L337,238.6L337,238.1L337.4,238.2L337.8,238.1L337.9,238.5L338,238.9L338.2,238.7L338.2,238.4L338.6,238.5L339,238.7L339.3,238.5L339.4,238.6L339.5,238.8L340.6,238.2L341.4,238.8L341.6,238.1L341.8,238.1L342.2,238.6L343,237.9L343.4,238.4L343.8,238.6L344,238.1L344.6,238.5L344.7,238.3L345,238.1L345.8,238.4L346.2,238.7L346.3,239L347,238.4L347.4,238.2L347.5,237.9L347.7,238L347.8,238.3L348.2,238.2L349,238.7L349.4,238.3L349.8,238.1L350.1,238.5L350.2,238.4L350.6,238.2L351.4,238.9L351.8,238.6L352.2,238.1L352.6,238.1L353,238.5L353.1,238.7L353.4,238.9L353.8,238.6L353.9,238L354.6,238.7L354.8,238.6L354.8,238.7L355.4,237.9L355.7,238.4L355.8,238.8L356.2,238.3L356.6,238.4L356.8,238.9L357,238.7L358,238.7L358.2,238.5L358.6,238.4L359,238.5L359.1,238.3L359.2,238.3L359.4,238.5L359.8,238.4L360,238.2L360.6,238.6L361,238.5L361.2,238.1L361.4,238L361.6,238.2L361.8,238.6L362.6,238.3L362.8,238.5L363,238.1L363.4,238.1L363.5,238.4L363.9,238.4L364.2,238.9L364.5,238.5L364.6,237.9L365,237.7L365.7,238.2L365.8,238L366.2,238L366.3,238.4L366.6,238.6L367,238.5L367.4,238L367.5,237.8L367.8,238.1L368.6,238.3L369,238.6L369.4,238.6L370.6,238.1L371.1,238.1L371.4,237.9L371.8,237.8L372.2,238.1L373,238.1L373.3,237.9" fill="none" stroke="#9467bd" stroke-width="1.05" stroke-linejoin="round"/></g>
<g clip-path="url(#lc1)"><path d="M485.6,447.5L485.9,437.3L486.8,422.1L487,418.1L487.1,415L487.2,414.6L487.5,410.3L487.7,406.9L490,393.5L490.6,390.6L493.6,385.8L494.8,384.1L495.2,383.1L496.4,381.8L496.5,381.4L497,380.7L497.2,380.3L500,378.2L500.4,378L500.8,377.5L501.6,377L502,376.6L503,376.1L504,375.6L504.1,375.5L506.4,374.5L510,373.6L518,372.3L522.4,371.9L533.6,371.7L554.4,372.2L573.2,373.4L582.8,373.8L604,374.5L624,375.1L646.4,375.7L668,376.2L690.4,376.8L713.6,377.4L727.3,377.8L727.3,402L705.2,401.4L682,400.8L660,400.2L639.2,399.6L616.8,399L596,398.3L575.6,397.6L556.8,397L536.4,396.2L526.4,395.9L522,396.4L508.2,398.7L504.1,399.5L497.2,400.9L496.5,401.3L496.4,401.4L495.2,401.9L494.8,402.2L492,403.9L490.6,404.7L489.6,406.7L488.5,409L487.1,415L486.3,440L485.6,447.5Z" fill="#1f77b4" fill-opacity="0.3" stroke="none"/><path d="M485.6,447.5L486.5,400L488,370L490,352L490.4,351.8L493.2,347.9L494.8,346.3L495.2,345.7L496.4,345.1L496.5,344.9L497.2,344.5L504.4,343.2L508.4,342.9L528.4,342.3L539.2,341.9L543.5,341.3L547.2,340.6L555,339L560.8,338L580,337.2L601.2,336.5L621.6,336.3L643.6,336.1L664.8,335.8L687.2,335.6L710.4,335.4L727.3,335.2L727.3,395.1L705.2,394.9L682,394.7L660,394.5L639.2,394.3L616.8,394.1L598.7,393.9L578,392.8L559.2,391.7L554.4,391.6L543.6,392.7L527.6,394.3L508.4,396L505,396.7L498.8,398L496.5,398.6L490.4,400.1L490,400L487.5,408L486.3,435L485.6,447.5Z" fill="#ff7f0e" fill-opacity="0.3" stroke="none"/><path d="M485.6,447.5L487,400L489.4,355.2L490.6,343.5L492,342.4L493.2,341.8L493.6,341.5L496.5,341.1L515.2,341.2L536,341.2L556.4,341.3L575.2,341.2L595.6,341L616.4,340.9L638.8,340.8L659.6,340.8L681.6,340.7L704.8,340.6L727.2,340.5L727.3,340.5L727.3,389.9L705.2,389.5L682,389.2L660,388.8L639.2,388.4L616.8,388.1L596,388L575.6,388L562.3,388.1L560,388.4L554.6,389.3L543.6,391.3L531.2,393.8L524,395.1L508.4,396.7L501.2,397.9L497.2,399L496.4,399.5L495,400L490.4,402L490,402L487.5,410L486.3,438L485.6,447.5Z" fill="#2ca02c" fill-opacity="0.3" stroke="none"/><path d="M485.6,447.5L485.9,438L486,435L486.3,425.2L486.4,422.3L486.5,419L486.8,413.5L487,409.4L487.1,407.8L487.2,405.8L487.5,399.1L487.6,397.9L487.7,395.4L488,389.2L488.4,388.2L488.5,387.1L489.2,383.7L489.4,383L489.6,381.1L490,379.6L490.4,377.1L490.6,376.7L490.8,375.2L491.2,374.1L491.6,371.3L492,369.7L492.4,367.7L492.8,366.4L493.2,364.9L494,363.2L494.4,360.6L494.8,359.2L495.2,357.6L495.6,356.3L496.4,353.2L496.5,353.6L497,351.2L497.2,299.6L498,291.5L498.4,288.7L498.8,283.9L499.2,279.8L499.6,276.2L500,272.1L500.4,271L500.6,270L500.8,269.3L501.2,268.6L501.6,265.8L501.8,265.4L502,265.5L502.4,266.1L502.8,267.6L503,267.8L503.2,268.3L503.6,268.6L504,270.2L504.1,269.9L504.4,274.3L505,284L505.6,294.9L505.9,298.4L506,299.3L506.4,301.2L506.8,304.1L507.6,308.7L508.2,308.3L508.4,309.5L508.8,308.6L509.2,308.5L509.4,309.2L509.6,307L510,303.5L510.4,299.4L510.6,296.8L510.8,298.2L511.2,300.6L511.6,303.1L511.8,303.9L512,303.5L512.4,303.9L512.8,303.1L513.5,302.6L513.6,302.7L514,303.6L514.1,302L514.4,301.3L515.2,299.9L515.3,299.4L515.6,300.1L516,300.1L516.4,300L517.2,301.1L517.6,301.9L518,302.6L518.4,304.3L518.8,303.5L519.2,304.6L519.6,304.9L520,306.1L520.4,306.3L520.6,306.8L520.8,306.8L521.2,305.4L521.6,304.2L522,304L522.4,302.4L522.8,301.5L523.2,299.9L523.6,298.7L524,297.9L524.4,297.5L524.8,296.1L525,295.9L525.2,296.3L525.6,294.3L525.9,294.5L526,293.2L526.4,292.5L526.8,292.2L527.2,290.5L527.6,289.7L528,289.9L528.4,288L528.8,288.1L529.2,286.1L530,284.2L531,282.1L531.2,281.5L531.6,281.1L531.7,280.3L532,280.4L532.4,279.2L532.8,277.4L533.2,276.7L533.6,275.1L534,275.3L534.4,272.8L534.8,272.1L535,272.4L535.2,270.9L536,269.6L536.4,267.3L536.8,266.2L537.2,264.8L537.6,265.6L538,262.5L538.4,261.2L539.2,259.2L539.6,258.4L540,256.7L540.4,256L540.8,254.4L541.2,253.9L542,251.3L542.4,249.4L542.8,248.4L543.2,247.2L543.5,246.8L543.6,246.1L544,245.8L544.4,244.8L544.8,244.5L545,248.2L545.2,246.2L545.6,246.6L546.4,243.4L546.8,242.1L547.2,244.5L547.6,240.2L548,241.8L548.2,239.3L548.4,239.5L548.8,241.2L549.2,240.5L549.3,238.2L550,235.1L550.4,236.5L550.8,235.1L551.1,234.4L551.2,234.7L551.6,235.5L551.7,234.6L552,235.5L552.4,240.5L552.8,239.7L552.9,237.5L553.2,239.7L553.6,237.9L554,236.3L554.4,237L554.6,234.1L554.8,235.7L555,237L555.2,235.9L555.6,235.4L556,239.3L556.4,235.6L556.8,234.9L557.2,234L557.6,235.1L558,237L558.4,237.7L558.7,236.2L558.8,234.8L559.2,235.2L559.6,236.2L559.9,238.6L560,237.9L560.4,236.2L560.5,236.2L560.6,236L560.8,238L561.2,238.9L561.3,241.6L561.6,237.6L562,239.4L562.3,237.9L562.4,239.2L562.8,240.2L562.9,240.1L563.2,239L563.6,241.3L564,241.9L564.4,240.5L564.6,243.5L564.8,243.5L565.2,244.9L565.6,242.5L565.8,242.3L566,242.7L566.4,244.1L566.8,243.4L567,244.4L567.2,244.5L567.6,247.5L568,247.2L568.4,246.7L569.2,248.5L569.6,247.2L570,248.2L570.4,249.6L570.8,248.7L571.2,251L571.6,248.8L572,249.6L572.4,249.6L572.8,248.9L573.2,249L573.3,250.7L573.6,254.8L573.8,251.2L574,249.9L574.4,249.5L574.8,250.6L575.2,249.8L575.6,250.4L576,249.4L576.4,252.1L576.8,249.7L577.2,251.2L577.6,250.8L578,250.1L578.4,253.7L578.7,250.3L578.8,251.1L579.2,251.5L579.5,250.3L579.6,251.8L580,251L580.4,255.3L580.5,251.7L580.8,251.8L581.2,252.1L581.6,256.7L582,256L582.4,254.1L582.8,253.9L583.2,256.8L583.4,253.8L583.6,253.6L584,254.8L584.4,252.2L584.6,254.8L584.8,253L585.2,250.8L585.6,250.5L585.8,249.8L586,251.1L586.4,250.7L586.8,248.3L587.2,249.3L587.5,250.3L587.6,248.2L588,250.2L588.4,251L588.8,248.2L589.2,249.5L589.6,247.9L590,249.3L590.4,247.6L590.5,250.1L590.8,247.1L591.2,246.8L591.6,247L592,245.2L592.4,247.4L592.8,244.7L593.2,244.1L593.6,244.6L594,244.5L594.4,245.8L594.8,243.7L595.2,244.5L595.6,245.6L596,242.4L596.8,246.3L597.2,243.7L597.6,242.5L598,244.3L598.4,245.5L598.7,242.5L598.8,242.2L599.2,242.4L599.6,241.7L600,243.1L600.4,242.9L600.8,244.1L601.2,241.7L601.6,241.9L602,243.3L602.2,241.7L602.4,243.4L602.8,241.7L603.2,247.5L603.6,242.4L604.4,243.4L604.7,244.1L604.8,249.5L605.2,245.3L605.6,246.6L605.7,245.1L606,246L606.4,246L607.2,244.5L607.6,242.3L608,241.9L608.1,243L608.2,241.8L608.4,243.1L608.8,244.3L609.2,245.2L609.6,241.9L610,241.3L610.4,245.6L610.8,242.4L611.6,242L612,241.7L612.4,243.3L612.8,241.6L612.9,242.2L613.2,245.5L613.5,246.4L613.6,244.7L614,244.1L614.8,245L615.2,244.1L615.6,245.6L616,244.5L616.4,246.2L616.8,245.3L617,245.8L617.2,247.7L617.6,248.6L618,246.6L618.4,248.1L618.8,246.8L619.2,248.4L619.6,248.2L620,248.5L620.4,247.7L620.8,248.7L621.1,247.6L621.2,250.6L621.6,247.1L621.7,246.5L622,246L622.4,246.1L622.8,249.5L623.2,246.2L623.5,245.7L623.6,247.9L624,247.1L624.4,245.9L624.8,249.8L625.2,246.7L625.6,247.5L626,246.7L626.4,245.7L627.2,247.5L627.6,246.5L628.4,248.9L628.8,245.8L629.2,247.1L629.6,247.4L630,247L630.4,245.8L630.8,245.5L631.2,248.7L631.6,245.6L632,246.2L632.4,245.1L632.8,249.4L633.2,246.6L633.6,245.2L634,248.1L634.4,246.7L634.8,248.5L635.2,246.8L635.6,245.7L636,245.7L636.4,244.6L636.8,244.9L637.2,247.6L637.6,244.8L638,247.2L638.4,246.5L638.8,245.5L639.2,243L639.6,243.4L640,242.7L640.4,242.8L641.1,242.5L641.2,242.3L641.6,244.7L642,243.8L642.3,242.7L642.4,241.8L642.8,241.9L642.9,245.4L643.2,241.3L643.6,241.5L643.7,241.7L644.4,244.6L644.8,242.4L645.6,240.1L646,241.9L646.4,239.9L646.8,241L647,239.1L647.2,242.6L647.6,242.1L648,241.1L648.2,238.8L648.4,242L648.8,241.2L649.2,238.8L649.6,239.3L650,244.2L650.4,238.4L650.5,240.1L650.8,239.5L651.2,238.1L651.6,238.4L652,236.8L652.4,236.9L652.8,238.9L653.2,238.8L653.6,237.1L654.4,238.5L654.8,238.5L655.2,238.3L655.6,239.3L656,235.4L656.4,237.1L656.8,235.9L657.2,234.3L657.6,236.2L658,234.7L658.4,233.7L658.7,237.3L658.8,236.7L659.2,234.2L659.6,234.3L660,233L660.4,234.1L660.8,233L661.2,232.6L661.6,233.5L662,232.3L662.3,233.1L662.4,232.5L662.8,234.1L663.2,232.4L663.6,234.2L664,234.4L664.4,233L664.6,233.6L664.8,235.2L665.2,233L665.6,235.7L666,233.2L666.4,233.1L666.8,233.9L667.2,234L667.6,235.3L668,232.9L668.4,234L668.8,236.4L669.2,233.5L669.6,233.9L670,233.6L670.4,234.7L670.5,235.2L670.8,234.3L671.2,234.5L671.6,235.7L672,233.6L672.4,234.4L672.8,234.1L673.2,234L673.6,236.9L674,235.9L674.4,235.4L674.8,237.4L675.2,235.4L675.6,234.5L676,236.3L676.3,234.9L676.4,234.6L676.8,236.4L677.2,235.5L677.6,237.1L678,237.1L678.4,237.8L678.8,237.4L679.2,238.1L679.6,237.8L680,238.9L680.4,241.5L680.8,242.2L681,239.5L681.2,238.6L681.6,242.2L682,240.5L682.4,237.5L682.8,235.7L683.2,234.5L683.6,235.4L684,234.9L684.4,236.7L684.6,234L684.8,230.8L685.2,233.2L686,233.7L686.4,231L686.8,233L687.2,233.3L687.6,234.3L688,232.9L688.4,230.4L688.8,231.3L689.6,230.4L690,234L690.4,230L690.8,230.3L691.2,230L691.6,232.3L692,232.1L692.4,230.5L692.8,231.2L693.2,232.6L693.6,232.1L694,230.6L694.4,232.5L694.8,229.8L695.2,230.7L695.6,229.5L696,230.4L696.4,229.8L696.8,232.8L697.2,230.7L697.6,232.7L698,229L698.4,230.7L698.8,229L699.2,229.6L699.6,231.9L699.8,228.8L700,230.3L700.4,228.8L700.8,229.5L701.2,233.2L701.6,229.9L702,230L702.4,231.1L702.8,227.3L703.2,228.9L703.6,229.2L704,227.3L704.4,227L704.8,227.6L705.2,228.6L705.6,225.8L705.7,226L706,227.9L706.4,226.8L706.8,225.4L707.2,228.2L707.6,228L708,225.2L708.4,225.4L708.8,225.4L709.6,224.2L710,229.6L710.4,225.2L710.8,224.4L711.2,227.2L711.6,225.5L712,227L712.4,223L712.8,224.1L713.6,222.6L714.4,222.3L714.8,224.7L715.2,225.1L715.6,221.7L716,220.9L716.4,223.1L716.8,220.3L717.2,221.1L717.6,221.4L718,219.1L718.4,222.9L718.8,218.6L719.2,222.6L719.6,219.7L719.8,219.9L720,220.9L720.4,219.4L720.8,219.2L721.2,218.2L721.6,218.7L722,218.5L722.4,218.4L722.8,217.8L723.2,217.8L723.3,221.6L723.6,222.7L724,223L724.4,223.8L724.5,227L724.8,224.6L725.2,224.3L725.6,228.3L726,224.4L726.4,224.9L726.8,226.3L727.2,224.2L727.3,224.3L727.3,382.2L705.2,381.6L682,381L660,380.4L639.2,379.8L616.8,379.2L597.6,378.7L577.2,378.9L570.8,379.1L567.2,379.7L562.9,381L562.8,381.1L562.4,381.2L562,381.5L561.3,381.8L561.2,382L560.6,382.4L560.4,382.8L560,383L559.9,383.3L558.8,384L558.7,384.3L556,386L555,386.6L554.4,387L552,387.6L546.4,388.7L542,389.4L525,390.6L505.2,393.2L495,394.5L491.2,395.4L490.6,395.4L490,397.5L487.5,408L486.3,438L485.6,447.5Z" fill="#d62728" fill-opacity="0.3" stroke="none"/><path d="M485.6,447.5L487,415L490,390L496,378L505.2,369.9L525,359.3L535,354L545,345L549.3,333L555.2,321L559.9,312.8L560.6,300L561.3,289.3L562,300L562.9,310.5L568.8,312.5L572.8,314L573.3,302L573.8,294L574.4,303L575.2,314L577.5,312.8L578.7,251.7L579.5,205.9L580.4,251.7L581.6,287L584,310.5L587.5,315.2L590.5,328L591.6,332L600.8,331.4L611.2,330L617,299.9L620,318L621.7,330L641.1,330.4L642.3,264.6L643.7,300L645.2,330.6L665.2,331L687.6,331.7L710.8,332.4L727.3,332.9L727.3,382.2L705.2,381.6L682,381L660,380.4L639.2,379.8L616.8,379.2L598.8,378.8L578.4,379.4L560.6,380L555,381.3L554,381.6L551.2,382.3L546.4,383.6L543.6,384.4L542,384.8L535,386.7L531.7,387.5L530.4,388L526,389.3L525.6,389.5L524,390.1L522,390.8L520.6,391.3L515.3,393.1L514.8,393.3L513.6,393.7L512.8,394L511.8,394.4L510.6,394.8L509.4,395.4L508.2,396L506,396.9L505.9,397L505,397.5L504.1,397.9L504,398.1L503,398.5L501.8,399.1L500.6,399.8L499.2,400.4L497.2,401.3L496.5,401.7L496.4,401.9L495.2,402.4L494.8,402.7L492,404.2L490.4,405L490,405L487.5,415L486.3,440L485.6,447.5Z" fill="#9467bd" fill-opacity="0.3" stroke="none"/><path d="M485.6,447.5L485.9,437.5L487.7,408.1L490,396L490.6,393.1L493.6,388.3L494.8,386.6L495.2,385.6L496.4,384.3L496.5,383.9L497,383.2L497.2,382.8L500,380.8L500.4,380.5L500.8,380L501.6,379.6L502,379.2L503,378.6L504,378.2L504.4,377.9L506.4,377.1L510,376.2L518,374.9L522.4,374.6L533.6,374.4L554.4,375L573.2,376.2L582.8,376.7L604,377.5L624,378.1L646.4,378.8L668,379.5L690.4,380.2L713.6,380.9L727.3,381.3" fill="none" stroke="#1f77b4" stroke-width="1.1" stroke-linejoin="round"/><path d="M485.6,447.5L486.5,420L488,398L490,384.9L490.6,381.5L492,380.2L494,377.9L494.8,377.2L495.2,376.6L496.4,375.7L496.5,375.5L497.2,374.7L500.4,373.1L500.8,372.8L501.8,372.3L503.6,371.5L506.4,370.5L510,369.7L518.8,368.9L525,368.7L546.4,368.7L564.6,368.7L584.4,368.7L605.6,368.7L626,368.8L648,368.9L670,368.9L692.4,369L715.6,369.1L727.3,369.1" fill="none" stroke="#ff7f0e" stroke-width="1.1" stroke-linejoin="round"/><path d="M485.6,447.5L486.5,425L487.9,390.5L490,379.5L490.6,376.8L493.2,374.5L495,373.4L495.6,373L496.4,372.7L496.5,372.6L497.6,371.9L500.4,370.7L500.8,370.3L501.8,369.9L503.6,369.2L506.4,368.2L511.2,367L519.6,365.3L525.9,364L533.2,362.7L545.2,361.2L556,360.5L574.8,360.8L595.2,361L616,361.4L638.4,361.8L659.2,362.2L681.2,362.6L704.4,363L726.8,363.4L727.3,363.4" fill="none" stroke="#2ca02c" stroke-width="1.1" stroke-linejoin="round"/><path d="M485.6,447.1L485.9,440L486,437.9L486.3,430.3L486.4,425.5L486.5,421L486.8,408.2L487,400.1L487.1,395.7L487.2,394.6L487.5,393.2L487.6,393.5L487.7,393.4L487.9,391.9L488,391.4L488.4,390.1L488.5,389.6L488.8,388.7L489.2,387.2L489.6,386.1L490,384.4L490.4,383L490.6,382.6L490.8,381.7L491.2,380.8L491.6,380.2L492.8,378L493.2,377.6L493.6,376.8L494,375.9L494.8,374.4L495,373.8L495.2,373.8L495.6,373.1L496,372.6L496.4,372.3L496.5,371.4L496.8,370.7L497,370.6L497.2,370.1L497.6,369.7L498,368.4L498.4,367.6L499.2,366.8L499.6,365.8L500.4,364.3L500.6,363.7L500.8,363.6L501.8,364.2L502,364.1L502.4,363.5L502.8,363.4L503,363L503.2,362.9L503.6,363.8L504,364.1L504.1,363.9L504.8,364.8L505.2,365L505.9,365.9L506,365.6L506.4,365.6L506.8,365.4L507.2,364.7L507.6,364.6L508.2,365.1L508.4,364.6L508.8,364.3L509.2,364.5L509.4,364.4L509.6,363.9L510,364.2L510.4,364.1L510.6,363.8L510.8,364L511.6,363.7L511.8,364L512,363.8L512.4,363.1L512.8,362.6L513.2,362.7L513.6,363.1L514,362.9L514.1,362.7L514.8,362.5L515.3,362.7L515.6,362.7L516,363.2L516.4,363.2L516.8,362.4L517.2,362.6L517.6,363L518,362.4L518.8,362.6L519.2,362.2L520,361.9L520.4,361.9L520.6,362.3L521.2,361.8L521.6,362.2L522.4,361.1L522.8,361.1L523.5,360.4L523.6,360.6L524,360.8L524.8,360.2L525,360.5L525.9,360.2L526,360.1L526.4,360.3L526.8,360.1L527.2,359.6L527.6,359.4L528.4,358.6L528.8,358.9L529.6,359L530,358.7L530.4,357.8L530.8,358.1L531,358.6L531.2,357.8L531.6,357.7L531.7,357.9L532,357L532.4,356.6L532.8,356.7L533.2,357L533.6,356.7L534,356L534.4,355.9L534.8,355.6L535,355.3L535.6,355.6L536,355.5L536.8,354.1L537.2,354.1L538.4,353.5L539.2,354.8L539.6,354.1L540,354.1L540.4,354.6L540.8,353.8L541.2,353.4L541.6,353.9L542,354.2L542.4,354.2L542.8,354L543.2,354L543.5,354.5L543.6,355L544,354.3L544.4,353.4L544.8,354L545,353.9L545.2,353L546.4,353.3L546.8,353.1L547.2,352.5L547.6,352.4L548,352.5L548.2,352.7L548.4,352.6L548.8,351.6L549.2,351.2L549.3,351.9L549.6,351.9L550,350.8L550.4,350.7L551.1,351.3L551.2,351L551.6,350.8L551.7,351.2L552,350.9L552.4,350.8L552.8,351.6L552.9,352.1L553.6,351.7L554,351.9L554.4,352L554.8,351.6L555,351.7L555.6,352.6L556,352.4L556.4,352L556.8,352.3L557.2,351.8L557.6,351.7L558,351.1L558.4,350.8L558.7,351.4L558.8,350.8L559.2,350.2L559.6,351L559.9,351.1L560,350.6L560.4,350.5L560.5,350.6L560.6,350.9L560.8,351.2L561.2,351.1L561.3,350.9L561.6,351L562,351.7L562.3,351.9L562.4,351.7L562.8,351.8L562.9,351.3L563.2,351.3L563.6,351.9L564,352.3L564.4,352L564.6,351.7L565.2,352L565.8,351.7L567,352L567.6,352.2L568,351.9L568.4,351.7L568.8,352L569.3,352.1L569.6,352.5L570,352.3L570.4,351.7L571.2,352.8L571.6,352.8L572,352.6L572.4,352.9L572.8,353.5L573.2,353.1L573.3,352.8L573.8,353L574.4,352.7L575.2,353.4L575.6,353.2L576,353.3L576.4,352.7L576.8,352.9L577.2,353.4L577.5,353.2L577.6,353.3L578,353.2L578.7,353.5L578.8,353.1L579.2,352.9L579.5,353.1L579.6,353.4L580,353.1L580.4,352.5L580.5,352.8L581.2,352.8L581.6,352.9L582,352.3L582.4,352L583.2,352.5L583.4,352.2L583.6,352.2L584,352.6L584.4,352.2L584.6,351.4L584.8,351.2L585.2,351.1L585.6,351.2L585.8,351.3L586,351.2L586.4,351.4L587.2,350.7L587.5,351.8L587.6,352.3L588,352L588.4,351.8L588.8,352.1L589.2,352.1L590,351.2L590.4,351.2L590.5,351.3L590.8,351.1L591.2,351.1L592.4,351.6L593.2,351L593.6,351.8L594,351.8L594.4,351.7L594.8,351.9L595.6,351.8L596,351.2L596.4,350.9L596.8,351.1L597.2,350.8L598,350.8L598.4,350.5L598.7,350.9L598.8,351.3L599.6,350.8L602,351.1L602.2,351.3L602.4,351.3L603.2,350.8L603.6,351L604,351.1L604.4,351L604.7,350.4L604.8,349.8L605.7,351.4L606,351.5L606.8,351L607.2,350.6L608,351L608.1,350.9L608.2,351.1L608.4,351L608.8,351.2L609.6,350.7L610.4,350.6L610.8,351.2L611.6,351L612,351.3L612.8,351.2L612.9,350.7L613.2,350.6L613.5,351.3L613.6,351L614,350.6L614.8,350.7L615.2,350.6L615.6,350.9L616,351L616.4,350.3L616.8,350.8L617,351.4L617.2,351.1L618.4,350.6L619.2,351.1L619.6,351.1L620,350.9L620.4,350.6L620.8,350.5L621.1,350.9L621.2,351.3L621.6,350.9L621.7,350.4L622,350.8L622.4,351.1L622.8,351L623.5,350.2L623.6,350.4L624,350.5L624.4,350.2L624.8,350.5L625.2,350.9L625.6,350.7L626,350.4L626.4,350.2L626.8,350.8L627.6,350.2L628,350.8L628.4,350.5L629.6,350.7L630,350.9L630.4,350.6L630.8,351L631.2,351.1L631.6,351L632.4,350L633.2,350.8L633.6,350.6L634,350.6L634.8,350.2L635.6,350.2L636,350.3L636.4,350.1L636.8,350.2L637.2,350.8L637.6,350.5L638,349.9L638.4,350.4L639.2,350.6L639.6,350.8L640,350.3L640.4,350.3L640.8,350.7L641.1,350.8L641.2,350.5L641.6,350.4L642.3,349.6L642.4,350.3L642.8,350.7L642.9,350.5L643.2,350.4L644,350L644.8,350L645.2,349.8L645.6,350.1L646.4,350.1L646.8,350.3L647,350.2L647.2,350.4L647.6,349.9L648,349.2L648.4,350.3L648.8,350.6L649.2,350.6L650,349.9L650.4,349.8L650.5,350.2L650.8,349.8L651.2,349.4L652,349.8L652.4,349.1L652.8,349.1L653.2,349.8L654,349.7L654.4,349.9L654.8,349.6L655.2,349.5L655.6,349.7L656,349.4L656.4,349.5L656.8,350L657.2,349.6L657.6,348.8L658,348.8L658.4,349.6L658.7,350L658.8,349.5L659.6,349.1L660,348.8L660.4,349L660.8,349.6L661.2,349L661.6,348.7L662.3,349.2L662.4,349.5L663.2,350L664,349.9L664.4,349.4L664.6,348.9L664.8,349.5L665.2,349.6L665.6,349.4L666.4,348.3L667.2,349.5L668,349L668.4,348.7L668.8,348.8L669.2,349.5L669.6,349.8L670,349.5L670.4,349.1L670.5,348.8L670.8,349.1L671.2,349.8L672,349L672.4,349.2L672.8,348.9L673.2,348.3L673.6,348.3L674,349.1L674.8,348.5L675.2,348L675.6,348.5L676,349.4L676.4,348.9L676.8,348.8L678.8,349L679.2,349.3L680,348.6L680.4,348.8L680.8,348.5L681,348L681.2,348.5L681.6,348.8L682,348.4L682.4,348.8L683.2,348.6L684.4,349.3L684.6,348.8L684.8,348.8L685.2,349L685.6,348.8L686,348.8L686.4,348.9L687.2,348.5L687.6,349.1L688,349L688.4,349.2L688.8,349L689.2,348.6L689.6,348.7L690.4,348.3L690.8,348.3L691.2,348.5L691.6,348.5L692,348.7L692.4,349.2L692.8,348.6L693.2,348.5L693.6,348.9L694,348.7L694.4,349.3L694.8,349.5L695.2,349L695.6,348.7L696,348.1L696.4,348.2L696.8,348.6L697.2,348.4L698,348.8L698.4,349.3L698.8,349.3L699.6,348.8L699.8,348.6L700,348.8L700.4,348.3L701.2,348.8L701.6,348L702,348.6L702.4,349.4L703.2,348.1L703.6,349L704,349.2L704.4,348L704.8,347.8L705.2,348.7L705.6,349L705.7,348.7L706,348.8L706.4,348.8L706.8,348.4L707.2,347.8L708,348L708.4,347.8L708.8,348.5L709.2,348.6L709.6,348.1L710,347.9L710.8,348.2L711.2,347.7L711.6,347.5L712,348.2L712.4,348.2L712.8,347.6L713.6,346.9L714,346.9L714.4,347.8L714.8,348L715.2,347.4L715.6,347.2L716.4,347.5L717.2,347.3L717.6,347.5L718,348.1L718.4,347.8L718.8,347.3L719.2,347.7L719.6,347.5L719.8,347.1L720,347.3L720.4,347.5L720.8,347.5L721.2,347.3L721.6,347.4L722,347.3L722.4,346.8L722.8,346.6L723.3,347.3L723.6,347.2L724,347.8L724.4,347.9L724.5,347.7L724.8,347.3L725.6,347.4L726,347.1L726.4,347.5L727.2,347.7L727.3,348.1" fill="none" stroke="#d62728" stroke-width="1.1" stroke-linejoin="round"/><path d="M485.6,447.6L485.9,442.5L486,440.6L486.3,434.9L486.5,431.9L487.1,415.8L487.2,413.3L487.5,405.2L487.6,404.2L487.7,403.8L487.9,402.4L488,401.5L488.4,399.6L488.5,398.9L488.8,397.1L489.2,395.1L489.4,394L489.6,392.4L490.6,385.8L490.8,385.7L492,384.1L492.4,383.2L492.8,382.8L493.6,382.7L494,382.3L494.4,381.4L495,380.8L496,378.9L496.4,378.5L496.5,379.1L496.8,378.3L497,377.5L497.2,377.8L497.6,377.6L498,377L498.4,376.1L498.8,375.5L499.2,375.5L499.6,375.2L500,374.7L500.4,373.9L500.8,373.5L501.2,372.7L501.6,372.2L501.8,372.5L502,372.4L502.4,371.6L502.8,371.1L503,371.2L503.2,371.7L503.6,370.9L504,370.3L504.1,371L505,370.9L505.2,369.9L505.6,370.1L505.9,370.6L506.8,369.7L507.2,369.9L507.6,369.6L508,368.8L508.4,369.3L509.2,369.1L509.4,368.6L509.6,368.6L510,368L510.4,368.2L510.6,368.5L510.8,368.1L511.2,368.4L511.6,368.3L511.8,368.1L513.2,367.6L513.5,367.4L513.6,367.2L514,367L514.1,367.1L514.4,366.7L514.8,366.4L515.2,366.8L515.6,366.6L516,366.7L516.4,367L516.8,366.5L517.2,365.5L517.6,365.3L519.2,365.7L519.6,365.5L520,365.1L520.4,365.1L520.8,364.7L521.2,365.4L521.6,365.3L522,364.4L522.4,363.8L523.2,364.4L523.5,363.9L523.6,364.5L524,364.8L524.4,363.8L524.8,363.3L525,363.8L525.2,364L525.6,363.5L525.9,363.6L526,364.2L526.4,363.4L526.8,362.5L527.2,362.4L528,363.2L528.4,362.9L528.8,362.5L529.2,362.3L529.6,362.4L530,362.1L530.4,361.5L530.8,361.6L531,362.1L531.2,362.1L531.6,361.8L531.7,361.6L532,361.7L532.8,361.1L533.2,361.3L534,361.1L534.8,361.4L535,361L535.6,361.2L536.4,360.7L536.8,360.9L537.6,360.5L538.4,360.7L538.8,360.6L539.2,361L540,360.2L540.4,360.5L540.8,360.5L541.2,360.1L542,360.1L542.4,359.9L542.8,360.2L543.2,360L543.5,359.7L543.6,359.5L544,359.6L544.4,359.5L545,358.6L545.2,359.2L545.6,359.6L546.8,359L547.6,358.8L548.4,358L548.8,358.1L549.3,357.9L549.6,358.3L550.4,358L550.8,358.2L551.1,357.6L551.2,356.9L551.7,357.4L552,357.3L552.4,357.5L552.9,357.1L553.2,357.5L553.6,357.4L554,356.8L554.4,356.4L554.6,356.4L554.8,356.7L555,356.7L555.2,356.2L555.6,355.8L556,355.6L556.8,354.5L558,353.5L558.4,352.9L558.7,352.3L559.2,352.1L559.6,352.2L559.9,352.4L560.4,351.6L560.5,352L560.6,352.8L561.3,352L561.6,352.6L562,352.2L562.3,351.7L562.4,352.1L562.9,352.3L563.2,352.3L564,353L564.4,353.6L564.6,354.2L564.8,353.8L565.2,353.5L565.6,354L565.8,354.8L566,354.5L566.8,354.8L567.2,353.9L567.6,353.9L568.8,354.3L569.2,354L569.3,353.9L569.6,354.1L570,354L570.4,353.6L571.6,353.2L572,353.2L572.4,352.8L572.8,352.8L573.3,353.5L573.6,353.4L573.8,353.6L574,354.3L574.8,354.3L575.2,354.6L575.6,353.5L576,352.6L576.4,351.3L576.8,349.8L577.2,348.8L577.5,348.6L577.6,348L578,345L578.4,342.5L578.7,341L578.8,341.6L579.5,342.8L579.6,343.3L580.4,345.1L580.5,345.5L580.8,345.7L581.2,345.4L581.6,345.9L582,345.8L582.4,345.1L582.8,345.8L583.2,348.2L583.4,349.1L584,352.5L584.4,352.5L584.6,352.3L584.8,352.2L585.6,352.4L585.8,352.9L586,353.2L586.8,353.1L587.2,353.3L587.6,353.1L588,353.7L588.4,353.6L588.8,353.3L589.2,353.6L589.6,353.8L590,353.6L590.5,353.9L590.8,353.9L591.2,354.8L591.6,354.8L592.8,354.7L593.2,355L593.6,355.1L594,355.5L594.4,356.1L595.2,356L595.6,356.3L596.4,356.3L596.8,356.1L598.7,356.8L598.8,357.1L599.6,358.2L600,358.1L600.4,357.3L600.8,357.1L601.2,357.1L601.6,356.6L602,356L602.2,355.5L602.4,355.5L602.8,356L603.2,355.7L603.6,355.1L604.7,354.6L604.8,354.1L605.2,354L605.6,354.6L606,354.9L606.8,355L607.2,355.5L608.1,355.1L608.2,355.3L608.4,354.9L608.8,354.3L609.6,355L610,355.1L610.4,354.6L611.2,354.9L611.6,354.3L612,354.3L612.4,354.6L612.8,354.4L612.9,352L613.2,351.8L613.5,352.1L613.6,352.4L614.4,351.8L616.4,351L617,350.7L617.2,350.5L617.6,351L618,352L618.4,352.3L618.8,352.3L619.2,353L619.6,353.4L620,353.6L620.4,354.3L621.2,355L621.6,355.1L621.7,355.3L622.4,355.6L622.8,356.5L623.2,356.8L623.5,357.2L623.6,357.6L624.4,357.7L624.8,357.6L625.2,357.8L625.6,357.6L626,357.2L626.4,357.5L627.2,357.4L627.6,357.6L628.8,356.5L629.2,357.2L629.6,357.3L630,356.6L630.4,357.1L630.8,357.5L632,357.1L632.4,356.9L632.8,356.8L633.6,357.5L634,357.6L634.4,357.4L634.8,356.6L635.2,356.7L635.6,357.2L636,356.5L636.4,356.8L636.8,357.4L637.2,357.1L638.8,357.1L639.2,355.5L640,352.6L640.4,351.5L640.8,349.9L641.1,348.1L641.2,348L642,348L642.8,347.6L642.9,347.8L643.2,348.6L643.6,349.2L643.7,349.1L644,349.3L644.4,349.8L645.2,351.7L645.6,352.4L646,352.9L646.4,353.6L646.8,354.1L647,354.2L647.6,355.9L648,356.7L648.4,356.7L649.6,356.2L650.4,355.3L650.8,355.2L651.2,354.7L652,355.3L652.4,355.1L653.2,355.6L653.6,354.8L654,354.4L654.4,355.2L655.2,354.9L655.6,355.2L656,354.9L656.4,355L656.8,354.8L657.2,354.9L657.6,355.5L658.4,354.8L658.8,355.6L659.2,355.3L659.6,355.6L660.4,355.2L660.8,355.7L661.2,355.7L661.6,356L662.3,355.7L662.4,355.9L662.8,356.3L663.2,356.7L664,356.1L664.6,356.4L664.8,356.3L665.2,356.6L665.6,356.6L666,356.9L666.4,357L666.8,356.5L667.2,356.3L667.6,356.3L668,356.8L668.4,357L669.2,357.3L669.6,357.1L670,356.7L670.4,356.5L670.5,356.7L670.8,356.4L671.6,356.6L672,356.5L672.8,356.7L673.2,357.4L673.6,357L674,356.5L674.4,357.2L674.8,357L675.2,356.5L676,356.8L676.3,356.5L676.4,356.5L677.2,357.5L677.6,357.3L678,356.7L678.4,356.7L678.8,356.3L679.2,356.3L679.6,357.2L680,357.2L680.4,356.8L681,356.8L681.2,356.6L682,357.1L682.4,356.7L682.8,357.1L683.2,357.3L683.6,356.8L684,357.2L684.4,357.3L684.8,357L685.2,356.4L685.6,356.6L686,357.3L686.8,356.9L687.2,357.2L688,357.1L688.8,357.2L689.2,356.9L690,357.4L690.8,357.3L691.2,356.6L691.6,356.5L692,357.1L692.4,356.6L693.2,357.6L693.6,357.1L694,356.9L694.8,357.2L695.2,356.8L695.6,356.7L696,357.1L696.8,357.4L697.6,356.8L698,357.1L699.2,357L699.6,357.1L699.8,357.3L700.4,357.3L701.2,356.8L702,357.1L702.4,356.8L702.8,356.8L703.6,357.7L704.4,357.7L705.2,357.2L705.6,357.1L705.7,356.9L706,357.5L706.4,357.7L706.8,357.5L707.2,358L707.6,358.3L708,357.6L708.4,357.4L709.2,357.4L709.6,357.2L710,356.8L710.4,357L710.8,357.6L711.6,357.2L712,357.9L712.4,357.7L712.8,357.6L713.2,358.1L713.6,358L714,357.4L714.8,357.9L715.2,357.4L715.6,357.2L716,357.6L716.8,357L717.2,357.1L717.6,357.1L718.4,357.7L718.8,357.1L719.2,356.9L719.6,357.5L720,357.2L720.4,357.5L720.8,357.2L721.6,357L722.4,357.6L722.8,357.1L723.3,356.8L723.6,357.5L724,357.7L724.4,357.3L724.5,357.4L724.8,357.2L725.2,357.4L725.6,357.2L726,357.2L726.4,357.6L726.8,357.4L727.2,357.7L727.3,357.9" fill="none" stroke="#9467bd" stroke-width="1.1" stroke-linejoin="round"/></g>
<g clip-path="url(#lc2)"><path d="M837.5,360L838.3,445L840,455.5L852.8,455.6L864.9,455.6L878.4,455.7L893,455.7L906.8,455.8L922.8,455.8L936.3,455.9L949.1,456L962,456L976,456.1L989.3,456.1L1002,456.2L1016.4,456.2L1031.3,456.3L1047.5,456.4L1065.5,456.4L1080.6,456.5L1080.6,458.1L1062,458.1L1045.2,458.1L1029.5,458.1L1014,458.1L1000,458.1L986,458.1L974,458.1L960.1,458.1L946.4,458.1L934,458.1L920,458.1L904,458.1L889.1,458.1L876.4,458.1L862.8,458.1L850.6,458.1L838,458.1L837.5,458.1Z" fill="#1f77b4" fill-opacity="0.3" stroke="none"/><path d="M837.5,451.7L837.9,448.3L838,447.7L838,448.8L838.3,449.2L838.4,450.1L838.5,451.7L838.6,449.8L838.8,450.2L839.1,450.8L839.1,450.5L839.5,449.4L840,449.9L840,450.5L840.3,449.7L840.4,450.1L840.8,446.3L840.8,445.6L841.1,446.8L842,447.3L842,446.6L842.4,447.7L842.6,446.9L842.8,447.8L843,444.4L843.1,449.3L843.1,446L843.5,445.6L843.8,446.6L844,448.1L844.4,448.6L844.8,446.2L845,442.7L845.1,427.8L845.5,384.3L845.5,383.1L845.6,379.2L846,352.6L846,348.4L846.1,339.5L846.4,357.6L846.5,371.1L846.8,389.2L846.8,392.3L847.1,418.6L847.5,441L847.5,440.5L847.5,441.3L848,442.6L848.4,445.1L848.5,445L848.7,443.8L848.8,444.6L849.1,443.1L849.5,443L850,434.5L850,427L850.3,386.4L850.4,380.3L850.6,353L850.6,352.9L850.8,376.7L851,409.4L851.1,431.6L851.4,445.9L851.5,447L852.2,446.8L852.4,445.9L852.6,443.1L852.8,443.7L853,445.9L853.1,446.4L853.2,445L853.5,446.3L853.8,446.1L854,446.2L854.4,446L854.8,444L855,445.4L855.6,382.8L855.7,365.5L856,372.9L856.1,367.8L856.3,346L856.4,348.5L856.8,404.8L857.1,444.9L857.2,444.9L857.3,444.6L857.5,419.6L858,385.4L858,380.6L858.4,408.2L858.6,431.9L858.8,443.6L859.1,444.3L860.2,444L861.1,444L861.4,441.3L861.5,440.9L862,436.3L862,434.3L862.4,394L862.6,365.7L862.6,364.5L863.2,430.8L863.5,443.9L863.8,442.6L864,441.5L864.4,443.9L864.8,443.9L864.9,441.9L865,441.1L865.1,440.5L865.2,443L865.5,440.6L865.5,443.4L866,443L866.4,438.7L866.5,439.5L866.5,438.4L866.8,439.3L867.1,436.5L867.3,436.5L867.5,435.2L868,437L868.4,441.4L868.8,388.8L869,353.7L869.1,345.6L869.1,357L869.5,411.5L869.5,413.8L869.6,420.8L870,443.6L870.4,442L870.8,439.8L871.1,440.9L871.5,439.8L872,439L872,437L872.4,438.4L872.6,435.3L872.8,435.7L873.1,435.8L873.3,434.8L873.5,440.6L874,442.3L874.1,440.7L874.2,441.1L874.3,431.4L874.4,432.1L874.8,433.1L874.9,432.1L875.1,423.7L875.5,408L875.5,405.6L875.6,401.5L876.4,439.2L876.7,437.4L876.8,436.8L877.1,437.1L877.3,437.7L877.5,435.9L877.6,436.6L877.9,436.3L878,438.5L878,434.7L878.1,431.7L878.4,430.2L878.5,433.8L878.5,432.4L878.8,430L879.1,431.3L879.5,432.4L880,429.2L880,431.3L880.2,426L880.4,426.7L880.8,411.6L881,400.1L881.1,398.7L881.1,398.8L881.5,371.1L881.5,375L882,403.5L882,411.2L882.4,419.3L882.6,419.1L882.8,417.8L883.1,413.8L883.5,410.6L883.7,412.1L884,414L884.4,417.7L884.8,417.8L885,421.6L885.1,410.7L885.2,404L885.5,370.7L885.6,366.3L885.8,348.2L886,368.6L886.1,378.5L886.4,377.5L886.4,375.1L886.7,340.4L886.8,349.6L887.1,396.6L887.1,398.8L887.3,419.6L887.5,429.1L888,430.6L888,434.3L888.4,434.1L888.4,432.2L888.8,435L889,434.3L889.1,437L889.5,435.6L890,432.3L890.4,432.9L890.8,431.8L890.8,436L891.1,438.4L891.5,436.8L892,438.2L892.4,433.1L892.8,440L893,438.9L893.1,438.4L893.1,438.4L893.3,436.2L893.5,438.7L894,437.5L894.4,437.5L894.8,437.8L894.9,437.3L895.1,438.4L895.5,439L895.5,434L896,402.7L896.2,385.1L896.4,391.8L896.6,405.8L896.8,416.6L896.8,422.9L897,427.8L897.1,429.4L897.5,423.6L897.5,423.6L898,422.5L898.4,419.9L898.4,418.3L898.8,415.4L899,410.9L899.1,409.9L899.5,414.9L899.6,418.6L900,418.6L900,417.9L900.2,419.4L900.2,418.5L900.4,421.9L900.8,429.9L900.8,430.1L901.1,434.5L901.3,435.5L901.5,428.5L902.1,394.5L902.4,408.4L902.5,418.9L902.7,429.8L902.8,433.5L903.1,435.4L903.1,438.4L903.5,436L904,435.4L904.3,436L904.3,440L904.4,434.7L904.5,440.6L904.8,442.2L905.1,442.8L905.5,440.3L906,440.3L906,443L907.1,443L907.2,441.7L907.5,423.1L907.9,405.9L908,409.6L908.4,429.7L908.8,442.9L909.6,442.9L910,442.7L910,442.9L912,442.9L912.4,431.4L912.8,415.2L912.8,414.7L913.1,430L913.5,442.9L914,442.8L914.3,439.2L914.4,438.3L914.8,435.5L915.1,441L915.4,442L915.5,442.8L916.4,442.8L916.8,441.5L916.8,440.2L917.1,440.8L917.2,441.3L917.5,442.8L924.8,442.6L925,441.3L925.1,438.4L925.5,442.2L926,442.6L926.4,442.6L926.6,442.5L926.7,440.8L926.8,440.9L926.9,438.6L927.5,401.1L927.5,402.4L928,423.3L928.4,436.6L928.8,438.2L929.1,442.5L931.1,442.5L931.5,438.1L931.5,434.3L932,403L932,395.8L932.1,389.4L932.4,401.5L932.5,409.5L932.8,417.5L933.1,414.4L933.1,412.2L933.2,412L933.3,409.3L933.5,417.4L934,428.4L934,431L934.4,419.9L934.8,411.3L934.8,407.8L935.1,414.3L935.1,415L935.5,422.4L935.6,423.6L935.6,422.5L936,406.9L936,405.1L936.3,393.6L936.4,390.2L936.6,359.5L936.8,346.2L936.8,337.7L937.1,341.8L937.2,338.7L937.3,334.6L937.5,359L937.9,392.2L938,397.3L938.3,408.6L938.4,407.3L938.6,419.1L938.8,415.2L939.1,406.2L939.4,391.1L939.5,384.5L939.5,382.7L940,352L940,351.1L940.2,377.2L940.4,389.6L940.8,412.1L941,408.6L941.1,419.1L941.5,431.2L941.5,430.4L941.8,438.3L942,434.8L942.4,436.6L942.5,436.6L942.8,435.3L942.9,432.5L943,432.1L943,432.3L943.1,431.5L943.1,431.2L943.5,433.9L943.6,432.6L944,436.5L944.4,441.4L944.5,441.8L944.8,436.4L945.1,430L945.5,423.3L945.8,423.3L946.4,406.4L946.6,395.9L946.8,400.3L947.1,415.3L947.4,424.5L947.5,422.6L948,428.8L948.3,433.4L948.4,433.9L948.5,434.1L948.8,440.8L949.1,442.1L950.4,442.1L950.6,441.8L950.8,439.7L951,437.5L951.1,438.6L951.5,435.4L952,435.1L952.4,435.5L952.4,437.3L952.8,436.5L953.1,439.6L953.5,440.4L954,440.5L954.2,441.2L954.3,442L955.5,442L955.5,440.4L956,440.5L956.4,439.4L956.5,441.9L956.8,441.3L956.8,441.7L957.1,441L957.3,440.3L957.5,438.8L957.7,439.2L958,433.9L958,435.2L958.4,431.4L958.5,433.7L958.5,433.7L958.8,436L959.1,432.6L959.5,435.8L959.5,434.9L960,432.7L960,431.7L960.1,434.5L960.8,432.3L960.9,432L961,432.1L961.1,433.3L961.2,434.4L961.5,433.1L961.6,438.7L962,436.9L962,440L962,438.9L962.4,441.5L962.8,437.5L963.1,439.9L963.1,438.3L963.3,438.2L963.5,439.3L963.5,438.8L964,432.8L964.4,429.6L964.4,434.5L964.7,419.9L964.8,418.8L964.8,416.5L965.1,400.6L965.1,403.9L965.6,430.4L966,441.7L967.3,441.7L967.5,440.1L968,440.4L968.4,439.2L968.4,438.8L968.7,441.1L968.8,438.3L969.1,441.7L969.1,438.8L969.5,441.7L972.9,441.6L973.1,439.2L973.5,418.7L974,361.2L974,353.3L974.1,337.1L974.4,363.5L974.6,391.5L974.6,398.3L974.8,406.5L975,413.9L975.1,416.5L975.5,423.3L976,429.2L976,427.4L976.2,431.9L976.4,436L976.5,435.2L976.7,432.7L976.8,434.9L977.1,440.4L977.2,440.9L977.3,441.5L977.5,441.5L978,418.1L978.1,392.9L978.4,363.2L978.5,350.8L978.5,348.8L978.5,350.6L978.8,358.4L979,340.5L979.1,363.2L979.5,421.2L980,438.4L980.3,440.2L980.4,439.2L980.8,438.4L980.8,440.6L981,441.4L981.1,440L981.5,440.3L982,441.4L982.8,441.3L983.1,390.8L983.1,389.7L983.5,351.1L983.5,364L984,408.4L984.4,417.5L984.4,417.2L984.6,424.4L984.8,430.3L985,439.3L985.1,438.4L985.3,441.3L988.4,441.2L988.8,426.6L989.1,385.6L989.3,369.8L989.5,394L990,433.6L990,440.5L990.2,441.2L990.4,439.3L991,365L991,366.7L991.5,421.3L991.8,441.2L993.5,441.1L994,440.2L994.6,376.7L995.1,423.6L995.5,441.1L996,441.1L996.4,419.6L996.8,379.7L996.8,371.7L997.5,437.5L997.5,441.1L999.1,441L999.5,429.1L1000.2,346.5L1000.4,371.6L1000.5,389.2L1000.8,425.3L1000.8,432.6L1001,441L1002.8,441L1003.1,438.8L1003.5,441L1004.8,441L1005.1,434.2L1005.7,412.6L1006.4,439.8L1006.7,441L1011.5,441.1L1012,440.1L1012.4,441.1L1012.8,434.9L1013.1,437.8L1013.1,436.2L1013.5,441.1L1016.1,441.1L1016.4,438.7L1016.8,441.1L1020.4,441.1L1020.5,439.6L1020.8,441.1L1030.3,441.2L1030.3,438L1030.8,441.2L1031,438.6L1031.2,440.2L1031.3,441.2L1038.3,441.2L1038.8,437.7L1039.2,441.2L1040,441.2L1040.3,441L1040.8,439.3L1041,441.3L1041.2,440.1L1041.5,441.3L1042,440.3L1042.3,441.3L1045.5,441.3L1045.5,439.6L1046,441.3L1047.5,441.3L1047.5,439.6L1047.7,441.3L1048.8,441.3L1049,439.8L1049.2,441.3L1049.5,440.1L1049.9,441.3L1050.3,441.3L1050.3,440L1050.8,441.3L1051.2,438.5L1051.5,441.3L1062,441.4L1062.2,440.6L1062.3,441.4L1062.8,440L1063,441.4L1068.2,441.4L1068.3,440.5L1068.8,441.4L1073.2,441.5L1073.5,438.9L1074,441.5L1074.3,437.3L1074.8,441.5L1075.5,441.5L1076,441.1L1076,441.5L1080.6,441.5L1080.6,458.1L1062,458.1L1045.2,458.1L1029.5,458.1L1014,458.1L1000,458.1L986,458.1L974,458.1L960.1,458.1L946.4,458.1L934,458.1L920,458.1L904,458.1L889.1,458.1L876.4,458.1L862.8,458.1L850.6,458.1L838,458.1L837.5,458.1Z" fill="#ff7f0e" fill-opacity="0.3" stroke="none"/><path d="M837.5,439.5L837.9,330.2L838,314.3L838,300L838.3,386.9L838.4,403.9L838.5,436.6L838.6,436.5L838.8,433.7L839.1,439L839.1,439.1L839.5,438.4L840,438.2L840,439.9L840.3,439.5L840.4,439L840.8,380.6L840.8,375L841.1,425.4L841.5,438.4L842,438.4L842,438.6L842.4,439.3L842.6,437.1L842.8,411.7L843,349.6L843.1,327.4L843.1,339.5L843.5,434.3L843.8,436.3L844,437.1L844.4,432.7L844.8,434.5L845,435.1L845.1,435.9L845.5,433.7L845.5,431.9L845.6,432.1L846,430.8L846,431.4L846.1,415.3L846.4,333L846.5,284L846.6,333.6L846.8,365.7L846.8,381.3L847.1,413L847.5,293.6L847.5,295.8L848,416.5L848.4,404.8L848.5,373.4L848.7,335.8L848.8,348.1L849.1,426.6L849.5,427.2L850,429.4L850,425L850.3,328.5L850.4,316.5L850.4,299.7L850.6,311L850.6,312.5L850.8,353.7L851,425.1L851.1,420.2L851.4,370.9L851.5,340.9L852,268.6L852.2,233L852.4,251.9L852.6,294.4L852.8,318.9L853,359.2L853.1,389.1L853.2,402.5L853.4,417.7L853.5,416.5L853.8,419.8L854,419L854.4,421L854.4,420.1L854.8,418.4L855,417.8L855.1,405.9L855.5,333L855.6,332.4L855.7,358.6L856,406.4L856.1,416.2L856.3,417.2L856.4,418.7L856.8,416L857.1,367.8L857.2,362.2L857.3,360.3L857.5,337.6L857.9,398.9L858,406.5L858,413.2L858.4,393.5L858.6,369.5L858.8,383.7L859.1,411.4L859.1,412L859.5,415.6L860,415.5L860,413.7L860.2,413.8L860.4,412.9L860.8,355.6L860.8,349.8L861,343.3L861.1,367.9L861.4,409.5L861.5,410L862,407.7L862,412.4L862.4,401L862.6,400.5L862.6,399.6L862.8,403.9L863.1,404.7L863.2,407L863.5,410.6L863.8,368.7L864,343.1L864,333.1L864.4,368.5L864.4,370.2L864.5,362.2L864.8,381.6L864.9,371.9L865,356.7L865.2,303.4L865.5,363L865.5,375.5L866,405L866.4,366.2L866.5,350.7L866.5,346.8L866.8,379.9L867.1,407.7L867.3,409L867.5,410L868,409.4L868.4,410.4L868.8,410.5L869,409.7L869.1,409L869.1,396.6L869.5,320.6L869.5,321.5L869.6,331.5L870,400.7L870.4,408.8L870.8,406.4L871.1,404.4L871.5,401.2L872,311.1L872,300L872.4,378L872.6,402.2L872.8,403.4L873.1,372.2L873.3,352.8L873.5,379.9L873.7,398.3L874,396.4L874.1,392.3L874.2,390.8L874.4,394.3L874.8,401.3L874.9,400.3L875.1,400.6L875.5,400.8L875.5,400.2L875.6,400.8L876,399.9L876.4,398L876.7,398.2L876.8,397.2L877.1,387.1L877.3,380.6L877.5,385.1L877.6,384.9L877.9,382.7L878,381.3L878,377.8L878.1,374.2L878.4,321.4L878.5,299.4L878.5,309.3L878.8,366L879.1,390.1L879.5,388.5L880,387.5L880,390.4L880.2,392.9L880.4,393.5L880.8,394.8L881,397.1L881.1,397.4L881.1,395.4L881.5,394.5L881.5,394.7L882,392.1L882,391.4L882.4,392.2L882.6,395.4L882.8,396.4L883.1,394L883.5,391.8L883.7,391.6L884,390.1L884.4,389.1L884.8,355.7L885,294.2L885.1,317L885.2,332.1L885.5,385L885.6,389.9L885.8,395.7L886,395.9L886.1,388L886.4,373.6L886.4,371.8L886.7,389.1L886.8,389.2L887.1,377.1L887.3,385.1L887.5,396.6L888,358.4L888,350.1L888.4,382.2L888.4,384.1L888.8,391.1L889,390.2L889.1,390.2L890,391.8L890.4,395.3L890.8,393.2L890.8,393.6L891.1,392L891.5,390.9L892,390.7L892.4,387.9L892.8,359.1L893,326.7L893.1,329.7L893.1,328.6L893.3,320.1L893.5,361.9L894,387.2L894.4,388.7L894.8,341.2L894.9,325.4L895.1,365.9L895.5,391.5L895.5,391.8L896,320.1L896.2,267.2L896.4,248L896.6,212L896.8,228.2L896.8,238.2L897,267.8L897.1,288L897.5,326.2L897.5,322.7L898,354.9L898.4,386.2L898.4,391.8L898.8,391.4L899,391.5L899.1,390.8L899.5,350.8L899.6,345.2L900,357.5L900,355L900.2,327.4L900.2,321.3L900.4,335.7L900.8,384.7L901.1,382.9L901.3,380.8L901.5,383.1L902,382.1L902.1,383.6L902.4,374.5L902.5,364.4L902.7,350L902.8,352L903.1,312.9L903.5,387.4L904,365.2L904.3,315.3L904.3,320.7L904.4,328.9L904.5,351L904.8,382.2L905.1,370.1L905.5,363.9L906,365.4L906,360.8L906.4,365.5L906.8,379.1L907.1,390.6L907.2,391.3L907.5,391.8L907.9,390.6L908,392.8L908.4,391.6L908.8,388.9L909.1,384L909.6,334L910,376.8L910,380.9L910.7,382.4L910.8,380.6L911.1,380.2L911.5,351.8L911.9,345.7L912,344.5L912.4,356L912.8,382.9L912.8,383.7L913.1,384.5L913.1,385.7L913.5,336.4L913.7,318.3L914,345.4L914.3,284.8L914.4,295.2L914.8,357.2L915.1,340.4L915.4,331.7L915.5,323.6L915.7,319.6L916,335.5L916.4,375.1L916.8,377.7L916.8,378.7L917.1,379.2L917.2,380.2L917.5,380L918,380.9L918.4,374.9L918.5,374.3L918.8,332.6L919,286L919.1,310.5L919.5,345.2L920,341.2L920.1,336.6L920.4,339.5L920.8,329L920.8,327.3L921,344.2L921.1,357.9L921.5,383.4L922,381.7L922.4,384.3L922.5,387L922.8,386L923.1,302.4L923.2,297.1L923.3,294.1L923.5,326.1L924,384L924.4,383.9L924.8,382.1L924.8,379.5L925,371L925.1,367.1L925.5,358.7L926,353.5L926.4,317.8L926.6,276L926.7,283.9L926.8,295.2L926.9,305.7L927.1,320L927.2,321.3L927.5,335L927.5,334.1L928,345.2L928.4,350L928.8,354L929.1,296.9L929.1,305L929.5,370.3L929.5,379.8L930,381.1L930,380.9L930.4,381.5L930.7,383.2L930.8,385.2L931.1,384.2L931.5,383.8L931.5,385.4L932,372.6L932,369.6L932.1,372L932.4,377.3L932.5,380.1L932.8,378.1L933.1,314.4L933.1,305.5L933.2,297L933.3,314.8L933.5,361L934,376.3L934,378.5L934.4,377.9L934.8,363.7L934.8,357.6L935.1,325.3L935.1,334.5L935.5,334.2L935.6,328.2L935.6,325L936,362.8L936,368.5L936.3,379.3L936.4,380.4L936.6,381.3L936.8,380.1L936.8,370.9L937.2,294L937.3,312.8L937.5,359.4L937.9,378.6L938,379.6L938.3,380.5L938.6,379.8L938.8,380.3L939.1,377.1L939.4,368.3L939.5,364.4L939.5,365.1L940,376.6L940,376.2L940.2,376.2L940.4,372L940.8,378.1L941,378L941.1,363L941.5,331.7L941.5,326.9L941.8,347L942,361.4L942.4,362.6L942.5,355.6L942.8,338.6L942.9,325.1L943,309.7L943,302.8L943.1,297.6L943.1,308.9L943.5,311.9L943.6,303.6L944,362.1L944.4,380.1L944.5,382.1L944.8,381.5L945.1,381.6L945.5,379L945.8,378.5L946,376.9L946.4,376.2L946.6,375.1L946.8,375.6L947.1,376.4L947.5,376.7L948,375.3L948.3,374.2L948.4,377L948.5,375.5L948.8,373.9L949.1,373.1L949.5,374.9L949.5,371L950,330.9L950.1,344.3L950.4,370L950.6,374.5L950.8,373.9L951,374.5L951.1,374.6L951.5,374L952,374.1L952.4,318.3L952.4,311.8L952.8,356.9L953.1,346.6L953.3,328L953.5,348.1L954,356.5L954.2,316L954.3,298.3L954.4,301.5L954.6,291.3L954.8,311.6L955,330.5L955,327.7L955.1,339L955.5,374.5L955.5,375.2L956,345.3L956.4,292.9L956.5,276.4L956.8,278.8L956.8,276L957.1,317.1L957.3,328.5L957.5,341.5L957.7,340.7L958,307.4L958,313.7L958.4,340.4L958.5,334.6L958.5,338.2L958.8,361.5L959.1,375.2L959.5,373.8L959.5,373.5L960,375.1L960,375.1L960.1,374.3L960.4,375.4L960.8,352L961,314.2L961.1,330.9L961.2,338.1L961.5,375.5L961.6,373.7L962,325.4L962,318.5L962,311.9L962.4,348.7L962.8,354.5L963.1,322.8L963.1,331.6L963.3,341.1L963.5,350.9L963.5,355.4L964,355.1L964.4,337.5L964.4,330.1L964.7,290.3L965.1,359.5L965.1,371.1L965.5,374.7L965.6,370.2L966,357.7L966.4,337.3L966.7,334.8L966.8,332.2L967.1,299.2L967.3,276L967.5,331.1L968,371.7L968,361.8L968.4,298.6L968.4,294.2L968.7,297L968.8,300.2L969.1,360L969.1,364.3L969.5,370.6L970,371.1L970,373.3L970.3,374.1L970.4,370.4L970.8,369.5L971.1,374L971.5,375.7L971.7,375.8L972,373.8L972.4,375L972.6,345.2L972.8,320.8L972.9,303.1L973.1,343.6L973.5,349.9L974,316.1L974,315.4L974.1,302L974.4,270.1L974.4,264.7L974.6,242.5L974.6,248.4L974.8,261.4L975,298.4L975.1,312.8L975.5,343.4L976,363.4L976,370.3L976.2,373L976.5,373.7L976.7,371.7L976.8,371.4L977.1,373.5L977.3,374.6L977.5,374.2L978,369.4L978.1,365.4L978.4,370.2L978.5,372.8L978.5,372.3L978.5,373.5L978.8,377.1L979,374.9L979.1,373.5L979.5,375.2L980,373.8L980.3,371.2L980.4,369.4L980.8,371L980.8,371.4L981,372.1L981.1,372L981.5,369.5L982,358.7L982.4,341.7L982.8,318.6L983.1,260.5L983.2,253L983.5,288.9L983.5,301.3L984,336.4L984.4,333.8L984.4,336.2L984.6,313.4L984.8,336.5L985,329.7L985.1,306.4L985.3,298.3L985.3,298.2L985.5,315.2L985.5,324.2L986,375.9L986.4,377L986.7,375.2L986.8,373.8L987.1,372L987.5,372.1L988,369.4L988.3,352.7L988.4,352.9L988.8,370.2L989.1,370.7L989.3,372.5L989.5,373.2L990,374.5L990,374.3L990.2,374.5L990.4,375.8L990.8,335L991,299L991,294.7L991,303.8L991,307.1L991.1,325.4L991.4,371.4L991.5,367.2L991.8,360.6L992,364.8L992.4,374.3L992.5,372.2L992.8,372.8L993.1,372.7L993.5,371.2L994,359.1L994.2,361.1L994.4,363.6L994.6,358.8L994.8,365.6L994.9,357L995.1,358.7L995.5,365.4L996,375.7L996,374.4L996.4,340.3L996.5,324.1L996.6,329.6L996.8,334L996.8,332.7L996.9,330.5L997,340.6L997.1,349.2L997.5,376.3L997.5,376L998,374.6L998.4,375.8L998.5,375.4L998.8,378.8L999.1,378.4L999.5,372.6L999.6,372L999.9,374.4L1000,373.8L1000.2,356L1000.4,328.6L1000.5,309.6L1000.8,348.6L1000.8,358.7L1001,376L1001.1,375.4L1001.5,354.4L1002,309.9L1002,303.4L1002.4,268.3L1002.6,236.6L1002.8,255.4L1003.1,307.1L1003.5,337.2L1004,360.3L1004.4,310.5L1004.4,303.2L1004.5,317.8L1004.8,342.3L1004.8,345.1L1005.1,374.5L1005.5,379.8L1005.5,378.4L1005.7,378.8L1006,378.7L1006.4,368.5L1006.7,352.1L1006.8,353.5L1007.1,359.1L1007.3,358.6L1007.5,363.3L1007.9,360L1008,355.7L1008.3,313.7L1008.4,325L1008.8,375.1L1009,369.3L1009.1,356.6L1009.3,333.5L1009.5,300.2L1009.5,303.6L1010,365.5L1010,367L1010.3,348.7L1010.4,354.6L1010.8,381.6L1011.1,379.7L1011.4,377.5L1011.5,375.6L1012,374.8L1012.4,374.5L1012.8,366.2L1013.1,361.2L1013.1,367.3L1013.5,369.8L1013.7,371.8L1014,377.8L1014.4,375.3L1014.5,369.1L1014.8,375.6L1015.1,382.7L1015.5,331.5L1015.7,307.2L1015.8,328.9L1016,333.1L1016,337.6L1016.1,352.8L1016.4,379.7L1016.8,379.6L1017.1,378.2L1017.3,361.3L1017.5,350.3L1018,341.4L1018.4,285.3L1018.4,279L1018.8,322L1019.1,353.2L1019.5,351.2L1019.6,344.6L1019.7,334.9L1019.9,318.2L1020,322.6L1020.4,378.1L1020.5,378.7L1020.8,378.9L1020.8,382.1L1021.1,384.1L1022,385.9L1022.4,387.1L1022.8,385.4L1023.1,369.3L1023.1,366.1L1023.1,364.6L1023.3,356.4L1023.5,370.5L1024,384.8L1024.3,385.5L1024.8,388.1L1025.2,388L1025.5,385.1L1026,381.3L1026,380.4L1026.2,378.9L1026.3,379.5L1026.8,378.2L1027.2,342.5L1027.3,309.7L1027.4,292.5L1027.4,294.1L1027.5,319.9L1028,386L1028.3,317.6L1028.4,309.7L1028.8,369.3L1029.2,383.4L1029.5,345.7L1029.7,327L1029.9,350.4L1030,355.8L1030,358.4L1030.2,363.7L1030.3,358.8L1030.8,382.1L1031,374.8L1031.2,358.6L1031.3,340.6L1031.4,328.9L1031.5,344L1032,354.7L1032.3,334.9L1032.8,287.3L1032.9,270.7L1033.2,301.4L1033.5,337.3L1033.5,335.5L1034,368.9L1034.3,388.9L1034.8,393L1035,394.3L1035.2,394.1L1036,391.9L1036,393L1036.3,392.1L1036.8,391.4L1037.2,369.7L1037.2,366.3L1037.3,357.4L1037.5,374.9L1038,392.8L1038.3,393.1L1038.8,395.3L1039.2,394.8L1039.5,394.2L1039.6,393.1L1039.6,393.7L1040,393.8L1040,393.5L1040.3,392L1040.8,391.5L1041,390.1L1041.2,389.8L1041.5,389.4L1042,389.8L1042.3,392.8L1042.8,392.2L1043.1,393L1043.2,393.3L1043.5,329.9L1043.6,321.9L1044,379.2L1044.3,397L1044.8,397.6L1045,396L1045.2,384.5L1045.4,353.1L1045.5,343.1L1045.5,348.6L1046,393.2L1046.3,363.7L1046.7,299L1046.8,316.7L1047.2,390.2L1047.2,382.6L1047.5,328.1L1047.7,308.8L1048,365.7L1048.3,342.7L1048.4,335.8L1048.8,383.4L1049,395.8L1049.2,395.4L1049.5,388.4L1049.9,368.8L1050,369.8L1050.3,368.8L1050.3,371.7L1050.8,393.5L1051.2,395.5L1051.5,395.6L1052,396.8L1052.3,397.8L1052.8,399.4L1053.2,395.7L1053.5,380.7L1053.5,381.7L1054,392.5L1054.3,392.8L1054.8,391.3L1054.8,390.2L1055.2,391.8L1055.5,392.6L1056,394.3L1056.3,395.6L1056.8,397.3L1057.2,399.5L1057.5,365.4L1057.6,361L1058,388.4L1058,391.5L1058.3,396.1L1058.8,391.6L1059.2,348.9L1059.5,390.3L1060,396.7L1060.3,391.9L1060.6,383.7L1060.7,386.1L1060.8,387.7L1061.2,397.6L1061.5,396L1061.9,372.5L1062,372.5L1062.2,368.6L1062.3,379L1062.8,396.3L1063,394.4L1063.2,395.5L1063.5,396.5L1064,396.4L1064.3,396.3L1064.8,399.9L1065.2,400.2L1065.5,400.9L1065.5,399.3L1066,398.8L1066.3,400.8L1066.8,396.5L1067.2,395.6L1067.5,394.2L1067.8,390.4L1068.2,336.8L1068.3,354.1L1068.8,397.4L1069.2,397.8L1069.5,399.3L1070,390.7L1070.3,384.2L1070.7,343.1L1070.8,335.7L1070.9,315.1L1071.2,363.7L1071.5,394.1L1072,394L1072.3,397.6L1072.5,398.7L1072.8,397.2L1073.2,396.7L1073.5,394.6L1074,399.5L1074.3,398.4L1075.2,398.6L1075.5,400.5L1076,400.6L1076,395.8L1076.5,345.6L1076.8,377.4L1077.2,397L1077.2,397.1L1077.5,398.9L1078,398.7L1078.3,397.6L1078.8,395.4L1078.9,395.8L1079.2,396.1L1079.5,397.4L1079.5,398.2L1080,399.1L1080.3,398.5L1080.6,398.6L1080.6,458.1L1062,458.1L1045.2,458.1L1029.5,458.1L1014,458.1L1000,458.1L986,458.1L974,458.1L960.1,458.1L946.4,458.1L934,458.1L920,458.1L904,458.1L889.1,458.1L876.4,458.1L862.8,458.1L850.6,458.1L838,458.1L837.5,458.1Z" fill="#2ca02c" fill-opacity="0.3" stroke="none"/><path d="M837.5,439.8L837.9,432.2L838,431.7L838,430.3L838.4,422.7L838.6,418.1L838.8,415.8L839.1,411.3L839.1,409.6L839.5,403.7L840,396.1L840.3,391.7L840.4,391.9L840.8,388.2L840.8,387.4L841.5,381.5L842,378.2L842,378.2L842.4,375.3L842.8,371.5L843,369.7L843.1,369.4L843.1,368.9L843.5,366.3L843.8,364.9L844,363.9L844.4,361.4L844.8,359.3L845,357.5L845.5,354.7L845.5,354.8L845.6,353.8L846,352.1L846,352.3L846.1,351.4L846.4,350.7L846.5,350.2L846.8,349.5L847.1,349.1L847.5,347.9L847.5,347.6L848.4,345.7L848.5,345.9L848.8,344.8L849.1,343.6L849.5,342.6L850,342.3L850,341.5L850.3,340.8L850.4,341.2L850.4,341.1L850.6,340.1L850.8,339.9L851,339.1L851.4,338.6L851.5,338.1L852,337L852.4,336.1L852.6,335.5L852.8,335.4L853,334.6L853.1,308.4L853.2,299.4L853.4,294.7L853.5,290.7L853.8,284.3L854,284.8L854.4,284.2L854.8,284.7L855,284.4L855.1,284.4L855.5,284.2L855.6,284L855.7,284.3L856,284.3L856.1,284.1L856.3,286.3L856.4,285.8L856.8,289.1L857.3,294.2L858,299.5L858,299.8L858.4,302.7L858.6,305.3L858.8,306.3L859.1,309.3L859.1,309.4L860,314.4L860.2,315.9L860.4,317.1L860.8,319.2L861,320.8L861.1,321.7L861.4,323.3L861.5,321.7L862,317.1L862,316.6L862.4,312.4L862.6,309.1L862.6,308.5L863.1,296L863.2,293.8L863.8,297.9L864,299.1L864,300.1L864.4,301.5L864.4,301.8L864.8,301.4L865,300.7L865.5,299.4L865.5,299.1L866.4,297.1L866.5,297.4L866.5,296.9L866.8,296.6L867.1,295.5L867.3,295.3L867.5,295.5L868,296.2L868.4,295.7L869,296.4L869.1,297L869.1,296.3L869.5,296.9L869.5,296.6L870,297.4L870.4,297.2L870.8,297.9L871.1,297.9L871.5,298.7L872,298.9L872,298.3L872.4,298.4L872.6,297.8L872.8,297.6L873.1,297.5L873.3,297L873.5,297L873.7,296.7L874,296.7L874.1,296.2L874.2,296.6L874.3,296.1L874.4,296.3L874.8,295.7L874.9,296.1L875.5,295.1L875.5,295.1L875.6,294.6L876,294.9L876.4,293L876.7,292.1L876.8,292.3L877.1,291.1L877.3,290.8L877.5,290.8L877.6,290L877.9,289.9L878,290.1L878,289.1L878.1,289.2L878.4,288.7L878.5,288.1L878.5,288.2L878.8,287.6L879.1,286.5L879.5,285.6L880,284.8L880,284.5L880.2,284.8L880.4,283.7L880.8,283L881,282.6L881.1,282.1L881.5,281.7L881.5,281.4L882,280.2L882,280.1L882.4,279.2L882.8,278.7L883.1,277.5L883.5,277.3L883.7,277L884,275.8L884.4,274.8L884.8,274L885,273.9L885.1,273.1L885.2,273.3L885.5,272.4L885.6,272.3L885.8,272.7L886,271.9L886.1,271.4L886.4,270.9L886.4,271.3L886.7,270.5L886.8,270.5L887.1,269.6L887.1,269.3L887.3,269.1L888,267.6L888,267.8L888.4,266.9L888.4,266.9L888.8,266L889.1,265.3L889.5,264.4L890,264.1L890.4,263.3L890.8,262.1L891.1,261.3L891.5,260.6L893,257.3L893.1,256.9L893.1,257L893.3,256.8L894,255L894.4,254.1L894.8,253.9L894.9,253.2L895.1,252.3L895.5,251.8L896,250.5L896.2,250.2L896.4,249.8L896.8,249L897,249L897.5,248.4L898,247.8L898.4,248.1L898.4,247.8L899,246.9L899.5,246.2L899.6,246.5L900,246.1L900,246.5L900.2,247.1L900.2,245.8L900.4,247L900.8,245L900.8,245.6L901.1,246L901.3,246.8L901.5,245L902,245L902.1,244.4L902.4,244.2L902.5,243.2L902.7,243L902.8,243.4L903.1,243.8L903.1,242.9L903.5,244.8L904,242.5L904.3,243.7L904.3,242.5L904.5,242.2L904.8,243.3L905.1,241.8L905.5,242.2L906,243.5L906,242.3L906.4,241.3L906.8,241L907.1,241.2L907.2,240.8L907.9,243L908,242.4L908.4,243.7L908.8,242.1L909.1,240.9L909.5,241.7L909.6,243.6L910,241.8L910,242.5L910.4,241.9L910.7,241.6L910.8,243L911.1,242.2L911.5,243.4L911.9,242.7L912,243L912.4,242.5L912.8,241.7L912.8,242.6L913.1,243.3L913.1,242.3L913.5,243.4L913.7,244.6L914,242.1L914.3,242.4L914.4,242.2L914.8,241.7L915.4,242.4L915.5,243L915.7,242.6L916,243.9L916.4,245.2L916.8,242.9L916.8,243.1L917.1,244.6L917.2,243.6L917.5,243.1L918,243.6L918.4,245.6L918.5,243.5L918.8,244L919,243.8L919.1,244.3L919.5,245.9L920,244.6L920.1,244.3L920.4,245.1L920.8,245.9L920.8,244.3L921,244.3L921.1,245.4L921.5,245L922,244.8L922.4,245.8L922.5,245.1L922.8,245.8L923.1,245.6L923.2,244.9L923.3,246.5L923.5,246.7L924,245.6L924.4,246.8L924.8,246.8L924.8,247.4L925,246L925.1,246.3L925.5,248L926,246.5L926.4,246L926.6,246L926.7,248.7L926.8,246L927.1,246.9L927.2,246L927.5,247.6L927.5,247.6L928,245.9L928.4,246.5L928.8,247.8L929.1,246.5L929.1,247.5L929.5,246.8L929.5,247.4L930,247.6L930,246.8L930.4,248L930.7,246.9L930.8,248.8L931.1,246.1L931.5,247.3L931.5,248.7L932,246.6L932,247L932.1,247.8L932.4,246.2L932.5,247.2L932.8,247L933.1,247.8L933.1,246.3L933.2,248.1L933.3,246.3L933.5,248.5L934,246.6L934.4,246.7L934.8,246.6L934.8,247.2L935.1,246.6L935.1,247.4L935.5,247.7L935.6,248.6L935.6,247.8L936,246.8L936,247.2L936.3,248.5L936.4,247.5L936.6,247.3L936.8,249.2L936.8,248.6L937.1,246.9L937.2,248L937.3,246.8L937.5,248.9L937.9,247.4L938.3,246.7L938.4,247.2L938.6,247.1L938.8,245.9L939.1,247.8L939.4,245.8L939.5,248L939.5,245.8L940,247.4L940,245.6L940.2,246L940.4,245.4L940.8,244.7L941,247.8L941.1,246.6L941.5,244.4L941.5,244.8L941.5,246.4L941.8,245.1L942,244.6L942.4,244.8L942.5,246.3L942.8,244.5L942.9,244.1L943,244.6L943,245.1L943.1,243.8L943.1,243.7L943.5,244.5L943.6,243.6L944,245.7L944.4,244L944.5,243.6L944.8,243.7L945.1,243.6L945.5,243.2L945.8,243.2L946,243.7L946.6,244.5L946.8,242.5L947.1,244L947.4,243.3L947.5,243.1L948,244.2L948.3,242.4L948.4,244.8L948.8,241.9L949.1,242.8L949.5,242.6L949.5,242.2L950,243.2L950.4,242.3L950.6,242.9L950.8,244.5L951,243.6L951.1,242.2L951.5,242.4L952,244.4L952.4,243.1L952.4,242L952.8,243.2L953.1,241.9L953.3,243L953.5,242.7L954,243.9L954.2,243.9L954.3,242L954.4,242.9L954.6,243.4L954.8,242L955,242L955,242.2L955.1,242.2L955.5,242.6L956,242.5L956.4,242.2L956.5,243.5L956.8,242.2L956.8,242.6L957.1,242.8L957.3,242.1L957.5,242.8L957.7,243L958,242.9L958,243.7L958.4,243.4L958.5,243.7L958.5,243.5L958.8,242.4L959.1,242.2L959.5,242.2L959.5,242.7L960,242.1L960,243.2L960.4,243.1L960.8,242.6L960.9,242L961,242.4L961.1,242L961.5,243.4L961.6,242.5L962,243.3L962,243.6L962.4,243.5L962.8,243L963.1,242.1L963.1,243.1L963.3,244.2L963.5,242.8L963.5,245L964,242.2L964.4,242.3L964.4,243.5L964.7,242L964.8,242L964.8,242.7L965.1,242.1L965.1,242.4L965.5,242.7L965.6,242.1L966,243.6L966.4,242.9L966.7,243L966.8,243.7L967.1,244.9L967.3,244.4L967.5,242.9L968,242.9L968,242.7L968.4,243L968.4,243.5L968.7,243.8L968.8,242.6L969.1,243.6L969.1,244.1L969.5,243.5L970,243.1L970,242.9L970.3,243L970.4,244L970.8,242.9L971.1,242.9L971.5,245.3L971.7,243.1L972,243.4L972.4,243.4L972.6,244.7L972.8,243.7L972.9,243.7L973.1,244.5L973.5,244.5L974,244.8L974,244.1L974.1,243.6L974.4,243.7L974.4,243.5L974.6,245L974.6,243.2L974.8,244.3L975,243.2L975.1,246L975.5,244.2L976.2,242.9L976.4,243.3L976.5,244.3L976.7,242.9L976.8,244.9L977.1,243.9L977.2,244.9L977.3,244.2L977.5,243.8L978,243.8L978.1,243.4L978.4,244L978.5,242.8L978.5,243.6L978.5,244.2L978.8,244L979,243.3L979.1,243.3L979.5,244.2L980,243L980.3,243.7L980.4,244.8L980.8,242.8L980.8,244L981,242.6L981.1,243.7L981.5,243.1L982,243.1L982.4,243.6L982.8,243.5L983.1,242.5L983.1,243L983.2,243L983.5,244.1L983.5,243.4L984.4,242.8L984.4,244.3L984.4,243.5L984.6,242.6L984.8,245L985,244.4L985.1,244.6L985.3,243.2L985.3,243.4L985.5,244.5L985.5,242.9L986.4,244L986.7,242.3L986.8,244.1L987.1,244.6L987.5,244.8L988,242.6L988.3,243.3L988.4,242.4L989.1,242.2L989.3,243.1L989.5,242.3L990,243.3L990,242.4L990.2,243.4L990.4,241.9L990.8,242.6L991,244L991,243.5L991,241.8L991,244L991.1,243.4L991.4,243.4L991.5,242.4L991.8,243.5L992,242.6L992.4,241.8L992.5,242L992.8,241.7L993.1,241.5L993.5,243.1L994,241.6L994.2,241.7L994.4,241.2L994.6,241.4L994.8,242L994.9,241L995.1,242.8L995.5,242L996,242.3L996,241.3L996.4,242L996.6,241.5L996.8,242.2L996.8,241.2L996.9,241.8L997,240.8L997.1,241.1L997.5,240.7L997.5,241.4L998,241.8L998.4,243.4L998.5,243.7L998.8,240.8L999.1,240.2L999.6,240.4L999.9,241.9L1000,240.1L1000,240.5L1000.2,240.1L1000.4,240L1000.5,240.5L1000.8,242.8L1000.8,241.4L1001,240.3L1001.1,241.4L1001.5,239.9L1002,241.6L1002,239.6L1002.6,241.2L1002.8,240.2L1003.1,240.2L1004,240.1L1004.4,239.8L1004.4,239.1L1004.5,241.2L1004.8,240.5L1005.1,239.1L1005.5,239.4L1005.5,241.9L1005.7,239.4L1006,239.9L1006.7,238.8L1006.8,238.6L1007.1,239.9L1007.3,239.7L1007.5,239L1007.9,242L1008,239.5L1008.3,240.6L1008.4,238.9L1008.8,238.3L1009,240.3L1009.1,238.7L1009.3,239.5L1009.5,238.9L1009.5,238L1010,238.3L1010,238.9L1010.2,238.2L1010.4,238.1L1010.8,239.5L1011.1,240.2L1011.4,239.4L1011.5,237.6L1012,237.5L1012.4,240.7L1012.8,238.6L1013.1,237.8L1013.1,238L1014,237.3L1014.4,238.9L1014.5,238L1014.8,237.7L1015.1,237.8L1015.5,237.5L1015.7,238.2L1015.8,237L1016,237.2L1016.1,236.7L1016.4,237.1L1016.8,236.8L1017.1,237.7L1017.3,237.2L1017.5,237.7L1018,237.5L1018.4,237.2L1018.4,237.9L1018.8,237L1019.1,236.8L1019.5,238.3L1019.6,239.7L1019.7,237.7L1019.9,236.8L1020,236.8L1020.4,238.5L1020.5,236.9L1020.8,236.8L1020.8,237.3L1021.1,237.3L1021.5,239.1L1022,237.5L1022.4,237.9L1022.8,237.5L1023.1,238.5L1023.1,237.6L1023.1,237.8L1023.3,237.7L1023.5,238.5L1024,237.4L1024.3,237.9L1024.8,237.8L1025.2,238.8L1025.5,238.3L1026,237.3L1026.2,238.2L1026.3,237.1L1026.8,237.9L1027.2,238.1L1027.3,239.5L1027.4,237.4L1027.5,238L1028,237.1L1028.4,238.4L1028.8,238L1029.2,238.2L1029.5,238.8L1029.7,238L1029.9,238.2L1030,239.3L1030,238.8L1030.2,237.6L1030.3,237.2L1030.3,238.4L1030.8,239.9L1031,238L1031.2,237.2L1031.3,238.3L1031.4,237.4L1031.5,239.4L1032,237.3L1032.3,239.5L1032.8,237.9L1032.9,237.9L1033.2,237L1033.5,237L1033.5,237.9L1034,236.8L1034.8,237.4L1035,236.5L1035.2,236.2L1035.5,238.7L1036,235.9L1036,236.5L1036.3,236.3L1036.8,236L1037.2,237.1L1037.2,235.5L1037.3,236.4L1037.5,236.5L1038,238L1038.3,235.7L1038.8,237.1L1039.2,235.4L1039.5,237L1039.6,236.2L1040,236.5L1040,235.2L1040.3,235.7L1040.8,235.1L1041,236.7L1041.2,235L1041.5,235.8L1042,235.2L1042.3,235.8L1042.8,235.3L1043.1,235.9L1043.2,234.9L1043.5,235.1L1043.6,234.7L1044,236.3L1044.3,236.5L1044.8,237.5L1045,234.4L1045.2,237L1045.4,235.2L1045.5,236.7L1046,234.4L1046.3,234.4L1046.7,235L1046.8,235.6L1047.2,234.1L1047.2,235.3L1047.5,234.6L1047.5,235.7L1047.7,234.5L1048,235.1L1048.4,234.3L1048.8,234.6L1049,234.2L1049.2,234.4L1049.5,234.1L1049.9,235.2L1050.3,234.2L1050.3,235.8L1050.8,233.6L1051.2,236.4L1051.5,234.8L1052,233.7L1052.3,234.3L1052.8,233.7L1053.2,234.1L1053.5,234.8L1053.5,233.4L1054,234.2L1054.3,234.8L1054.8,234.3L1054.8,233.3L1055.2,235.1L1055.5,234L1056,233.3L1056.3,233.6L1056.8,233.4L1057.5,235.1L1057.6,233.6L1058,233.9L1058,232.9L1058.3,233.1L1058.8,233.6L1059.2,232.8L1059.2,235L1059.5,232.3L1060,233.4L1060.3,232.3L1060.7,232.2L1060.8,232.7L1061.2,232.7L1061.5,233.6L1061.9,233.3L1062,233L1062.2,233L1062.3,232.1L1062.8,232L1063,231.7L1063.2,232.7L1063.5,234.1L1064,232.5L1064.3,232L1064.8,233.2L1065.2,231.9L1065.5,231L1065.5,233.5L1066,231.1L1066.3,230.8L1066.8,231.3L1067.2,230.7L1067.8,232.6L1068,230.8L1068.2,231.1L1068.3,232.4L1068.8,230.7L1069.2,230.8L1069.5,230.2L1070,232.4L1070.3,231L1070.7,230.6L1070.8,231.8L1070.9,230.4L1071.2,231.4L1071.5,230L1072,230.1L1072.3,230.5L1072.5,230.2L1072.8,231L1073.2,229.7L1073.5,230.1L1074,230.3L1074.3,233.4L1074.8,229.8L1075.2,230.3L1075.5,229.9L1076,231.5L1076,230.6L1076.3,230.4L1076.5,230.1L1076.8,230.1L1077.2,231.1L1077.2,229.9L1077.5,231.9L1078,230.6L1078.3,232.7L1078.8,232.6L1079.5,233.4L1080,233.9L1080.3,234.1L1080.6,233.9L1080.6,458.1L1062,458.1L1045.2,458.1L1029.5,458.1L1014,458.1L1000,458.1L986,458.1L974,458.1L960.1,458.1L946.4,458.1L934,458.1L920,458.1L904,458.1L889.1,458.1L876.4,458.1L862.8,458.1L850.6,458.1L838,458.1L837.5,458.1Z" fill="#d62728" fill-opacity="0.3" stroke="none"/><path d="M837.5,450L838.5,420L840.3,380L843,360L848.5,343L855,338L865.5,342.2L877.9,346L887.3,335.3L895.5,342.3L907.5,347.1L919.1,349.4L931.1,346.7L942.5,343.5L955.5,335.7L964.8,330.6L970.3,321.2L974,309L976,285L978.5,264.2L981,270L983.2,286L985.5,309.5L990.2,320L1002.4,324.8L1014,327.1L1029.5,328.2L1038,328.8L1054.8,328.6L1072.8,328.3L1080.6,328.2L1080.6,458.1L1062,458.1L1045.2,458.1L1029.5,458.1L1014,458.1L1000,458.1L986,458.1L974,458.1L960.1,458.1L946.4,458.1L934,458.1L920,458.1L904,458.1L889.1,458.1L876.4,458.1L862.8,458.1L850.6,458.1L838,458.1L837.5,458.1Z" fill="#9467bd" fill-opacity="0.3" stroke="none"/><path d="M837.5,368.2L837.9,440L838.6,456L842,457.4L854.4,457.4L866.5,457.4L880.2,457.4L894.9,457.4L909.1,457.4L924.8,457.4L937.5,457.4L951,457.4L964,457.4L977.2,457.4L991,457.4L1004.4,457.4L1018.8,457.4L1033.5,457.4L1049.5,457.4L1068,457.4L1080.6,457.4" fill="none" stroke="#1f77b4" stroke-width="1.05" stroke-linejoin="round"/><path d="M837.5,457.3L837.9,455.9L838,457L838,456.4L838.3,457.3L838.4,455.7L838.5,456.9L838.6,455.9L838.8,457.3L839.1,455.9L839.1,456.4L839.5,455.5L840,456.2L840,455.6L840.3,455.9L840.4,455.2L840.8,455.4L840.8,454.3L841.1,454.7L841.5,454L842,454.3L842,453.2L842.4,453.8L842.6,453.4L842.8,453.7L843,453.2L843.1,454.7L843.1,454.5L843.5,454.7L843.8,453.8L844,454.8L844.4,454.2L844.8,454.8L845,454.2L845.1,438.7L845.5,399.7L845.5,395.6L845.6,390.8L846,361.3L846,355.5L846.1,347L846.4,364.5L846.5,376.3L846.6,387.3L846.8,396.1L846.8,399.7L847.1,426.8L847.5,452.3L847.5,453.5L847.5,452.4L848,453.2L848.4,451.8L848.5,452.5L848.7,451.8L848.8,452.2L849.1,451.5L850,452.3L850,452.7L850.3,452.2L850.4,452.6L850.4,451.8L850.6,452.7L850.6,451.9L850.8,453.1L851,452L851.1,453.2L851.4,452.6L851.5,453.4L852,452.6L852.2,453.6L852.4,453.8L852.6,453.5L852.8,452.8L853.1,452.9L853.4,452.5L853.5,452.6L853.8,452.7L854,453.3L854.4,452.6L854.4,452.9L854.8,451.2L855,452.7L855.1,452.8L855.5,454.8L855.6,453.4L855.7,453.2L856,452L856.1,454.1L856.3,453.8L856.4,453.9L856.8,452.8L857.1,453.3L857.2,452.9L857.3,453.1L857.5,452.7L857.9,453.6L858,453.2L858,453.6L858.4,452.3L858.6,452.8L858.8,452.8L859.1,453.9L859.1,452.9L859.5,453.7L860,453.3L860,455.4L860.2,454.2L860.4,454.4L860.8,452.1L860.8,453.2L861.1,454.6L861.4,453L861.5,452.8L862,451.9L862,452.7L862.4,451.5L862.6,452.5L862.6,452.3L862.8,453.1L863.1,452.5L863.2,452.6L863.5,451.9L863.8,451.2L864,450L864,450.9L864.4,450.7L864.4,452.1L864.5,451.3L864.8,452.7L864.9,452L865,452.8L865.1,451.5L865.2,451.5L865.5,450L865.5,450.5L866,449.5L866.4,450L866.5,449.5L866.5,450.7L866.8,450L867.1,449.7L867.3,448.9L867.5,449.7L868,450L868.4,450.8L868.8,449.6L869,449.4L869.1,449.3L869.1,450.5L869.5,450.7L869.5,451.4L869.6,450L870,450L870.4,448.4L870.8,449.5L871.1,448.7L871.5,449.1L872,447.9L872.4,446.8L872.6,446.9L872.8,446.7L873.1,447L873.3,446.7L873.5,447.5L873.7,447L874,447.4L874.1,446.2L874.2,446.6L874.3,445.6L874.4,446L874.8,445.3L874.9,446L875.1,445.5L875.5,445.3L875.5,444.9L875.6,445L876,444.3L876.4,444.2L876.7,443.3L876.8,444.4L877.1,443.2L877.3,443.5L877.5,442.2L877.6,443.7L877.9,443.2L878,443.6L878,442.2L878.1,442.1L878.4,442L878.8,441.5L879.1,439.8L879.5,439.5L880,438.1L880,439.4L880.2,438.2L880.4,438.6L880.8,436.8L881,436.9L881.1,435.3L881.1,435.7L881.5,432L881.5,432.8L882,428.9L882,429L882.4,425.9L882.6,425.8L883.1,422.5L883.5,418.6L883.7,417.8L884,419.8L884.4,424.5L884.8,427.2L885,431.1L885.1,431.1L885.2,433.2L885.5,435.3L885.6,436.4L885.8,435.8L886,437.7L886.4,439.9L886.4,439.3L886.7,439.6L886.8,438.2L887.1,439.1L887.1,438.6L887.3,440.2L887.5,439.8L888,441.2L888,440.4L888.4,440.8L888.4,439.8L888.8,441.3L889,441.3L889.1,442.6L889.5,442.8L890,443.7L890.4,443L890.8,443.5L890.8,443.3L891.1,444.3L891.5,443.2L892,444.1L892.4,443.9L892.8,445.3L893,444.1L893.1,444.3L893.1,443.7L893.3,444.9L893.5,443.8L894,444.8L894.4,443.6L894.8,444.9L894.9,443.6L895.1,444.5L895.5,444.1L895.5,444.7L896,441.5L896.2,440.2L896.4,438.4L896.6,437.3L896.8,435.1L896.8,435.6L897,434.7L897.1,435L897.5,432L897.5,432.2L898,427.8L898.4,425.4L898.4,424.1L898.8,422L899,418.7L899.1,420.4L899.5,423.1L899.6,424.9L900,427.9L900,429.3L900.2,430L900.2,430.8L900.4,431.3L900.8,435.6L900.8,435.6L901.3,442.9L901.5,443.7L902,443.5L902.1,443.9L902.4,443.5L902.5,445.2L902.7,444.3L902.8,445.5L903.1,446.6L903.1,447.4L904,446.9L904.3,447.1L904.4,446.1L904.5,447.2L904.8,447.5L905.1,449.9L905.5,449.2L906,450.7L906,450.5L906.4,451.7L906.8,451.1L907.1,451.2L907.2,450.8L907.5,452.4L907.9,451.7L908,452.2L908.4,451.3L908.8,453.2L909.1,453.3L909.5,452.9L909.6,451L910,451L910,451.6L910.4,452.4L910.7,452.9L910.8,453.8L911.1,453.5L911.5,453.7L911.9,452.5L912,453.1L912.4,452.9L912.8,454L912.8,452.9L913.1,453.7L913.1,452.8L913.5,453.8L913.7,452.2L914,452.7L914.3,451.8L914.8,451.7L915.1,453.1L915.4,453.3L915.5,454.2L915.7,453.4L916,454.5L916.4,452.3L916.8,452.9L916.8,452.2L917.1,454.7L917.2,454.8L917.5,456L918,454.1L918.4,453.4L918.5,452.3L918.8,453.6L919,454.1L919.1,454.6L919.5,453.9L920,453.6L920.1,453L920.4,453.6L920.8,453.5L920.8,454.3L921,453.6L921.1,454.4L921.5,453.3L922,454.4L922.4,453.6L922.5,454.2L922.8,452.8L923.1,454.1L923.2,453.5L923.3,454.9L923.5,453.5L924,454.1L924.4,452.6L924.8,453.2L924.8,452.7L925,454.1L925.1,452.7L925.5,453.1L926,452L926.4,453.9L926.6,452.4L926.7,453.4L926.8,451.7L926.9,453.6L927.1,452.4L927.2,453.6L927.5,453.2L927.5,454.4L928,453.5L928.4,453.8L928.8,452.5L929.1,453.4L929.1,452.3L929.5,453.1L929.5,452L930,452.8L930,452.5L930.4,453.4L930.7,452.3L930.8,453.3L931.1,451.5L931.5,451.9L931.5,450L932,444.8L932,442L932.1,441.1L932.4,437.8L932.5,436.7L932.8,430.4L933.1,423.9L933.1,421.4L933.2,421.9L933.3,418.6L933.5,425.9L934,435.3L934,437.9L934.4,426.8L934.8,416.5L934.8,415.1L935.1,421.8L935.1,423L935.5,431.2L935.6,431.8L935.6,430.5L936,414.7L936,414L936.3,399.7L936.4,395.6L936.6,367.5L936.8,351.7L936.8,345.7L937.1,347.1L937.2,346.1L937.3,346.9L937.5,367.8L937.9,400.7L938,402.4L938.3,415.5L938.4,415.7L938.6,425.1L938.8,421.5L939.1,415L939.4,409.7L939.5,415.3L939.5,415.7L940,429L940,428L940.2,435.8L940.4,432.4L940.8,425.6L941,422.1L941.1,427.4L941.5,436.4L941.5,437.6L941.5,435.6L941.8,443.6L942,443L942.4,443.3L942.5,441.9L942.8,441.6L942.9,439.9L943,440.5L943,440.1L943.1,441.9L943.1,441L943.5,443.8L943.6,442.4L944,445.2L944.4,446.6L944.5,448.4L944.8,444.4L945.1,439.2L945.5,432.4L945.8,429.4L946,423.7L946.4,413.5L946.6,404.6L946.8,411.2L947.1,423L947.4,432.7L947.5,433.5L948,440.7L948.3,445.6L948.4,447.6L948.5,449L948.8,448.9L949.1,448.4L949.5,449.7L949.5,449.2L950,449.8L950.1,448.2L950.4,448.8L950.6,447.5L950.8,448.9L951,448.6L951.1,449.5L951.5,448.8L952,449.9L952.4,449.4L952.4,450.4L952.8,449.1L953.1,449.9L953.3,448.7L953.5,449.8L954,449.2L954.2,449.5L954.3,449.3L954.4,449.6L955,449.6L955,451L955.1,450.9L955.5,451.2L955.5,449.1L956,448.5L956.4,446.3L956.5,447.2L956.8,446.6L956.8,447.7L957.1,446.5L957.3,446.9L957.5,445.1L957.7,445.4L958,443.4L958,444.9L958.4,443.8L958.5,445.1L958.5,444.3L958.8,443.9L959.1,441.4L959.5,440.9L959.5,439.9L960,439.7L960,439L960.1,440.8L960.4,440.2L960.8,440.2L960.9,438.5L961,440.3L961.1,440L961.2,441.5L961.5,443L961.6,444.4L962,445.3L962,446.1L962,445.5L962.4,446.9L962.8,446L963.1,447L963.1,445.2L963.3,445.7L963.5,444.6L963.5,445.8L964,444.2L964.4,444.1L964.4,443.1L964.7,444.1L964.8,443.2L964.8,444.6L965.1,446.5L965.1,448.3L965.5,450.7L965.6,451.4L966,450.2L966.4,450.6L966.7,449.2L966.8,450.9L967.1,449.6L967.3,451.5L967.5,450.6L968,451.2L968,450.1L968.4,451.5L968.4,451L968.7,452.1L968.8,449.8L969.1,451.3L969.1,449.2L969.5,451.2L970,449.5L970,450L970.3,449.1L970.4,451.7L970.8,451.7L971.1,452.9L971.5,451.1L971.7,452.2L972,451.2L972.4,452.8L972.8,450.8L972.9,448.1L973.1,445.7L973.5,440.7L974,437.9L974,436.6L974.1,435.3L974.4,429.8L974.4,430.2L974.6,425.7L974.6,425.9L974.8,423.4L975,420L975.1,422.1L975.5,430.5L976,435.4L976.2,438.8L976.4,441L976.5,441.8L976.7,443.4L976.8,443.1L977.2,447.1L977.3,448.2L977.5,447.9L978,448.4L978.1,448.4L978.4,449L978.5,448.2L978.5,448.6L978.5,448.4L978.8,449.8L979,448.8L979.1,449.8L979.5,448.8L980,450.4L980.3,449.5L980.4,450.4L980.8,449.5L980.8,450.7L981,451L981.1,451.9L981.5,451.2L982,452.1L982.4,450.7L982.8,451.1L983.1,449.3L983.1,451.1L983.2,451.9L983.5,453.7L983.5,453.3L984,453.5L984.4,451.6L984.4,451.1L984.4,450.7L984.6,452.7L984.8,452.1L985,453.2L985.1,451.4L985.3,453.5L985.3,452.5L985.5,453.9L985.5,451.9L986,452.8L986.4,451.4L986.7,453.4L986.8,451.3L987.1,453.4L987.5,451.7L988,453.4L988.3,451.2L988.4,452.8L988.8,450.6L989.1,452.4L989.3,450.5L989.5,453.2L990,451.1L990,453.7L990.2,451.5L990.4,453.3L990.8,451.4L991,454L991,452.5L991,453.5L991,450.9L991.1,452.6L991.4,450.9L991.5,453.5L991.8,451.9L992,454.1L992.4,451.5L992.5,453.4L992.8,451.6L993.1,453.9L993.5,451.6L994,453.5L994.2,451.8L994.4,454.5L994.6,452L994.8,454.2L994.9,451.6L995.1,453.7L995.5,450.6L996,452.8L996,450.4L996.4,452.7L996.5,450.2L996.6,452.8L996.8,449.6L996.8,452.1L996.9,450.1L997,452.7L997.1,449.9L997.5,452.8L997.5,450L998,453.5L998.4,450L998.5,453.1L998.8,449.1L999.1,452.1L999.5,449.7L999.6,453.8L999.9,450.7L1000,454.2L1000,451.2L1000.2,454.1L1000.4,451.1L1000.5,453.9L1000.8,451.1L1000.8,453.7L1001,451.3L1001.1,455.2L1001.5,451.4L1002,454L1002,450.3L1002.4,454.3L1002.6,450.9L1002.8,453.6L1003.1,450.9L1003.5,454L1004,451.3L1004.4,454L1004.4,450.9L1004.5,454.6L1004.8,451.8L1004.8,455.1L1005.1,451.2L1005.5,454.2L1005.5,451.6L1005.7,455.3L1006,452.4L1006.4,455.2L1006.7,451.9L1006.8,455.1L1007.1,451.4L1007.3,455.4L1007.5,451.8L1007.9,455.6L1008,452.3L1008.3,455.9L1008.4,452.9L1008.8,455.4L1009,451.4L1009.1,454.8L1009.3,452.2L1009.5,455.8L1009.5,453L1010,455.3L1010,452.1L1010.2,455L1010.3,452.2L1010.4,456.1L1010.8,452.3L1011.1,455.2L1011.4,450.8L1011.5,453.9L1012,450.6L1012.4,454.1L1012.8,451.4L1013.1,454.9L1013.1,451.4L1013.5,455.6L1013.7,452.2L1014,455.8L1014.4,452L1014.5,456.1L1014.8,452.9L1015.1,455.1L1015.5,450.9L1015.7,455.2L1015.8,452.3L1016,455.7L1016,451.9L1016.1,455.9L1016.4,452.3L1016.8,455.5L1017.1,451.1L1017.3,455.9L1017.5,453.5L1018,457.3L1018.4,453.5L1018.4,456.4L1018.8,451.8L1019.1,455.3L1019.5,451.2L1019.6,454.8L1019.7,451.1L1019.9,454.8L1020,452.2L1020.4,456.2L1020.5,453.1L1020.8,455.8L1020.8,452.5L1021.1,455.7L1021.5,453.2L1022,455.9L1022.4,451.5L1022.8,454.2L1023.1,452L1023.1,456.7L1023.1,453.5L1023.3,456.3L1023.5,453L1024,456.6L1024.3,452.7L1024.8,455.9L1025.2,452.4L1025.5,455.8L1026,451.9L1026,455.3L1026.2,452.5L1026.3,456.6L1026.8,453.4L1027.2,456.6L1027.3,454L1027.4,457.3L1027.4,454.1L1027.5,457.3L1028,453.8L1028.3,456.9L1028.4,453.1L1028.8,457.2L1029.2,453.8L1029.5,457L1029.7,452.9L1029.9,455.7L1030,452.6L1030,455.9L1030.2,452.2L1030.3,455.2L1030.3,451.1L1030.8,454.8L1031,451.5L1031.2,455.2L1031.3,452.7L1031.4,455.5L1031.5,452.5L1032,455.8L1032.3,453.5L1032.8,457.2L1032.9,453.7L1033.2,456.5L1033.5,452.7L1033.5,456.5L1034,452.8L1034.3,456.5L1034.8,452.5L1035,456.3L1035.2,452.6L1035.5,456.9L1036,453.1L1036,456.8L1036.3,452.6L1036.8,456.5L1037.2,453.1L1037.2,456.7L1037.3,453.4L1037.5,456L1038,452.4L1038.3,455L1038.8,452.2L1039.2,455.2L1039.5,451.8L1039.6,455.2L1039.6,452.8L1040,456.9L1040,453.5L1040.3,457L1040.8,452.9L1041,455.4L1041.2,451.2L1041.5,455L1042,452.8L1042.3,457.3L1042.8,453.4L1043.1,457.3L1043.2,453.7L1043.5,457.3L1043.6,453.7L1044,457.3L1044.3,453.8L1044.8,457L1045,452.5L1045.2,455.5L1045.4,452.3L1045.5,455.7L1045.5,452.9L1046,456.4L1046.3,452.5L1046.7,456.4L1046.8,452.3L1047.2,456.6L1047.2,451.9L1047.5,456L1047.5,451.8L1047.7,456L1048,452L1048.3,455L1048.4,451L1048.8,454.9L1049,452.4L1049.2,455.9L1049.5,451.4L1049.9,454.4L1050,451.3L1050.3,455.5L1050.3,451.9L1050.8,455.9L1051.2,453L1051.5,457.2L1052,452.9L1052.3,456.2L1052.8,452.2L1053.2,455.6L1053.5,452.3L1053.5,456L1054,452.8L1054.3,456.6L1054.8,453.3L1054.8,457.3L1055.2,453.8L1055.5,457.3L1056,452.9L1056.3,455.9L1056.8,452.3L1057.2,456.2L1057.5,452.7L1057.6,456.1L1058,453.4L1058,457.3L1058.3,454.1L1058.8,457.1L1059.2,453.3L1059.2,456.8L1059.5,453.1L1060,457L1060.3,453.3L1060.6,456.7L1060.7,453L1060.8,456.4L1061.2,453.3L1061.5,455.8L1061.9,452.2L1062,455.3L1062.2,451.8L1062.3,454.7L1062.8,452.3L1063,456.3L1063.2,453.5L1063.5,456.8L1064,453.1L1064.3,456.9L1064.8,452.2L1065.2,456L1065.5,452L1065.5,456.4L1066,452.7L1066.3,456L1066.8,451.4L1067.2,454.6L1067.5,451.7L1067.8,456.4L1068,453.2L1068.2,455.8L1068.3,450.9L1068.8,454.1L1069.2,451.1L1069.5,455.7L1070,452.4L1070.3,456.2L1070.7,452.2L1070.8,455.4L1070.9,451.8L1071.2,456.1L1071.5,452.7L1072,457.3L1072.3,453.4L1072.5,457.2L1072.8,452.1L1073.2,455.8L1073.5,452.3L1074,456.7L1074.3,453L1074.8,456.7L1075.2,452.7L1075.5,455.8L1076,450.5L1076,455.2L1076.3,452.5L1076.5,457.3L1076.8,452.2L1077.2,455.1L1077.2,451.9L1077.5,455.3L1078,451.9L1078.3,455.5L1078.8,452.9L1078.9,457.1L1079.2,452.9L1079.5,457.3L1079.5,453.1L1080,456.4L1080.3,451.7L1080.6,456.5" fill="none" stroke="#ff7f0e" stroke-width="1.15" stroke-linejoin="round"/><path d="M837.5,446.4L837.9,440.6L838,440.4L838,439L838.4,442.1L838.5,441.7L838.6,441.9L838.8,442L839.1,444L839.1,444L839.5,445.5L840,446.7L840,446.6L840.3,447.4L840.4,448L840.8,447.8L840.8,447.9L841.1,447.7L841.5,447.9L842,449.9L842,451L842.4,453.3L842.6,451.9L842.8,451.5L843.1,450.4L843.1,450.8L843.5,450.3L843.8,451.1L844,449.6L844.4,450.7L844.8,451.3L845,452.7L845.1,451.3L845.5,450.2L845.5,450.8L845.6,451.3L846,451.8L846,451L846.1,450.4L846.4,451.3L846.5,449.6L846.6,450.6L846.8,449.4L846.8,449.6L847.1,449.6L847.5,450L847.5,451.3L847.5,450.4L848,450.3L848.4,451L848.5,451.8L848.7,452.5L848.8,452.1L849.1,451.7L849.5,450.6L850,448.5L850,447.3L850.3,446L850.4,448.4L850.6,448.6L850.6,448.3L850.8,446.9L851,445.1L851.1,426.1L851.4,375L851.5,348.8L852,304.2L852.2,296.5L852.4,299.1L852.6,315.4L852.8,332.4L853,371L853.1,402.7L853.2,414.2L853.4,440.3L853.5,441.3L853.8,441.7L854,444.7L854.4,447.3L854.4,449.5L854.8,445.1L855.1,445.2L855.5,445.9L855.6,445.6L855.7,446.2L856,445.8L856.1,444.5L856.3,444.2L856.4,444.8L856.8,444.9L857.1,445.2L857.3,444.8L857.5,442.5L857.9,441.4L858,441.7L858.4,440.6L858.6,439.8L858.8,439.7L859.1,440.2L859.1,440.9L859.5,440.8L860,439.8L860.2,438.3L860.4,436.2L860.8,432.6L860.8,430.3L861,429.5L861.1,429.6L861.4,427.2L861.5,426.1L862,414.8L862,416.4L862.4,411.3L862.6,411L862.6,409.8L862.8,408L863.1,409.1L863.2,411.4L863.5,416.1L863.8,420.4L864,421.5L864,423.1L864.4,427.2L864.4,427.6L864.5,427L864.8,430.1L864.9,428.5L865,431.8L865.1,429.7L865.2,432.7L865.5,431L865.5,431.3L866.4,432.8L866.5,432.1L866.5,433.1L866.8,433.1L867.1,436.5L867.3,435.5L867.5,435.6L868,435.1L868.4,436.8L868.8,437.1L869,436.5L869.1,437.2L869.5,437L869.5,435.5L869.6,435.3L870.4,428.2L870.8,428.6L871.1,431L871.5,432.4L872,430.9L872,428.3L872.4,427.1L872.8,427.2L873.1,426.1L873.3,423.5L873.5,423.8L873.7,422.5L874,420L874.1,421L874.2,419.2L874.3,420.6L874.4,417.6L874.9,415.2L875.1,413.7L875.5,412L875.5,412.2L875.6,412.4L876,409.3L876.4,412L876.7,415.2L876.8,417.7L877.1,414.7L877.3,414.9L877.5,416.4L877.6,420L877.9,419.1L878,416.4L878,413.8L878.1,409.8L878.4,410.5L878.5,410.1L878.5,410.8L878.8,407.5L879.1,403.1L879.5,399.6L880,398.2L880,402.6L880.2,403.1L880.4,404.5L880.8,404.9L881,406.1L881.1,408.7L881.1,408.9L881.5,414.2L881.5,411.1L882,417.4L882,417.6L882.4,422.6L882.6,422.4L882.8,422.6L883.1,424.6L883.5,425.7L883.7,425L884,425.4L884.4,428.8L884.8,432.9L885,426.4L885.1,426.1L885.2,421.6L885.5,423.8L885.6,424.4L885.8,429.6L886,429.7L886.1,426.8L886.4,423.6L886.4,426.5L886.7,426.4L886.8,432.6L887.1,434.8L887.1,437L887.3,431.2L887.5,434.8L888,440.3L888,440.3L888.4,435.6L888.4,433.3L888.8,431.3L889,428.9L889.1,429L889.5,429.7L890,429.7L890.4,422.6L890.8,421.9L890.8,424.6L891.1,425.6L891.5,423.7L892,419.7L892.4,426.2L892.8,429.9L893,429.8L893.1,425.2L893.3,427L893.5,420.2L894,417.7L894.4,414.7L894.8,420.5L894.9,415.1L895.1,417.4L895.5,411.7L895.5,404.1L896,324.8L896.2,287.7L896.4,280.9L896.6,271L896.8,274.2L896.8,277.6L897,289.1L897.1,299L897.5,331.2L897.5,329.3L898,359.5L898.4,390.5L898.4,401.3L898.8,402.3L899,401.5L899.1,396.9L899.5,393.6L899.6,395.6L900,399.5L900,405.9L900.2,414.3L900.2,411.8L900.4,407.8L900.8,409.9L900.8,416.5L901.1,420.4L901.3,407.3L901.5,399.4L902,397.1L902.1,402.3L902.4,411.6L902.5,410.5L902.7,412.7L902.8,401.5L903.1,395.9L903.1,392.2L903.5,391.7L904,392.5L904.3,394.5L904.3,397.3L904.4,401.4L904.5,394.6L904.8,390.4L905.1,379.6L905.5,377L906,370.8L906,370.5L906.4,372.9L906.8,385.2L907.2,402.8L907.5,401L907.9,400.6L908,405.1L908.4,403.9L908.8,408.5L909.1,406.6L909.5,418.6L909.6,420.7L910,421.8L910,413.1L910.7,422.6L910.8,424.1L911.1,386.4L911.5,358.8L911.9,351.7L912,352.1L912.4,364.4L912.8,396.8L912.8,397.8L913.1,416.1L913.1,414.4L913.5,406.4L913.7,410.6L914,400.7L914.3,397L914.4,386.5L914.8,365.2L915.1,347.3L915.4,343.5L915.5,338L915.7,347L916,353.3L916.4,380.1L916.8,396.8L916.8,393.3L917.1,406.6L917.2,409.5L917.5,405.8L918,393.8L918.4,382.4L918.5,385.1L918.8,381.6L919,368.1L919.1,366.1L919.5,350.5L920,346.1L920.1,344.6L920.4,347.4L920.8,364L920.8,364.9L921,376.9L921.1,381.4L921.5,394.1L922,405.2L922.4,407.3L922.5,407L922.8,408.7L923.1,410.1L923.2,417.6L923.3,415.3L923.5,415L924,406.9L924.4,399.5L924.8,395L924.8,390.8L925,384L925.1,374.2L925.5,368.2L926,364L926.4,357.6L926.6,341.4L926.7,339.5L926.9,338.5L927.1,335.4L927.2,335.3L927.5,339.8L927.5,340.8L928,355.6L928.4,365.4L928.8,380.2L929.1,382.5L929.1,387.2L929.5,393.1L929.5,397.8L930,403.2L930,407L930.4,409.3L930.7,415.9L930.8,420.3L931.1,418.7L931.5,413.6L931.5,406L932,396.3L932,395L932.1,395.6L932.4,400.7L932.5,391L932.8,398.1L933.1,387.8L933.1,394.9L933.2,389.6L933.3,390.4L933.5,391.3L934,385.5L934,385.9L934.4,385.2L934.8,397.3L934.8,403.9L935.1,412.7L935.1,417.7L935.5,426.2L935.6,427.9L935.6,423.1L936,421L936,420.1L936.3,422.6L936.4,424L936.6,422.1L936.8,415.4L936.8,416L937.1,412.5L937.2,413.9L937.3,411L937.5,414.8L937.9,414.5L938,409.2L938.3,400.7L938.4,398.9L938.6,400.7L938.8,403.1L939.1,399.2L939.4,401.3L939.5,397.5L939.5,397.2L940,394.4L940,389.4L940.2,383.6L940.4,377.3L940.8,385.7L941,388.4L941.1,391.3L941.5,381.7L941.5,378.2L941.5,374.2L941.8,371.7L942,369.5L942.4,367.3L942.5,365.8L942.8,369.9L942.9,371.5L943,374.6L943,376.4L943.1,382L943.1,391.1L943.5,410L943.6,407.3L944,403.6L944.4,406.9L944.5,404.7L944.8,402.1L945.1,399.2L945.5,406L945.8,408.9L946,417.8L946.4,418.2L946.6,420.7L946.8,428.2L947.1,426.1L947.4,426.6L947.5,415.8L948,414L948.3,407.9L948.4,408.9L948.5,403.6L948.8,400.4L949.1,400L949.5,403.6L949.5,407.7L950,400.5L950.1,397.9L950.4,385.4L950.6,388.7L950.8,386.5L951,394.2L951.1,393.4L951.5,387.9L952,386L952.4,376.2L952.4,379.1L952.8,381.9L953.1,393.1L953.3,400.3L953.5,404L954,409.5L954.2,408.7L954.3,413.2L954.4,425.4L954.6,428L954.8,421.2L955,412.3L955,406.5L955.1,405.4L955.5,387.9L955.5,387.1L956,352.1L956.4,332.4L956.5,327.4L956.8,327.2L956.8,335.7L957.1,335.9L957.3,335.3L957.5,350.5L957.7,372.8L958,397.9L958,397.9L958.4,411.9L958.5,414.3L958.5,419.3L958.8,417L959.1,405.4L959.5,397L959.5,399.6L960,401.1L960,405.8L960.1,405.2L960.4,407.3L960.8,400.7L960.9,400.1L961,395.5L961.1,402.8L961.2,398.7L961.5,405.4L961.6,409.5L962,419.4L962,422.6L962,416.8L962.4,408L962.8,396.8L963.1,380.2L963.1,374.2L963.3,368L963.5,373.6L963.5,379.8L964,365.3L964.4,357.3L964.4,351.4L964.7,404.3L964.8,400.2L964.8,405.3L965.1,398.6L965.1,397.6L965.5,385.5L965.6,382.8L966,371.4L966.4,348L966.7,341.1L966.8,338.1L967.1,353.6L967.3,368.1L967.5,389L968,403.4L968,400L968.4,403.3L968.4,400.8L968.7,400L968.8,393.5L969.1,384.5L969.1,376.6L969.5,378.8L970,389.8L970,386.6L970.3,381.1L970.4,378.5L970.8,376.5L971.1,386.6L971.5,392.2L971.7,394.2L972,396.2L972.4,393.9L972.6,410.3L972.8,401.1L972.9,395.4L973.1,376.4L973.5,358.6L974,326.7L974,323.1L974.1,311.5L974.4,304.5L974.4,303.4L974.6,301.8L974.6,302.3L974.8,304.1L975,309.6L975.1,318.2L975.5,349.5L976,372.4L976,378L976.2,395.2L976.4,403.9L976.5,402.5L976.7,399.6L976.8,398.1L977.1,410L977.2,405.3L977.3,411.3L977.5,396.1L978,395L978.1,394.8L978.4,400.1L978.5,398L978.5,402.6L978.5,403.6L978.8,405.7L979,396L979.1,393.2L979.5,400.3L980,401.4L980.3,403.9L980.4,396.5L980.8,405.2L980.8,404.7L981,403.4L981.1,395.7L981.5,380L982,365.1L982.4,346.8L982.8,325.2L983.1,316.8L983.1,317.2L983.2,316.5L983.5,323L983.5,321.2L984,341.6L984.4,363.2L984.4,370.9L984.4,370.9L984.6,376.3L984.8,385.3L985,395.6L985.1,397.8L985.3,395.8L985.3,393.3L985.5,400.4L985.5,400.6L986,407.1L986.4,412.5L986.7,412.2L986.8,417L987.1,409.1L987.5,420.5L988,419L988.3,426.4L988.4,418.3L988.8,420.9L989.1,422.6L989.3,425.1L989.5,427.6L990,427.9L990,427.9L990.2,426.5L990.4,430.1L990.8,425.9L991,422.7L991,418.8L991,421.4L991,425.8L991.1,421.2L991.4,415.2L991.5,408.3L991.8,410.9L992,414.9L992.4,410.5L992.8,402.5L993.1,392.1L993.5,382.6L994,370.9L994.2,370.7L994.4,372.7L994.6,368L994.8,372.5L994.9,366.9L995.1,372.5L995.5,377.3L996,391.2L996.4,395L996.6,399.8L996.8,403.2L996.8,398.8L996.9,400.1L997,394.8L997.1,396.6L997.5,398.6L997.5,408.9L998,411.8L998.4,418.1L998.5,411L998.8,412.7L999.1,412L999.5,413.6L999.6,417.5L999.9,413.5L1000,418.9L1000,425.4L1000.2,428.9L1000.4,427.4L1000.5,413.1L1000.8,416.7L1000.8,410.7L1001,404.9L1001.1,393.1L1001.5,365.9L1002,321L1002,315.1L1002.4,301.8L1002.6,297.6L1002.8,301.5L1003.1,316.7L1003.5,345.4L1004,372.7L1004.4,391.7L1004.4,399.3L1004.5,406L1004.8,406.9L1004.8,409L1005.1,403.7L1005.5,412.4L1005.7,408L1006,396.1L1006.4,379L1006.7,372.4L1006.8,376.7L1007.1,369L1007.3,367.2L1007.5,371.2L1007.9,379.4L1008,379.2L1008.4,390.5L1008.8,398.1L1009,407.9L1009.1,405L1009.3,411.9L1009.5,405.4L1009.5,410.6L1010,412.9L1010,418.3L1010.2,423L1010.3,417.7L1010.4,422.6L1010.8,413.2L1011.1,406.9L1011.4,390.2L1011.5,393.7L1012,394.8L1012.4,392.5L1012.8,381.4L1013.1,374.9L1013.1,376.1L1013.5,380L1013.7,378.8L1014,385.6L1014.4,394.2L1014.5,394.3L1014.8,397.9L1015.1,400.3L1015.5,409L1015.7,413.3L1015.8,421.3L1016,426.1L1016,423.8L1016.1,427.9L1016.4,418.5L1016.8,399.1L1017.1,383.2L1017.3,369.7L1017.5,358.5L1018,347.5L1018.4,344.9L1018.4,344.7L1018.8,349.5L1019.1,363.1L1019.5,386.5L1019.6,386.3L1019.7,386.7L1019.9,389.8L1020,393.5L1020.4,409.9L1020.5,415.6L1020.8,418.9L1020.8,415.9L1021.1,419.1L1021.5,418.1L1022,420.9L1022.4,427L1022.8,430.7L1023.1,433.1L1023.1,429.9L1023.1,428L1023.3,430.8L1023.5,430.9L1024,432.8L1024.3,425.5L1024.8,419.9L1025.5,417.6L1026,417.8L1026.2,413.2L1026.3,412.1L1026.8,408.4L1027.2,411.7L1027.3,412L1027.4,410.9L1027.4,409L1027.5,405.9L1028,402.1L1028.3,401.2L1028.4,395L1028.8,405.8L1029.2,410.6L1029.5,423.3L1029.7,422.8L1029.9,427.5L1030,427.7L1030,428L1030.2,427.7L1030.3,422.8L1030.3,423L1030.8,409.2L1031,398.6L1031.2,394.9L1031.3,394L1031.4,395.8L1031.5,385.6L1032,366.3L1032.3,340.9L1032.8,329.4L1032.9,328L1033.2,330.5L1033.5,342.1L1033.5,342.9L1034,375.5L1034.3,394.7L1034.8,415.8L1035,424.8L1035.2,426.1L1035.5,428.9L1036,428.5L1036,425.7L1036.3,429.3L1036.8,430.6L1037.2,434L1037.2,429.3L1037.3,428.3L1037.5,426.6L1038,425L1038.3,419.5L1038.8,415.5L1039.2,408.4L1039.5,407.9L1039.6,404.9L1039.6,406L1040,408.2L1040,408.5L1040.3,411.5L1040.8,414.1L1041,417.2L1041.2,417.5L1041.5,421.1L1042,425L1042.3,426.8L1042.8,426.8L1043.1,429L1043.2,431.3L1043.5,428.7L1043.6,428.7L1044,425.4L1044.3,417.2L1044.8,409.3L1045,400.4L1045.2,402.7L1045.4,398.6L1045.5,403.4L1045.5,403.8L1046,409.7L1046.3,413.2L1046.7,415L1046.8,419.4L1047.2,422.5L1047.2,424.5L1047.5,427.3L1047.5,430.1L1047.7,430.3L1048,432.3L1048.3,433.9L1048.8,432.7L1049,434.4L1049.2,433.8L1049.5,434.9L1049.9,433.7L1050,435.8L1050.3,433.3L1050.3,433.2L1050.8,431.6L1051.2,433L1051.5,434.2L1052,433.8L1052.3,434.1L1052.8,434.9L1053.2,435.1L1053.5,431.9L1053.5,426.9L1054,426.3L1054.3,426.9L1054.8,428.9L1054.8,427.6L1055.2,429.4L1055.5,429.9L1056.3,425.6L1056.8,422.8L1057.2,421.8L1057.5,421.5L1057.6,421.7L1058,423.4L1058,425.8L1058.3,428.8L1058.8,430.9L1059.2,428.3L1059.2,425L1060,427.8L1060.3,430.6L1060.6,429.3L1060.7,430.1L1060.8,432.8L1061.2,430.5L1061.5,427.5L1061.9,422.4L1062,423L1062.2,420.5L1062.3,416.9L1062.8,413.4L1063,413.1L1063.2,415L1063.5,416.4L1064,417.4L1064.3,419.8L1064.8,422.7L1065.2,423.8L1065.5,425.2L1065.5,425.7L1066,426.7L1066.8,423.3L1067.2,422.6L1067.5,424.3L1067.8,422.3L1068,421.8L1068.2,418L1068.3,418.9L1068.8,415.3L1069.2,411.3L1069.5,406.2L1070,400.4L1070.3,398.3L1070.7,397.5L1070.8,397L1070.9,397.5L1071.2,400L1071.5,409.5L1072,422.2L1072.3,429L1072.5,430.4L1072.8,430.9L1073.2,430.5L1073.5,430.4L1074,430.9L1074.3,432.1L1074.8,432.7L1075.2,431.7L1076,430.7L1076,432.7L1076.3,434.8L1076.5,435.9L1076.8,436.5L1077.2,435.1L1077.2,434.5L1077.5,432.1L1078,432.8L1078.3,432.9L1078.8,434.4L1078.9,434.7L1079.2,435L1079.5,434.2L1079.5,433.7L1080,434.1L1080.6,436.1" fill="none" stroke="#2ca02c" stroke-width="1.05" stroke-linejoin="round"/><path d="M837.5,440L837.9,416.3L840.3,404.6L843.8,392.8L845.6,398.7L848.5,395.2L850.4,378.2L852.8,353.7L853.8,343.5L856.1,342.3L857.9,355.2L860.2,366.4L862,358.7L863.8,350.5L865.5,355.2L869,351.7L872.6,355.8L873.7,333.5L874.9,354.1L880.4,345.5L895.1,316L895.5,315.3L900,311.9L900.2,312.5L900.2,311.5L900.4,310.5L900.8,309.7L900.8,310.1L901.1,310.2L901.3,309.8L901.5,309.9L902,308.9L902.1,308.4L902.4,307.9L902.7,307.3L902.8,306.5L903.1,307.1L903.5,306.9L904,304.7L904.3,303.9L904.4,304.7L904.5,305.5L904.8,305.9L906,308.6L906,308.5L906.4,306.8L906.8,305.7L907.1,304.3L907.2,304.9L907.5,305.1L907.9,306L908,305.8L908.4,306.1L908.8,305.8L909.1,305.8L909.5,305.2L909.6,305.6L910,305.5L910,305.3L910.4,304.6L910.7,304.3L910.8,305.2L911.1,305.7L911.5,306.5L911.9,306.8L912,306.3L912.8,304.3L912.8,304.6L913.1,304.4L913.1,304.5L913.5,304.8L913.7,305.4L914,305.7L914.3,305.4L914.4,306.2L914.8,307L915.1,307.2L915.5,306.1L915.7,306.6L916,307.2L916.8,307.8L916.8,308.1L917.1,308.7L917.2,308.5L918,307.8L918.4,308.6L918.5,309.1L918.8,309.4L919,309.3L919.5,310.1L920.1,309.3L920.4,308.9L920.8,309.5L921,308.7L921.1,308.4L921.5,308.4L922.4,309.5L922.5,310L923.2,309.2L923.3,309.9L923.5,310.1L924,310.3L924.4,309.6L924.8,309.6L924.8,309.3L925,309.8L925.5,309.8L926,309.4L926.6,309.6L926.7,310.3L926.9,310.4L927.1,310.3L927.2,309.9L927.5,310.3L927.5,309.8L928,310.3L928.4,309.9L928.8,309.8L929.1,309L929.1,309.2L930,310.3L930,310.2L930.7,310.3L930.8,310.2L931.1,311.1L931.5,309.8L931.5,310.6L932,310.4L932,311.3L932.1,310.8L932.4,310.5L932.5,310.8L932.8,310.9L933.1,311.5L933.2,310.6L933.3,310.7L933.5,311.2L934,311.7L934,311.6L934.4,311.3L934.8,311.7L934.8,312.2L935.1,312.4L935.1,312L935.5,312.4L935.6,312L935.6,312.4L936,311.7L936,312.6L936.3,312.6L936.4,312.2L936.6,311.5L936.8,311.5L936.8,312L937.1,311.9L937.3,311.1L937.5,310.7L937.9,310.4L938,310.6L938.3,310.8L938.4,310.6L938.6,311.1L938.8,310.5L939.1,310.9L939.4,310.4L939.5,311.3L939.5,311.4L940,310.6L940,310.2L940.2,309.9L940.4,310.5L940.8,310.2L941,309.7L941.1,309.7L941.5,309.2L941.5,308.9L942.4,308.2L942.5,309L942.8,309.2L942.9,309.1L943,308.1L943,308.1L943.1,307.7L943.1,308L943.5,307.8L943.6,308.2L944.4,307.7L944.5,307.8L944.8,307.7L945.1,307.8L945.5,307.4L945.8,307.4L946,307.1L946.4,307.4L946.6,307L946.8,307.3L947.1,306.9L947.4,306.8L947.5,306L948.3,306L948.4,306.3L948.8,306.1L949.1,305.9L949.5,305.4L949.5,305.5L950,305.9L950.1,306.7L950.4,307.1L950.6,307.3L951.1,306.4L951.5,306L952,305L952.4,305.2L952.4,305.6L952.8,306.4L953.1,306.2L953.5,306.6L954,306.6L954.3,306.1L954.6,307L954.8,306.6L955,306.5L955,305.6L955.5,306.3L956,306.3L956.4,305.3L956.5,305.7L956.8,305.5L956.8,305.2L957.1,304.9L957.5,305.7L958,305.4L958,305.2L958.4,305.5L958.5,305.5L958.5,305.7L958.8,305.6L959.1,306.3L959.5,307L959.5,307.4L960,308.2L960,308.1L960.1,308.2L960.4,307.4L960.8,307.1L960.9,306.8L961,307.2L961.1,306.7L961.6,305.8L962,306.1L962,306.4L962.4,306.4L962.8,305.8L963.1,305.7L963.1,305.6L963.3,306.4L963.5,306.5L963.5,306.1L964,305.9L964.4,305.9L964.4,306.8L964.7,307L964.8,306.6L964.8,306.3L965.1,306L965.1,305.8L965.5,305.9L965.6,306.3L966,306.2L966.4,306.7L966.7,306.4L966.8,307.6L967.1,307.6L967.3,308L968,308.3L968,309L968.4,308.5L968.7,307.8L968.8,308.3L969.1,308.8L969.1,309.3L970,309.5L970,309.6L970.3,309.5L970.4,309.2L971.1,307.9L971.7,308L972,308L972.4,307.4L972.6,307.4L972.9,307.9L973.1,307.6L973.5,307.6L974,306.9L974,307.1L974.1,307.2L974.4,307.8L974.4,308.3L974.6,308L974.6,308L974.8,307.7L975.1,307.3L975.5,307.5L976,306.9L976,306.6L976.2,305.6L976.4,305.9L976.5,305.7L976.8,306.3L977.1,306.9L977.2,307.3L977.5,306.7L978,306.4L978.4,306.4L978.5,305.6L978.5,306L978.5,306.2L978.8,306.5L979.1,305.5L979.5,306L980,306.3L980.3,306.3L980.4,306.1L980.8,306.6L980.8,307.3L981,307.9L981.1,307.7L982,307.2L982.8,307.6L983.1,307.3L983.1,306.9L983.2,306.6L983.5,307.1L983.5,307.2L984,307.1L984.4,307.3L984.4,307.9L984.6,307.5L984.8,307.5L985,307.7L985.1,308L985.3,307.2L985.5,307.3L985.5,308.1L986,308.6L986.4,307.9L986.7,307.1L986.8,306.5L987.5,308.1L988,308.7L988.3,308.7L988.4,308.3L989.1,307.6L989.3,308L989.5,307.8L990,308.1L990,308L990.2,308.7L990.4,308.4L990.8,308.4L991,307.6L991,308.2L991,307.9L991,308.1L991.1,307.5L991.5,307.2L991.8,307.2L992,307.7L992.4,307.5L992.5,307.7L993.1,307.4L993.5,306.5L994.2,306.1L994.4,306.5L994.6,306.2L994.8,306.7L994.9,306.8L995.1,306.6L996,306.7L996,307.5L996.4,306.8L996.5,306.7L996.6,306.1L996.8,306.4L996.9,306.5L997,306.9L997.1,306.7L997.5,306.8L997.5,306.2L998,306L998.4,305.9L998.5,305.3L998.8,305.7L999.1,304.9L999.5,305.3L999.6,305L999.9,305.2L1000,305.1L1000.2,306.2L1000.4,306.6L1000.5,306.3L1000.8,305.3L1000.8,304.8L1001,305L1001.1,305.4L1001.5,305.9L1002,305.7L1002,305.9L1002.4,305.1L1002.6,304.5L1002.8,303.7L1003.5,303.7L1004,303.9L1004.4,303.3L1004.8,303.9L1004.8,303L1005.5,302.3L1005.5,303.3L1005.7,303.2L1006,303.4L1006.4,302.9L1006.8,302.9L1007.3,302.7L1007.5,302.3L1007.9,302.5L1008,302.3L1008.3,302.3L1008.4,301.5L1008.8,301.3L1009,301.3L1009.1,301.9L1009.3,301.7L1009.5,301L1010,301.2L1010,301.6L1010.3,301.3L1010.4,301.4L1010.8,300.9L1011.1,300.3L1011.5,300.2L1012,300.7L1012.4,300.1L1012.8,299.9L1013.1,300L1013.1,300.2L1013.5,300L1013.7,299.4L1014,299.3L1014.5,299.6L1014.8,299.2L1015.5,299.1L1015.7,299.5L1015.8,299.6L1016,299.2L1016,298.4L1016.1,298.8L1016.4,298.7L1016.8,299L1017.1,298.4L1017.3,298.9L1017.5,299.2L1018.4,299.5L1018.4,300.1L1018.8,301.4L1019.1,301.7L1019.5,301.6L1019.6,300.4L1019.7,300.6L1019.9,300.8L1020,301.2L1020.4,302L1020.5,302.2L1020.8,302.7L1020.8,301.4L1021.1,301L1021.5,301.1L1022,301.7L1022.8,301.1L1023.1,301.7L1023.1,302.8L1023.3,302.4L1023.5,302.7L1024,301.7L1024.3,301.3L1024.8,301.4L1025.2,302.5L1025.5,303L1026,302.3L1026,301.5L1026.2,301.3L1026.8,301.7L1027.2,302.2L1027.4,302.8L1027.4,302.6L1027.5,302.3L1028,302.5L1028.3,302.1L1028.4,302.9L1028.8,302.4L1029.2,302.5L1029.5,302.1L1029.7,302.8L1029.9,302.4L1030,301.8L1030,301.5L1030.3,301.9L1030.8,302L1031,302.6L1031.2,302.1L1031.3,302.5L1031.4,302.3L1031.5,303.3L1032,303.6L1032.3,305.1L1032.8,305.1L1032.9,305.9L1033.2,305.5L1033.5,306.6L1034,305.8L1034.3,305.3L1034.8,304.5L1035,303.8L1035.2,303.8L1035.5,302.9L1036,302.2L1036,301.6L1036.3,301L1037.2,301.3L1037.2,301.8L1037.3,301.7L1037.5,301.3L1038.3,300.5L1038.8,300.5L1039.2,300.9L1039.5,301L1039.6,300.8L1039.6,300.3L1040,300.8L1040.3,300.6L1040.8,300.7L1041,301.1L1041.2,301.6L1042,300.8L1042.3,300.5L1043.1,301.3L1043.2,301.9L1043.5,301.6L1043.6,301.3L1044,301.1L1044.3,301.5L1045,301L1045.2,300.3L1045.4,300.2L1045.5,300.3L1045.5,300.8L1046,300.9L1046.3,301L1046.7,300.9L1046.8,301.3L1047.2,301.4L1047.2,301L1047.5,301.3L1047.5,300.8L1047.7,301.2L1048,300.2L1048.3,300.6L1048.4,300.5L1048.8,300.7L1049,300.1L1049.2,300.2L1049.9,301L1050,300.8L1050.3,300.2L1050.3,299.7L1050.8,299.6L1051.2,299.3L1051.5,299.4L1052.3,300.1L1052.8,300.1L1053.2,299.5L1053.5,299.7L1053.5,299.9L1054,300.4L1054.8,299.3L1054.8,298.7L1055.2,298.5L1055.5,298.7L1056.8,298.7L1057.5,299.4L1057.6,299.2L1058,298.7L1058.3,299L1058.8,298.8L1059.2,298.3L1059.2,298.2L1059.5,297.9L1060,298.1L1060.3,297.9L1060.6,298.4L1060.7,298.3L1060.8,298.4L1061.2,298L1061.5,297.9L1061.9,298L1062,297.9L1062.2,298.2L1062.8,297.4L1063,296.8L1063.2,295.7L1064,296.7L1064.3,297.4L1065.2,296.8L1065.5,296.7L1065.5,296.8L1066,296.8L1066.3,296.6L1067.2,297.1L1067.5,297.2L1067.8,297.3L1068,297.7L1068.2,298.1L1068.8,296.8L1069.2,296.3L1069.5,295.4L1070,295.3L1070.7,295.9L1070.8,295.5L1070.9,295.6L1071.5,297.1L1072,296.1L1072.3,295.6L1072.5,294.9L1072.8,295.3L1073.2,295.2L1073.5,295.8L1074,295.6L1074.3,295.2L1074.8,294.3L1075.2,294.5L1075.5,294.2L1076,294.4L1076,294.6L1076.5,295.6L1076.8,295.8L1077.2,296.5L1077.2,296.9L1077.5,296.9L1078,296.7L1078.3,297L1078.8,298L1078.9,299L1079.2,298.8L1079.5,298.6L1079.5,298.2L1080,297.3L1080.3,296.5L1080.6,295.7" fill="none" stroke="#d62728" stroke-width="1.05" stroke-linejoin="round"/><path d="M837.5,450.3L837.9,437.7L838.4,430.1L838.5,427.7L838.6,425.9L838.8,423.7L839.1,417.6L839.1,416.9L839.5,415.1L840,413.5L840,413.7L840.3,411.9L840.4,411.5L840.8,409.6L840.8,409.1L841.1,407.4L842,404.2L842,403.8L842.4,402L842.6,401.2L842.8,401.1L843,400.4L843.1,399.7L843.1,399.2L843.5,398.4L843.8,398.1L844,397.6L844.8,395.7L845,395.3L845.1,395.2L845.5,394.2L845.5,394.3L845.6,394.7L846,393.4L846,393L846.1,393.2L846.4,392.2L846.5,391.3L846.6,390.9L846.8,390.6L846.8,390.7L847.1,389.8L847.5,388.5L848,387.7L848.4,386.5L848.5,385.6L848.7,383.1L849.1,378L849.5,373.5L850,368.8L850,368.1L850.3,364.6L850.4,365.7L850.4,367.1L850.6,369.4L850.6,370L850.8,373.3L851.1,381.2L851.4,385.7L852,385.3L852.2,384.4L852.4,383.7L852.6,383.6L852.8,383.5L853,383L853.1,382.9L853.2,382.2L853.4,380.9L853.5,380L853.8,378.2L854.4,375.4L854.4,374.9L855,380.3L855.1,382L855.5,385.9L855.6,385.5L856,388.8L856.1,390.7L856.3,390.3L856.4,389.7L856.8,388.6L857.1,387.9L857.2,388.2L857.3,388L857.5,387.1L857.9,386.5L858,386.8L858.4,385.1L858.6,384.1L858.8,384.4L859.1,383.8L859.1,383.2L859.5,383.6L860.2,385.1L860.4,385.6L860.8,386.3L860.8,385.9L861,385.9L861.1,386.5L861.4,386.6L861.5,387.1L862,387.6L862,387.2L862.6,389.1L862.6,388.9L862.8,389.1L863.2,388.4L863.5,388.5L863.8,388.1L864,388.2L864.4,387.7L864.4,387.6L864.8,387.7L864.9,387.1L865.1,387.3L865.5,387.6L866,387.1L866.4,386.8L866.5,386.9L866.5,386.6L866.8,386.5L867.1,385.6L867.3,385.1L868.4,385.3L869.1,385.3L869.1,385L869.5,384.6L869.6,384.2L870,383.8L870.8,383.9L872,383.2L872,384L872.4,384.1L872.6,383.1L872.8,383L873.1,383.1L873.3,382.8L873.7,382.9L874,382.7L874.1,382.7L874.2,382.4L874.3,383.2L874.4,383.2L874.8,382L875.1,382L875.5,382.2L875.5,382.5L875.6,382L876,382.1L876.4,382.2L876.7,381.4L876.8,381.7L877.1,382.5L877.5,382.1L877.6,382.4L877.9,382.8L878,383.3L878.1,383L878.4,383L878.5,383.3L878.5,383.9L879.1,384.3L880.4,385.5L880.8,385.7L881,386.6L881.1,387L881.1,386.4L881.5,386.9L881.5,387.2L882,387.6L882,387.5L882.4,387.5L882.6,388L883.1,388.3L883.7,389.7L884,388.8L884.4,387.9L884.8,387.6L885,387.8L885.1,387.4L885.2,386.7L885.5,386.4L885.6,386.6L885.8,385.9L886.1,386.4L886.4,381.8L886.4,381L886.7,376.7L886.8,376L887.1,370L887.1,369.6L887.3,367L887.5,371.9L888,379.2L888,380.3L888.4,386.2L888.4,387L888.8,387L889,387.2L889.1,386.5L889.5,386L890,386.6L890.4,386.7L890.8,386.2L890.8,386L891.1,386L892,385.4L892.4,385.4L893,385.7L893.1,385.4L893.1,385.1L893.3,385.2L893.5,385.8L894,385.3L894.4,384.4L894.8,384.7L894.9,384.4L895.1,383.4L895.5,383.7L895.5,384.5L896,384.6L896.4,384.5L896.6,384.2L896.8,384.1L897,383.5L897.1,383.7L897.5,383.8L897.5,383.6L898.4,383.9L898.4,384.1L899,383.8L899.1,384L899.5,384.2L899.6,384.4L900,384.5L900.2,384.4L900.2,384.5L900.8,384.3L900.8,384.1L901.1,384.2L901.3,384.6L901.5,384.4L902.4,384.5L902.5,385L902.7,384.8L902.8,384.3L903.1,384.4L903.5,384.1L904,384.5L904.3,384.2L904.4,384.5L905.1,384.8L905.5,384.8L906,384L906,384.7L906.4,385.2L906.8,384.6L907.2,384.5L907.5,383.8L907.9,382.9L908,383.1L908.4,382.2L908.8,380.9L909.1,380.4L909.5,379.3L909.6,379.2L910,378.2L910,377.7L910.4,376L910.7,374.9L910.8,375L911.1,372.8L911.9,369.3L912,369.3L912.4,370.6L912.8,371.1L913.1,372.3L913.1,372L913.5,373.2L913.7,373.9L914.3,375.2L914.4,375.1L914.8,375.7L915.5,377.5L915.7,378.1L916,379L916.8,380.6L916.8,380.6L917.1,381.4L917.2,381.8L918,382.8L918.5,383.9L918.8,384.5L919,385.5L919.1,386L919.5,385.5L920,385.5L920.1,385.9L920.4,385.4L920.8,385.7L920.8,386L921,386.1L921.1,386.4L921.5,386.4L922.4,387.2L922.5,386.8L922.8,386.5L923.2,387.6L923.3,387.2L923.5,387.5L924,387.9L924.4,387.8L924.8,387.3L924.8,387.6L925,387.8L925.1,387.8L925.5,388.6L926,388.6L926.6,388.4L926.7,388.9L926.8,389L926.9,388.5L927.1,388.6L927.2,388.4L927.5,388.8L928,388.5L928.4,388.5L929.1,388.9L929.1,389L929.5,388.9L929.5,388.8L930,389.5L930.7,389.5L930.8,389L931.1,386.6L931.5,384L932,382L932,381.8L932.1,381.3L932.5,378.5L932.8,379.1L933.1,380.2L933.1,380.8L933.2,380.9L933.3,380.8L934,383.1L934.8,385.1L935.1,385.7L935.1,385.6L935.5,386.9L935.6,387.7L935.6,387.5L936,388.7L936,389.3L936.3,390.2L936.4,390.1L936.8,390.5L936.8,390.8L937.1,391L937.2,390.6L937.3,390.3L937.5,390.1L937.9,390.1L938,390.7L938.3,391L938.4,391.3L938.6,391.3L938.8,390.7L939.1,390.5L939.4,390.7L939.5,391.2L939.5,390.9L940,390.3L940,390.6L940.4,391L940.8,391L941,390.8L941.5,391L941.5,391.3L941.5,391L941.8,390.4L942,390.3L942.4,390.7L942.5,391L942.9,391.2L943,391.2L943,390.7L943.1,390.5L943.1,391L943.5,390.9L943.6,390.7L944.4,391L944.5,390.9L944.8,390.5L945.1,390.6L945.8,391.1L946.4,390.8L946.8,390.7L947.1,391.3L947.5,390.5L948,390.9L948.3,390.8L948.4,390.6L949.1,390.8L949.5,391.3L949.5,390.9L950,390.3L950.4,391.5L950.6,391.3L950.8,390.4L951,390.1L951.1,390.7L951.5,391.4L952,391.2L952.4,390.5L952.4,390.8L952.8,390.8L953.1,390.4L953.3,390.5L953.5,390.5L954,390.8L954.3,390.6L954.4,391L954.8,391.2L955,390.9L955,390.2L955.5,390.7L956,390.6L956.4,390.6L956.5,390.4L956.8,390.5L956.8,391.1L957.1,390.9L957.3,390.5L957.7,390.7L958,390.6L958.4,390.3L958.5,390.6L958.5,390.4L958.8,390.3L959.1,390.3L959.5,390.1L960,389.6L960.4,390.2L960.8,390.3L960.9,389.8L961,389.7L961.1,389.8L961.2,390L961.5,390.1L962,389.6L962,389.7L962,390.1L962.4,389.9L963.1,388.5L963.1,388.7L963.3,388.5L963.5,387.9L963.5,388.1L964,387.8L964.4,387.4L964.4,387.6L964.7,387.1L964.8,386.7L964.8,386.6L965.1,386.7L965.1,386.8L965.5,386.4L965.6,386.2L966.4,385.4L966.7,384.7L966.8,384.7L967.5,384L968,383.8L968.4,382.6L968.4,382.8L968.8,383.4L969.1,382.2L969.5,382.2L970,381.9L970,382L970.3,381.7L970.4,380.6L970.8,380.1L971.1,380.1L971.7,378.9L972,378.5L972.4,378.4L972.8,378.7L972.9,378.5L973.1,378.2L973.5,377.5L974,376.6L974,377.1L974.1,377.2L974.4,376.5L974.4,376.5L974.6,373.5L974.6,373L975,367.4L975.1,365.5L975.5,359.8L976,353.9L976,353.4L976.2,351L976.4,348.6L976.7,343.5L976.8,343.2L977.1,339.9L977.2,338.7L977.5,336.5L978,333.3L978.4,330.5L978.5,329.3L978.5,328.4L978.5,328.5L978.8,330.4L979,331.7L979.1,332.2L979.5,333.9L980,335.8L980.4,338.2L980.8,340.2L980.8,340.2L981,341.5L981.1,342.6L981.5,344.6L982.4,349.2L982.8,352.1L983.1,354.5L983.1,354.1L983.2,354.1L983.5,355.6L983.5,356L984,359.3L984.4,362.8L984.4,363.1L984.4,363L985,368L985.1,369.2L985.3,370.1L985.3,370L985.5,371.4L985.5,371.6L986.4,373.3L986.7,373.5L986.8,373.2L987.1,374L987.5,375.1L988,375.5L988.4,375.8L989.1,377.4L989.3,377.4L989.5,377.6L990,378.8L990.2,378.7L990.4,378.3L990.8,378.6L991,379.4L991,379.5L991,379.2L991.1,379L991.4,379L991.8,379.4L992,379.1L992.4,379.2L992.5,379.6L992.8,379.9L993.1,380.1L993.5,380.5L994,380.7L994.2,380.1L994.6,380.3L994.8,379.9L994.9,380.3L995.1,380.5L995.5,380.5L996,380.6L996.4,380.5L996.5,380.8L996.6,381.4L996.8,381.2L996.8,381.3L996.9,381.5L997,381.6L997.1,381.7L997.5,381.2L998,381.6L998.5,381.7L999.1,382.6L999.5,382.3L999.6,382.1L1000,382.2L1000,382.4L1000.2,382.2L1000.4,381.8L1000.5,382.3L1000.8,382.7L1000.8,382.4L1001.1,382.1L1002,382.4L1002.4,383L1002.6,382.8L1003.1,383.3L1003.5,383.2L1004.4,382.7L1004.5,382.5L1004.8,382.7L1004.8,383.3L1005.1,383L1005.5,382.9L1005.5,383.2L1005.7,383.2L1006.4,383.6L1006.8,383.3L1007.1,383.4L1007.3,382.7L1007.5,383.3L1007.9,383.9L1008,383.4L1008.3,383.7L1008.4,383.8L1008.8,383.5L1009,383.4L1009.1,383.7L1009.3,383.6L1009.5,383L1010,383.5L1010,383.2L1010.2,383.4L1010.3,384.1L1010.4,383.9L1010.8,383.5L1011.1,383.5L1011.4,383.1L1012,383.9L1012.4,384.1L1012.8,384L1013.1,384.3L1013.5,384L1013.7,383.7L1014,383.8L1014.4,384.1L1015.5,383.9L1015.8,383.8L1016,384.4L1016,384.8L1016.8,384.3L1017.1,384.5L1017.5,384.6L1018,384.7L1018.4,384.7L1018.4,384.5L1019.1,385L1019.5,384.8L1019.7,384.3L1019.9,384.7L1020,384.5L1020.4,384.7L1020.5,384.9L1021.1,384.8L1022,385.3L1022.8,385.2L1023.1,385.6L1023.1,385.3L1023.3,385.2L1024,385.3L1024.8,386.1L1025.5,385.6L1026,385.9L1026,385.7L1026.3,385.7L1026.8,386L1027.2,386.1L1027.3,386.3L1027.4,386.1L1027.4,385.9L1027.5,386.5L1028,386.3L1028.3,385.9L1028.4,386.1L1029.2,386.5L1029.5,386.9L1029.7,386.7L1029.9,386.7L1030,386.9L1030.2,386.9L1030.3,387L1030.3,386.8L1030.8,387L1031,387.5L1031.2,387.5L1031.5,386.9L1032,386.6L1032.8,386.7L1032.9,387.1L1033.2,387L1033.5,386.7L1033.5,386.6L1034.3,386.6L1035,387.3L1035.2,387.3L1035.5,387.6L1036,387.5L1036,387.3L1036.8,387.1L1037.2,386.6L1037.3,387.1L1037.5,386.8L1038,386.8L1038.8,387.3L1039.2,387.1L1039.5,386.7L1039.6,387.6L1040,387.5L1040,387.3L1040.3,386.9L1040.8,387.2L1041,387.8L1041.2,387.4L1041.5,387.2L1042.3,388.1L1042.8,388.1L1043.1,387.7L1043.2,387.4L1043.6,387.2L1044,387.2L1044.8,387.5L1045,387.4L1045.2,387.1L1045.4,387.2L1045.5,387.4L1046,387.3L1046.3,387.4L1046.7,387.6L1046.8,387.8L1047.2,387.7L1047.5,388.5L1047.5,388.1L1047.7,387.9L1048,388.2L1048.3,387.5L1048.4,387.1L1048.8,387.6L1049,387.8L1049.5,387.8L1049.9,387.9L1050,387.8L1050.3,387.1L1050.8,387.3L1051.5,387.3L1052,387.4L1053.2,387.3L1053.5,387.5L1053.5,387.6L1054,387.6L1054.3,387.2L1054.8,387.1L1054.8,387.3L1055.2,386.8L1055.5,387.4L1056,387.5L1056.3,387.2L1056.8,387.6L1057.2,387.7L1057.5,387.4L1057.6,386.7L1058,386.9L1058,387.4L1058.8,387.4L1059.2,387.5L1059.2,387.6L1059.5,387.3L1060,387.7L1060.3,387.6L1060.6,386.6L1060.7,386.8L1060.8,387.3L1061.2,387.4L1062.2,386.9L1062.3,387.2L1063.2,387.2L1064,387.1L1064.8,387.4L1065.2,386.9L1065.5,386.9L1065.5,387.3L1066,387.4L1066.3,386.9L1066.8,386.6L1067.2,386.6L1067.8,387.3L1068,387.2L1068.2,387.3L1068.3,387.1L1069.2,387.2L1069.5,387L1070,386.6L1070.3,386.5L1070.7,386.8L1070.8,386.7L1070.9,386.8L1071.5,386.5L1072,386.3L1072.3,386.3L1072.5,386.6L1072.8,387L1073.2,387.2L1073.5,387L1074,386.3L1074.3,386.1L1075.5,387.2L1076,387L1076,386.8L1076.5,386.7L1077.2,387L1077.2,386.8L1077.5,386.5L1078,386.9L1078.3,386.9L1078.8,386.4L1078.9,387L1079.2,387.2L1079.5,386.6L1079.5,386.3L1080,386.1L1080.3,386.7L1080.6,386.8" fill="none" stroke="#9467bd" stroke-width="1.05" stroke-linejoin="round"/></g>
<rect x="118" y="192.6" width="267.5" height="265.7" fill="none" stroke="#000" stroke-width="1.1"/><line x1="130.2" y1="458.3" x2="130.2" y2="460.8" stroke="#000" stroke-width="0.9" /><text x="129.4" y="470" font-size="10.6" text-anchor="middle" font-family="'DejaVu Sans','Liberation Sans',sans-serif" fill="#000" >0</text><line x1="178.82" y1="458.3" x2="178.82" y2="460.8" stroke="#000" stroke-width="0.9" /><text x="178.02" y="470" font-size="10.6" text-anchor="middle" font-family="'DejaVu Sans','Liberation Sans',sans-serif" fill="#000" >10000</text><line x1="227.44" y1="458.3" x2="227.44" y2="460.8" stroke="#000" stroke-width="0.9" /><text x="226.64" y="470" font-size="10.6" text-anchor="middle" font-family="'DejaVu Sans','Liberation Sans',sans-serif" fill="#000" >20000</text><line x1="276.06" y1="458.3" x2="276.06" y2="460.8" stroke="#000" stroke-width="0.9" /><text x="275.26" y="470" font-size="10.6" text-anchor="middle" font-family="'DejaVu Sans','Liberation Sans',sans-serif" fill="#000" >30000</text><line x1="324.68" y1="458.3" x2="324.68" y2="460.8" stroke="#000" stroke-width="0.9" /><text x="323.88" y="470" font-size="10.6" text-anchor="middle" font-family="'DejaVu Sans','Liberation Sans',sans-serif" fill="#000" >40000</text><line x1="373.3" y1="458.3" x2="373.3" y2="460.8" stroke="#000" stroke-width="0.9" /><text x="372.5" y="470" font-size="10.6" text-anchor="middle" font-family="'DejaVu Sans','Liberation Sans',sans-serif" fill="#000" >50000</text><text x="250.85" y="483.9" font-size="13" text-anchor="middle" font-family="'DejaVu Sans','Liberation Sans',sans-serif" fill="#000" >Optimizer steps</text><line x1="115.5" y1="192.6" x2="118" y2="192.6" stroke="#000" stroke-width="0.9" /><text x="112.4" y="195" font-size="10.6" text-anchor="end" font-family="'DejaVu Sans','Liberation Sans',sans-serif" fill="#000">10<tspan dy="-4" font-size="7.63">4</tspan></text><line x1="116.6" y1="239.03" x2="118" y2="239.03" stroke="#000" stroke-width="0.65" /><line x1="116.6" y1="227.33" x2="118" y2="227.33" stroke="#000" stroke-width="0.65" /><line x1="116.6" y1="219.03" x2="118" y2="219.03" stroke="#000" stroke-width="0.65" /><line x1="116.6" y1="212.6" x2="118" y2="212.6" stroke="#000" stroke-width="0.65" /><line x1="116.6" y1="207.34" x2="118" y2="207.34" stroke="#000" stroke-width="0.65" /><line x1="116.6" y1="202.89" x2="118" y2="202.89" stroke="#000" stroke-width="0.65" /><line x1="116.6" y1="199.04" x2="118" y2="199.04" stroke="#000" stroke-width="0.65" /><line x1="116.6" y1="195.64" x2="118" y2="195.64" stroke="#000" stroke-width="0.65" /><line x1="115.5" y1="259.02" x2="118" y2="259.02" stroke="#000" stroke-width="0.9" /><text x="112.4" y="261.42" font-size="10.6" text-anchor="end" font-family="'DejaVu Sans','Liberation Sans',sans-serif" fill="#000">10<tspan dy="-4" font-size="7.63">3</tspan></text><line x1="116.6" y1="305.45" x2="118" y2="305.45" stroke="#000" stroke-width="0.65" /><line x1="116.6" y1="293.76" x2="118" y2="293.76" stroke="#000" stroke-width="0.65" /><line x1="116.6" y1="285.46" x2="118" y2="285.46" stroke="#000" stroke-width="0.65" /><line x1="116.6" y1="279.02" x2="118" y2="279.02" stroke="#000" stroke-width="0.65" /><line x1="116.6" y1="273.76" x2="118" y2="273.76" stroke="#000" stroke-width="0.65" /><line x1="116.6" y1="269.31" x2="118" y2="269.31" stroke="#000" stroke-width="0.65" /><line x1="116.6" y1="265.46" x2="118" y2="265.46" stroke="#000" stroke-width="0.65" /><line x1="116.6" y1="262.06" x2="118" y2="262.06" stroke="#000" stroke-width="0.65" /><line x1="115.5" y1="325.45" x2="118" y2="325.45" stroke="#000" stroke-width="0.9" /><text x="112.4" y="327.85" font-size="10.6" text-anchor="end" font-family="'DejaVu Sans','Liberation Sans',sans-serif" fill="#000">10<tspan dy="-4" font-size="7.63">2</tspan></text><line x1="116.6" y1="371.88" x2="118" y2="371.88" stroke="#000" stroke-width="0.65" /><line x1="116.6" y1="360.18" x2="118" y2="360.18" stroke="#000" stroke-width="0.65" /><line x1="116.6" y1="351.88" x2="118" y2="351.88" stroke="#000" stroke-width="0.65" /><line x1="116.6" y1="345.45" x2="118" y2="345.45" stroke="#000" stroke-width="0.65" /><line x1="116.6" y1="340.19" x2="118" y2="340.19" stroke="#000" stroke-width="0.65" /><line x1="116.6" y1="335.74" x2="118" y2="335.74" stroke="#000" stroke-width="0.65" /><line x1="116.6" y1="331.89" x2="118" y2="331.89" stroke="#000" stroke-width="0.65" /><line x1="116.6" y1="328.49" x2="118" y2="328.49" stroke="#000" stroke-width="0.65" /><line x1="115.5" y1="391.88" x2="118" y2="391.88" stroke="#000" stroke-width="0.9" /><text x="112.4" y="394.27" font-size="10.6" text-anchor="end" font-family="'DejaVu Sans','Liberation Sans',sans-serif" fill="#000">10<tspan dy="-4" font-size="7.63">1</tspan></text><line x1="116.6" y1="438.3" x2="118" y2="438.3" stroke="#000" stroke-width="0.65" /><line x1="116.6" y1="426.61" x2="118" y2="426.61" stroke="#000" stroke-width="0.65" /><line x1="116.6" y1="418.31" x2="118" y2="418.31" stroke="#000" stroke-width="0.65" /><line x1="116.6" y1="411.87" x2="118" y2="411.87" stroke="#000" stroke-width="0.65" /><line x1="116.6" y1="406.61" x2="118" y2="406.61" stroke="#000" stroke-width="0.65" /><line x1="116.6" y1="402.16" x2="118" y2="402.16" stroke="#000" stroke-width="0.65" /><line x1="116.6" y1="398.31" x2="118" y2="398.31" stroke="#000" stroke-width="0.65" /><line x1="116.6" y1="394.91" x2="118" y2="394.91" stroke="#000" stroke-width="0.65" /><line x1="115.5" y1="458.3" x2="118" y2="458.3" stroke="#000" stroke-width="0.9" /><text x="112.4" y="460.7" font-size="10.6" text-anchor="end" font-family="'DejaVu Sans','Liberation Sans',sans-serif" fill="#000">10<tspan dy="-4" font-size="7.63">0</tspan></text><text transform="translate(88.8,324.15) rotate(-90)" font-size="13.15" text-anchor="middle" font-family="'DejaVu Sans','Liberation Sans',sans-serif">Mean condition number</text>
<rect x="473.5" y="193.5" width="265.9" height="264.5" fill="none" stroke="#000" stroke-width="1.1"/><line x1="485.6" y1="458" x2="485.6" y2="460.5" stroke="#000" stroke-width="0.9" /><text x="484.8" y="469.7" font-size="10.6" text-anchor="middle" font-family="'DejaVu Sans','Liberation Sans',sans-serif" fill="#000" >0</text><line x1="533.94" y1="458" x2="533.94" y2="460.5" stroke="#000" stroke-width="0.9" /><text x="533.14" y="469.7" font-size="10.6" text-anchor="middle" font-family="'DejaVu Sans','Liberation Sans',sans-serif" fill="#000" >10000</text><line x1="582.28" y1="458" x2="582.28" y2="460.5" stroke="#000" stroke-width="0.9" /><text x="581.48" y="469.7" font-size="10.6" text-anchor="middle" font-family="'DejaVu Sans','Liberation Sans',sans-serif" fill="#000" >20000</text><line x1="630.62" y1="458" x2="630.62" y2="460.5" stroke="#000" stroke-width="0.9" /><text x="629.82" y="469.7" font-size="10.6" text-anchor="middle" font-family="'DejaVu Sans','Liberation Sans',sans-serif" fill="#000" >30000</text><line x1="678.96" y1="458" x2="678.96" y2="460.5" stroke="#000" stroke-width="0.9" /><text x="678.16" y="469.7" font-size="10.6" text-anchor="middle" font-family="'DejaVu Sans','Liberation Sans',sans-serif" fill="#000" >40000</text><line x1="727.3" y1="458" x2="727.3" y2="460.5" stroke="#000" stroke-width="0.9" /><text x="726.5" y="469.7" font-size="10.6" text-anchor="middle" font-family="'DejaVu Sans','Liberation Sans',sans-serif" fill="#000" >50000</text><text x="605.55" y="483.6" font-size="13" text-anchor="middle" font-family="'DejaVu Sans','Liberation Sans',sans-serif" fill="#000" >Optimizer steps</text><line x1="471" y1="448.4" x2="473.5" y2="448.4" stroke="#000" stroke-width="0.9" /><text x="467.1" y="452.4" font-size="10.6" text-anchor="end" font-family="'DejaVu Sans','Liberation Sans',sans-serif" fill="#000" >0</text><line x1="471" y1="398.4" x2="473.5" y2="398.4" stroke="#000" stroke-width="0.9" /><text x="467.1" y="402.4" font-size="10.6" text-anchor="end" font-family="'DejaVu Sans','Liberation Sans',sans-serif" fill="#000" >50</text><line x1="471" y1="348.4" x2="473.5" y2="348.4" stroke="#000" stroke-width="0.9" /><text x="467.1" y="352.4" font-size="10.6" text-anchor="end" font-family="'DejaVu Sans','Liberation Sans',sans-serif" fill="#000" >100</text><line x1="471" y1="298.4" x2="473.5" y2="298.4" stroke="#000" stroke-width="0.9" /><text x="467.1" y="302.4" font-size="10.6" text-anchor="end" font-family="'DejaVu Sans','Liberation Sans',sans-serif" fill="#000" >150</text><line x1="471" y1="248.4" x2="473.5" y2="248.4" stroke="#000" stroke-width="0.9" /><text x="467.1" y="252.4" font-size="10.6" text-anchor="end" font-family="'DejaVu Sans','Liberation Sans',sans-serif" fill="#000" >200</text><line x1="471" y1="198.4" x2="473.5" y2="198.4" stroke="#000" stroke-width="0.9" /><text x="467.1" y="202.4" font-size="10.6" text-anchor="end" font-family="'DejaVu Sans','Liberation Sans',sans-serif" fill="#000" >250</text><text transform="translate(441.8,324.45) rotate(-90)" font-size="13.15" text-anchor="middle" font-family="'DejaVu Sans','Liberation Sans',sans-serif">Mean spectral norm</text>
<rect x="825.4" y="192.65" width="267.3" height="265.45" fill="none" stroke="#000" stroke-width="1.1"/><line x1="837.55" y1="458.1" x2="837.55" y2="460.6" stroke="#000" stroke-width="0.9" /><text x="836.75" y="469.8" font-size="10.6" text-anchor="middle" font-family="'DejaVu Sans','Liberation Sans',sans-serif" fill="#000" >0</text><line x1="886.16" y1="458.1" x2="886.16" y2="460.6" stroke="#000" stroke-width="0.9" /><text x="885.36" y="469.8" font-size="10.6" text-anchor="middle" font-family="'DejaVu Sans','Liberation Sans',sans-serif" fill="#000" >10000</text><line x1="934.77" y1="458.1" x2="934.77" y2="460.6" stroke="#000" stroke-width="0.9" /><text x="933.97" y="469.8" font-size="10.6" text-anchor="middle" font-family="'DejaVu Sans','Liberation Sans',sans-serif" fill="#000" >20000</text><line x1="983.38" y1="458.1" x2="983.38" y2="460.6" stroke="#000" stroke-width="0.9" /><text x="982.58" y="469.8" font-size="10.6" text-anchor="middle" font-family="'DejaVu Sans','Liberation Sans',sans-serif" fill="#000" >30000</text><line x1="1031.99" y1="458.1" x2="1031.99" y2="460.6" stroke="#000" stroke-width="0.9" /><text x="1031.19" y="469.8" font-size="10.6" text-anchor="middle" font-family="'DejaVu Sans','Liberation Sans',sans-serif" fill="#000" >40000</text><line x1="1080.6" y1="458.1" x2="1080.6" y2="460.6" stroke="#000" stroke-width="0.9" /><text x="1079.8" y="469.8" font-size="10.6" text-anchor="middle" font-family="'DejaVu Sans','Liberation Sans',sans-serif" fill="#000" >50000</text><text x="958.15" y="483.7" font-size="13" text-anchor="middle" font-family="'DejaVu Sans','Liberation Sans',sans-serif" fill="#000" >Optimizer steps</text><line x1="822.9" y1="192.65" x2="825.4" y2="192.65" stroke="#000" stroke-width="0.9" /><text x="819.8" y="195.05" font-size="10.6" text-anchor="end" font-family="'DejaVu Sans','Liberation Sans',sans-serif" fill="#000">10<tspan dy="-4" font-size="7.63">4</tspan></text><line x1="824" y1="239.04" x2="825.4" y2="239.04" stroke="#000" stroke-width="0.65" /><line x1="824" y1="227.35" x2="825.4" y2="227.35" stroke="#000" stroke-width="0.65" /><line x1="824" y1="219.06" x2="825.4" y2="219.06" stroke="#000" stroke-width="0.65" /><line x1="824" y1="212.63" x2="825.4" y2="212.63" stroke="#000" stroke-width="0.65" /><line x1="824" y1="207.37" x2="825.4" y2="207.37" stroke="#000" stroke-width="0.65" /><line x1="824" y1="202.93" x2="825.4" y2="202.93" stroke="#000" stroke-width="0.65" /><line x1="824" y1="199.08" x2="825.4" y2="199.08" stroke="#000" stroke-width="0.65" /><line x1="824" y1="195.69" x2="825.4" y2="195.69" stroke="#000" stroke-width="0.65" /><line x1="822.9" y1="259.01" x2="825.4" y2="259.01" stroke="#000" stroke-width="0.9" /><text x="819.8" y="261.41" font-size="10.6" text-anchor="end" font-family="'DejaVu Sans','Liberation Sans',sans-serif" fill="#000">10<tspan dy="-4" font-size="7.63">3</tspan></text><line x1="824" y1="305.4" x2="825.4" y2="305.4" stroke="#000" stroke-width="0.65" /><line x1="824" y1="293.71" x2="825.4" y2="293.71" stroke="#000" stroke-width="0.65" /><line x1="824" y1="285.42" x2="825.4" y2="285.42" stroke="#000" stroke-width="0.65" /><line x1="824" y1="278.99" x2="825.4" y2="278.99" stroke="#000" stroke-width="0.65" /><line x1="824" y1="273.73" x2="825.4" y2="273.73" stroke="#000" stroke-width="0.65" /><line x1="824" y1="269.29" x2="825.4" y2="269.29" stroke="#000" stroke-width="0.65" /><line x1="824" y1="265.44" x2="825.4" y2="265.44" stroke="#000" stroke-width="0.65" /><line x1="824" y1="262.05" x2="825.4" y2="262.05" stroke="#000" stroke-width="0.65" /><line x1="822.9" y1="325.38" x2="825.4" y2="325.38" stroke="#000" stroke-width="0.9" /><text x="819.8" y="327.77" font-size="10.6" text-anchor="end" font-family="'DejaVu Sans','Liberation Sans',sans-serif" fill="#000">10<tspan dy="-4" font-size="7.63">2</tspan></text><line x1="824" y1="371.76" x2="825.4" y2="371.76" stroke="#000" stroke-width="0.65" /><line x1="824" y1="360.07" x2="825.4" y2="360.07" stroke="#000" stroke-width="0.65" /><line x1="824" y1="351.78" x2="825.4" y2="351.78" stroke="#000" stroke-width="0.65" /><line x1="824" y1="345.35" x2="825.4" y2="345.35" stroke="#000" stroke-width="0.65" /><line x1="824" y1="340.1" x2="825.4" y2="340.1" stroke="#000" stroke-width="0.65" /><line x1="824" y1="335.65" x2="825.4" y2="335.65" stroke="#000" stroke-width="0.65" /><line x1="824" y1="331.81" x2="825.4" y2="331.81" stroke="#000" stroke-width="0.65" /><line x1="824" y1="328.41" x2="825.4" y2="328.41" stroke="#000" stroke-width="0.65" /><line x1="822.9" y1="391.74" x2="825.4" y2="391.74" stroke="#000" stroke-width="0.9" /><text x="819.8" y="394.14" font-size="10.6" text-anchor="end" font-family="'DejaVu Sans','Liberation Sans',sans-serif" fill="#000">10<tspan dy="-4" font-size="7.63">1</tspan></text><line x1="824" y1="438.12" x2="825.4" y2="438.12" stroke="#000" stroke-width="0.65" /><line x1="824" y1="426.44" x2="825.4" y2="426.44" stroke="#000" stroke-width="0.65" /><line x1="824" y1="418.15" x2="825.4" y2="418.15" stroke="#000" stroke-width="0.65" /><line x1="824" y1="411.71" x2="825.4" y2="411.71" stroke="#000" stroke-width="0.65" /><line x1="824" y1="406.46" x2="825.4" y2="406.46" stroke="#000" stroke-width="0.65" /><line x1="824" y1="402.02" x2="825.4" y2="402.02" stroke="#000" stroke-width="0.65" /><line x1="824" y1="398.17" x2="825.4" y2="398.17" stroke="#000" stroke-width="0.65" /><line x1="824" y1="394.77" x2="825.4" y2="394.77" stroke="#000" stroke-width="0.65" /><line x1="822.9" y1="458.1" x2="825.4" y2="458.1" stroke="#000" stroke-width="0.9" /><text x="819.8" y="460.5" font-size="10.6" text-anchor="end" font-family="'DejaVu Sans','Liberation Sans',sans-serif" fill="#000">10<tspan dy="-4" font-size="7.63">0</tspan></text><text transform="translate(795.8,324.07) rotate(-90)" font-size="13.15" text-anchor="middle" font-family="'DejaVu Sans','Liberation Sans',sans-serif">Mean stiffness ratio</text>
<text x="251.75" y="187.6" font-size="15.35" text-anchor="middle" font-family="'DejaVu Sans','Liberation Sans',sans-serif" fill="#000" >Baseline</text>
<text x="606.45" y="189.6" font-size="15.35" text-anchor="middle" font-family="'DejaVu Sans','Liberation Sans',sans-serif" fill="#000" >Baseline</text>
<text x="959.05" y="187.6" font-size="15.35" text-anchor="middle" font-family="'DejaVu Sans','Liberation Sans',sans-serif" fill="#000" >Baseline</text>
<rect x="100" y="502.5" width="303.5" height="31" rx="2" fill="#fff" stroke="#d4d4d4" stroke-width="1"/><line x1="103.2" y1="510.4" x2="122.8" y2="510.4" stroke="#1f77b4" stroke-width="1.25" /><text x="130" y="512.9" font-size="9.6" text-anchor="start" font-family="'DejaVu Sans','Liberation Sans',sans-serif" fill="#000" >NODE-RK2</text><line x1="103.2" y1="524.4" x2="122.8" y2="524.4" stroke="#ff7f0e" stroke-width="1.25" /><text x="130" y="526.9" font-size="9.6" text-anchor="start" font-family="'DejaVu Sans','Liberation Sans',sans-serif" fill="#000" >PHNN-JR-RK2</text><line x1="212" y1="510.4" x2="231.6" y2="510.4" stroke="#2ca02c" stroke-width="1.25" /><text x="239" y="512.9" font-size="9.6" text-anchor="start" font-family="'DejaVu Sans','Liberation Sans',sans-serif" fill="#000" >PHNN-JR-DG</text><line x1="212" y1="524.4" x2="231.6" y2="524.4" stroke="#d62728" stroke-width="1.25" /><text x="239" y="526.9" font-size="9.6" text-anchor="start" font-family="'DejaVu Sans','Liberation Sans',sans-serif" fill="#000" >PHNN-S-RK2</text><line x1="317.4" y1="510.4" x2="337" y2="510.4" stroke="#9467bd" stroke-width="1.25" /><text x="343.6" y="512.9" font-size="9.6" text-anchor="start" font-family="'DejaVu Sans','Liberation Sans',sans-serif" fill="#000" >PHNN-S-DG</text>
<rect x="454.4" y="502.5" width="303.5" height="31" rx="2" fill="#fff" stroke="#d4d4d4" stroke-width="1"/><line x1="457.6" y1="510.4" x2="477.2" y2="510.4" stroke="#1f77b4" stroke-width="1.25" /><text x="484.4" y="512.9" font-size="9.6" text-anchor="start" font-family="'DejaVu Sans','Liberation Sans',sans-serif" fill="#000" >NODE-RK2</text><line x1="457.6" y1="524.4" x2="477.2" y2="524.4" stroke="#ff7f0e" stroke-width="1.25" /><text x="484.4" y="526.9" font-size="9.6" text-anchor="start" font-family="'DejaVu Sans','Liberation Sans',sans-serif" fill="#000" >PHNN-JR-RK2</text><line x1="566.4" y1="510.4" x2="586" y2="510.4" stroke="#2ca02c" stroke-width="1.25" /><text x="593.4" y="512.9" font-size="9.6" text-anchor="start" font-family="'DejaVu Sans','Liberation Sans',sans-serif" fill="#000" >PHNN-JR-DG</text><line x1="566.4" y1="524.4" x2="586" y2="524.4" stroke="#d62728" stroke-width="1.25" /><text x="593.4" y="526.9" font-size="9.6" text-anchor="start" font-family="'DejaVu Sans','Liberation Sans',sans-serif" fill="#000" >PHNN-S-RK2</text><line x1="671.8" y1="510.4" x2="691.4" y2="510.4" stroke="#9467bd" stroke-width="1.25" /><text x="698" y="512.9" font-size="9.6" text-anchor="start" font-family="'DejaVu Sans','Liberation Sans',sans-serif" fill="#000" >PHNN-S-DG</text>
<rect x="807.3" y="502.5" width="303.5" height="31" rx="2" fill="#fff" stroke="#d4d4d4" stroke-width="1"/><line x1="810.5" y1="510.4" x2="830.1" y2="510.4" stroke="#1f77b4" stroke-width="1.25" /><text x="837.3" y="512.9" font-size="9.6" text-anchor="start" font-family="'DejaVu Sans','Liberation Sans',sans-serif" fill="#000" >NODE-RK2</text><line x1="810.5" y1="524.4" x2="830.1" y2="524.4" stroke="#ff7f0e" stroke-width="1.25" /><text x="837.3" y="526.9" font-size="9.6" text-anchor="start" font-family="'DejaVu Sans','Liberation Sans',sans-serif" fill="#000" >PHNN-JR-RK2</text><line x1="919.3" y1="510.4" x2="938.9" y2="510.4" stroke="#2ca02c" stroke-width="1.25" /><text x="946.3" y="512.9" font-size="9.6" text-anchor="start" font-family="'DejaVu Sans','Liberation Sans',sans-serif" fill="#000" >PHNN-JR-DG</text><line x1="919.3" y1="524.4" x2="938.9" y2="524.4" stroke="#d62728" stroke-width="1.25" /><text x="946.3" y="526.9" font-size="9.6" text-anchor="start" font-family="'DejaVu Sans','Liberation Sans',sans-serif" fill="#000" >PHNN-S-RK2</text><line x1="1024.7" y1="510.4" x2="1044.3" y2="510.4" stroke="#9467bd" stroke-width="1.25" /><text x="1050.9" y="512.9" font-size="9.6" text-anchor="start" font-family="'DejaVu Sans','Liberation Sans',sans-serif" fill="#000" >PHNN-S-DG</text>
<defs>
<clipPath id="bc0"><rect x="140.7" y="723.4" width="276.9" height="290.1"/></clipPath>
<clipPath id="bc1"><rect x="483.6" y="723.4" width="277.1" height="290.1"/></clipPath>
<clipPath id="bc2"><rect x="826.5" y="723.4" width="277.1" height="290.1"/></clipPath>
</defs>
<g clip-path="url(#bc0)"><line x1="153.16" y1="849.7" x2="153.16" y2="850.2" stroke="#343434" stroke-width="1.2" /><line x1="153.16" y1="862.5" x2="153.16" y2="868.4" stroke="#343434" stroke-width="1.2" /><rect x="147.62" y="850.2" width="11.08" height="12.3" fill="#3274a1" stroke="#343434" stroke-width="1.2"/><line x1="147.62" y1="856.8" x2="158.7" y2="856.8" stroke="#343434" stroke-width="1.2" /><line x1="150.39" y1="849.7" x2="155.93" y2="849.7" stroke="#343434" stroke-width="1.2" stroke-linecap="square"/><line x1="150.39" y1="868.4" x2="155.93" y2="868.4" stroke="#343434" stroke-width="1.2" stroke-linecap="square"/><line x1="164.24" y1="897.4" x2="164.24" y2="907.5" stroke="#343434" stroke-width="1.2" /><line x1="164.24" y1="931.5" x2="164.24" y2="936.4" stroke="#343434" stroke-width="1.2" /><rect x="158.7" y="907.5" width="11.08" height="24" fill="#e1812c" stroke="#343434" stroke-width="1.2"/><line x1="158.7" y1="914.3" x2="169.77" y2="914.3" stroke="#343434" stroke-width="1.2" /><line x1="161.47" y1="897.4" x2="167.01" y2="897.4" stroke="#343434" stroke-width="1.2" stroke-linecap="square"/><line x1="161.47" y1="936.4" x2="167.01" y2="936.4" stroke="#343434" stroke-width="1.2" stroke-linecap="square"/><line x1="175.31" y1="918.4" x2="175.31" y2="918.4" stroke="#343434" stroke-width="1.2" /><line x1="175.31" y1="929.8" x2="175.31" y2="944.3" stroke="#343434" stroke-width="1.2" /><rect x="169.77" y="918.4" width="11.08" height="11.4" fill="#3a923a" stroke="#343434" stroke-width="1.2"/><line x1="169.77" y1="924" x2="180.85" y2="924" stroke="#343434" stroke-width="1.2" /><line x1="172.54" y1="918.4" x2="178.08" y2="918.4" stroke="#343434" stroke-width="1.2" stroke-linecap="square"/><line x1="172.54" y1="944.3" x2="178.08" y2="944.3" stroke="#343434" stroke-width="1.2" stroke-linecap="square"/><circle cx="175.31" cy="883.4" r="3.0" fill="none" stroke="#343434" stroke-width="1.2"/><circle cx="175.31" cy="904" r="3.0" fill="none" stroke="#343434" stroke-width="1.2"/><line x1="186.39" y1="929.5" x2="186.39" y2="929.8" stroke="#343434" stroke-width="1.2" /><line x1="186.39" y1="951.3" x2="186.39" y2="955.3" stroke="#343434" stroke-width="1.2" /><rect x="180.85" y="929.8" width="11.08" height="21.5" fill="#c03d3e" stroke="#343434" stroke-width="1.2"/><line x1="180.85" y1="937.1" x2="191.93" y2="937.1" stroke="#343434" stroke-width="1.2" /><line x1="183.62" y1="929.5" x2="189.16" y2="929.5" stroke="#343434" stroke-width="1.2" stroke-linecap="square"/><line x1="183.62" y1="955.3" x2="189.16" y2="955.3" stroke="#343434" stroke-width="1.2" stroke-linecap="square"/><circle cx="186.39" cy="908.1" r="3.0" fill="none" stroke="#343434" stroke-width="1.2"/><circle cx="186.39" cy="919.5" r="3.0" fill="none" stroke="#343434" stroke-width="1.2"/><line x1="197.46" y1="905.5" x2="197.46" y2="916.3" stroke="#343434" stroke-width="1.2" /><line x1="197.46" y1="964.5" x2="197.46" y2="975.4" stroke="#343434" stroke-width="1.2" /><rect x="191.93" y="916.3" width="11.08" height="48.2" fill="#9372b2" stroke="#343434" stroke-width="1.2"/><line x1="191.93" y1="935.4" x2="203" y2="935.4" stroke="#343434" stroke-width="1.2" /><line x1="194.7" y1="905.5" x2="200.23" y2="905.5" stroke="#343434" stroke-width="1.2" stroke-linecap="square"/><line x1="194.7" y1="975.4" x2="200.23" y2="975.4" stroke="#343434" stroke-width="1.2" stroke-linecap="square"/><circle cx="197.46" cy="759.3" r="3.0" fill="none" stroke="#343434" stroke-width="1.2"/><line x1="222.39" y1="801.3" x2="222.39" y2="803.2" stroke="#343434" stroke-width="1.2" /><line x1="222.39" y1="859.4" x2="222.39" y2="875.3" stroke="#343434" stroke-width="1.2" /><rect x="216.85" y="803.2" width="11.08" height="56.2" fill="#3274a1" stroke="#343434" stroke-width="1.2"/><line x1="216.85" y1="842.3" x2="227.92" y2="842.3" stroke="#343434" stroke-width="1.2" /><line x1="219.62" y1="801.3" x2="225.15" y2="801.3" stroke="#343434" stroke-width="1.2" stroke-linecap="square"/><line x1="219.62" y1="875.3" x2="225.15" y2="875.3" stroke="#343434" stroke-width="1.2" stroke-linecap="square"/><circle cx="222.39" cy="743.8" r="3.0" fill="none" stroke="#343434" stroke-width="1.2"/><circle cx="222.39" cy="763.1" r="3.0" fill="none" stroke="#343434" stroke-width="1.2"/><line x1="233.46" y1="899.5" x2="233.46" y2="908.5" stroke="#343434" stroke-width="1.2" /><line x1="233.46" y1="928.4" x2="233.46" y2="939.9" stroke="#343434" stroke-width="1.2" /><rect x="227.92" y="908.5" width="11.08" height="19.9" fill="#e1812c" stroke="#343434" stroke-width="1.2"/><line x1="227.92" y1="916.3" x2="239" y2="916.3" stroke="#343434" stroke-width="1.2" /><line x1="230.69" y1="899.5" x2="236.23" y2="899.5" stroke="#343434" stroke-width="1.2" stroke-linecap="square"/><line x1="230.69" y1="939.9" x2="236.23" y2="939.9" stroke="#343434" stroke-width="1.2" stroke-linecap="square"/><line x1="244.54" y1="900.6" x2="244.54" y2="901.3" stroke="#343434" stroke-width="1.2" /><line x1="244.54" y1="924.3" x2="244.54" y2="939.3" stroke="#343434" stroke-width="1.2" /><rect x="239" y="901.3" width="11.08" height="23" fill="#3a923a" stroke="#343434" stroke-width="1.2"/><line x1="239" y1="921" x2="250.08" y2="921" stroke="#343434" stroke-width="1.2" /><line x1="241.77" y1="900.6" x2="247.31" y2="900.6" stroke="#343434" stroke-width="1.2" stroke-linecap="square"/><line x1="241.77" y1="939.3" x2="247.31" y2="939.3" stroke="#343434" stroke-width="1.2" stroke-linecap="square"/><circle cx="244.54" cy="864.5" r="3.0" fill="none" stroke="#343434" stroke-width="1.2"/><line x1="255.61" y1="927.4" x2="255.61" y2="932.4" stroke="#343434" stroke-width="1.2" /><line x1="255.61" y1="946.5" x2="255.61" y2="961.2" stroke="#343434" stroke-width="1.2" /><rect x="250.08" y="932.4" width="11.08" height="14.1" fill="#c03d3e" stroke="#343434" stroke-width="1.2"/><line x1="250.08" y1="938.3" x2="261.15" y2="938.3" stroke="#343434" stroke-width="1.2" /><line x1="252.84" y1="927.4" x2="258.38" y2="927.4" stroke="#343434" stroke-width="1.2" stroke-linecap="square"/><line x1="252.84" y1="961.2" x2="258.38" y2="961.2" stroke="#343434" stroke-width="1.2" stroke-linecap="square"/><circle cx="255.61" cy="909.9" r="3.0" fill="none" stroke="#343434" stroke-width="1.2"/><line x1="266.69" y1="929.5" x2="266.69" y2="932.4" stroke="#343434" stroke-width="1.2" /><line x1="266.69" y1="963.5" x2="266.69" y2="972.4" stroke="#343434" stroke-width="1.2" /><rect x="261.15" y="932.4" width="11.08" height="31.1" fill="#9372b2" stroke="#343434" stroke-width="1.2"/><line x1="261.15" y1="953.3" x2="272.23" y2="953.3" stroke="#343434" stroke-width="1.2" /><line x1="263.92" y1="929.5" x2="269.46" y2="929.5" stroke="#343434" stroke-width="1.2" stroke-linecap="square"/><line x1="263.92" y1="972.4" x2="269.46" y2="972.4" stroke="#343434" stroke-width="1.2" stroke-linecap="square"/><circle cx="266.69" cy="920.6" r="3.0" fill="none" stroke="#343434" stroke-width="1.2"/><line x1="291.61" y1="849.6" x2="291.61" y2="850.2" stroke="#343434" stroke-width="1.2" /><line x1="291.61" y1="862.5" x2="291.61" y2="868.3" stroke="#343434" stroke-width="1.2" /><rect x="286.07" y="850.2" width="11.08" height="12.3" fill="#3274a1" stroke="#343434" stroke-width="1.2"/><line x1="286.07" y1="856.8" x2="297.15" y2="856.8" stroke="#343434" stroke-width="1.2" /><line x1="288.84" y1="849.6" x2="294.38" y2="849.6" stroke="#343434" stroke-width="1.2" stroke-linecap="square"/><line x1="288.84" y1="868.3" x2="294.38" y2="868.3" stroke="#343434" stroke-width="1.2" stroke-linecap="square"/><line x1="302.69" y1="908.5" x2="302.69" y2="909.5" stroke="#343434" stroke-width="1.2" /><line x1="302.69" y1="933.5" x2="302.69" y2="938.3" stroke="#343434" stroke-width="1.2" /><rect x="297.15" y="909.5" width="11.08" height="24" fill="#e1812c" stroke="#343434" stroke-width="1.2"/><line x1="297.15" y1="917.3" x2="308.22" y2="917.3" stroke="#343434" stroke-width="1.2" /><line x1="299.92" y1="908.5" x2="305.46" y2="908.5" stroke="#343434" stroke-width="1.2" stroke-linecap="square"/><line x1="299.92" y1="938.3" x2="305.46" y2="938.3" stroke="#343434" stroke-width="1.2" stroke-linecap="square"/><circle cx="302.69" cy="896.5" r="3.0" fill="none" stroke="#343434" stroke-width="1.2"/><line x1="313.76" y1="921.4" x2="313.76" y2="921.4" stroke="#343434" stroke-width="1.2" /><line x1="313.76" y1="934.4" x2="313.76" y2="940.2" stroke="#343434" stroke-width="1.2" /><rect x="308.22" y="921.4" width="11.08" height="13" fill="#3a923a" stroke="#343434" stroke-width="1.2"/><line x1="308.22" y1="930.5" x2="319.3" y2="930.5" stroke="#343434" stroke-width="1.2" /><line x1="310.99" y1="921.4" x2="316.53" y2="921.4" stroke="#343434" stroke-width="1.2" stroke-linecap="square"/><line x1="310.99" y1="940.2" x2="316.53" y2="940.2" stroke="#343434" stroke-width="1.2" stroke-linecap="square"/><circle cx="313.76" cy="900.1" r="3.0" fill="none" stroke="#343434" stroke-width="1.2"/><circle cx="313.76" cy="903.8" r="3.0" fill="none" stroke="#343434" stroke-width="1.2"/><line x1="324.84" y1="919.4" x2="324.84" y2="928.4" stroke="#343434" stroke-width="1.2" /><line x1="324.84" y1="949.6" x2="324.84" y2="952.2" stroke="#343434" stroke-width="1.2" /><rect x="319.3" y="928.4" width="11.08" height="21.2" fill="#c03d3e" stroke="#343434" stroke-width="1.2"/><line x1="319.3" y1="939.5" x2="330.38" y2="939.5" stroke="#343434" stroke-width="1.2" /><line x1="322.07" y1="919.4" x2="327.61" y2="919.4" stroke="#343434" stroke-width="1.2" stroke-linecap="square"/><line x1="322.07" y1="952.2" x2="327.61" y2="952.2" stroke="#343434" stroke-width="1.2" stroke-linecap="square"/><circle cx="324.84" cy="910.7" r="3.0" fill="none" stroke="#343434" stroke-width="1.2"/><line x1="335.91" y1="906.6" x2="335.91" y2="917.5" stroke="#343434" stroke-width="1.2" /><line x1="335.91" y1="963.5" x2="335.91" y2="989.3" stroke="#343434" stroke-width="1.2" /><rect x="330.38" y="917.5" width="11.08" height="46" fill="#9372b2" stroke="#343434" stroke-width="1.2"/><line x1="330.38" y1="933.4" x2="341.45" y2="933.4" stroke="#343434" stroke-width="1.2" /><line x1="333.15" y1="906.6" x2="338.68" y2="906.6" stroke="#343434" stroke-width="1.2" stroke-linecap="square"/><line x1="333.15" y1="989.3" x2="338.68" y2="989.3" stroke="#343434" stroke-width="1.2" stroke-linecap="square"/><circle cx="335.91" cy="733.9" r="3.0" fill="none" stroke="#343434" stroke-width="1.2"/><line x1="360.84" y1="841.5" x2="360.84" y2="843.3" stroke="#343434" stroke-width="1.2" /><line x1="360.84" y1="863.5" x2="360.84" y2="875.2" stroke="#343434" stroke-width="1.2" /><rect x="355.3" y="843.3" width="11.08" height="20.2" fill="#3274a1" stroke="#343434" stroke-width="1.2"/><line x1="355.3" y1="856.8" x2="366.37" y2="856.8" stroke="#343434" stroke-width="1.2" /><line x1="358.07" y1="841.5" x2="363.6" y2="841.5" stroke="#343434" stroke-width="1.2" stroke-linecap="square"/><line x1="358.07" y1="875.2" x2="363.6" y2="875.2" stroke="#343434" stroke-width="1.2" stroke-linecap="square"/><circle cx="360.84" cy="756.5" r="3.0" fill="none" stroke="#343434" stroke-width="1.2"/><circle cx="360.84" cy="796.9" r="3.0" fill="none" stroke="#343434" stroke-width="1.2"/><line x1="371.91" y1="900.1" x2="371.91" y2="908.5" stroke="#343434" stroke-width="1.2" /><line x1="371.91" y1="929.4" x2="371.91" y2="938.3" stroke="#343434" stroke-width="1.2" /><rect x="366.37" y="908.5" width="11.08" height="20.9" fill="#e1812c" stroke="#343434" stroke-width="1.2"/><line x1="366.37" y1="915.2" x2="377.45" y2="915.2" stroke="#343434" stroke-width="1.2" /><line x1="369.14" y1="900.1" x2="374.68" y2="900.1" stroke="#343434" stroke-width="1.2" stroke-linecap="square"/><line x1="369.14" y1="938.3" x2="374.68" y2="938.3" stroke="#343434" stroke-width="1.2" stroke-linecap="square"/><circle cx="371.91" cy="870.9" r="3.0" fill="none" stroke="#343434" stroke-width="1.2"/><line x1="382.99" y1="914.4" x2="382.99" y2="916.6" stroke="#343434" stroke-width="1.2" /><line x1="382.99" y1="929.4" x2="382.99" y2="940.3" stroke="#343434" stroke-width="1.2" /><rect x="377.45" y="916.6" width="11.08" height="12.8" fill="#3a923a" stroke="#343434" stroke-width="1.2"/><line x1="377.45" y1="923.6" x2="388.53" y2="923.6" stroke="#343434" stroke-width="1.2" /><line x1="380.22" y1="914.4" x2="385.76" y2="914.4" stroke="#343434" stroke-width="1.2" stroke-linecap="square"/><line x1="380.22" y1="940.3" x2="385.76" y2="940.3" stroke="#343434" stroke-width="1.2" stroke-linecap="square"/><circle cx="382.99" cy="861.2" r="3.0" fill="none" stroke="#343434" stroke-width="1.2"/><circle cx="382.99" cy="904.1" r="3.0" fill="none" stroke="#343434" stroke-width="1.2"/><line x1="394.06" y1="907.5" x2="394.06" y2="909.9" stroke="#343434" stroke-width="1.2" /><line x1="394.06" y1="933.4" x2="394.06" y2="956.4" stroke="#343434" stroke-width="1.2" /><rect x="388.53" y="909.9" width="11.08" height="23.5" fill="#c03d3e" stroke="#343434" stroke-width="1.2"/><line x1="388.53" y1="924.3" x2="399.6" y2="924.3" stroke="#343434" stroke-width="1.2" /><line x1="391.29" y1="907.5" x2="396.83" y2="907.5" stroke="#343434" stroke-width="1.2" stroke-linecap="square"/><line x1="391.29" y1="956.4" x2="396.83" y2="956.4" stroke="#343434" stroke-width="1.2" stroke-linecap="square"/><circle cx="394.06" cy="789.5" r="3.0" fill="none" stroke="#343434" stroke-width="1.2"/><circle cx="394.06" cy="883.6" r="3.0" fill="none" stroke="#343434" stroke-width="1.2"/><line x1="405.14" y1="901.3" x2="405.14" y2="904.3" stroke="#343434" stroke-width="1.2" /><line x1="405.14" y1="945.5" x2="405.14" y2="970.2" stroke="#343434" stroke-width="1.2" /><rect x="399.6" y="904.3" width="11.08" height="41.2" fill="#9372b2" stroke="#343434" stroke-width="1.2"/><line x1="399.6" y1="941.1" x2="410.68" y2="941.1" stroke="#343434" stroke-width="1.2" /><line x1="402.37" y1="901.3" x2="407.91" y2="901.3" stroke="#343434" stroke-width="1.2" stroke-linecap="square"/><line x1="402.37" y1="970.2" x2="407.91" y2="970.2" stroke="#343434" stroke-width="1.2" stroke-linecap="square"/><circle cx="405.14" cy="767.1" r="3.0" fill="none" stroke="#343434" stroke-width="1.2"/><circle cx="405.14" cy="889.4" r="3.0" fill="none" stroke="#343434" stroke-width="1.2"/></g>
<rect x="140.7" y="723.4" width="276.9" height="290.1" fill="none" stroke="#000" stroke-width="1.05"/>
<line x1="136.8" y1="723.4" x2="140.7" y2="723.4" stroke="#000" stroke-width="0.9" />
<text x="131.8" y="727.3" font-size="11.07" text-anchor="end" font-family="'DejaVu Sans','Liberation Sans',sans-serif" fill="#000">10<tspan dy="-5.3" font-size="7.75">3</tspan></text>
<line x1="136.8" y1="781.42" x2="140.7" y2="781.42" stroke="#000" stroke-width="0.9" />
<text x="131.8" y="785.32" font-size="11.07" text-anchor="end" font-family="'DejaVu Sans','Liberation Sans',sans-serif" fill="#000">10<tspan dy="-5.3" font-size="7.75">1</tspan></text>
<line x1="136.8" y1="839.44" x2="140.7" y2="839.44" stroke="#000" stroke-width="0.9" />
<text x="131.8" y="843.34" font-size="11.07" text-anchor="end" font-family="'DejaVu Sans','Liberation Sans',sans-serif" fill="#000">10<tspan dy="-5.3" font-size="7.75">−1</tspan></text>
<line x1="136.8" y1="897.46" x2="140.7" y2="897.46" stroke="#000" stroke-width="0.9" />
<text x="131.8" y="901.36" font-size="11.07" text-anchor="end" font-family="'DejaVu Sans','Liberation Sans',sans-serif" fill="#000">10<tspan dy="-5.3" font-size="7.75">−3</tspan></text>
<line x1="136.8" y1="955.48" x2="140.7" y2="955.48" stroke="#000" stroke-width="0.9" />
<text x="131.8" y="959.38" font-size="11.07" text-anchor="end" font-family="'DejaVu Sans','Liberation Sans',sans-serif" fill="#000">10<tspan dy="-5.3" font-size="7.75">−5</tspan></text>
<line x1="136.8" y1="1013.5" x2="140.7" y2="1013.5" stroke="#000" stroke-width="0.9" />
<text x="131.8" y="1017.4" font-size="11.07" text-anchor="end" font-family="'DejaVu Sans','Liberation Sans',sans-serif" fill="#000">10<tspan dy="-5.3" font-size="7.75">−7</tspan></text>
<line x1="175.31" y1="1013.5" x2="175.31" y2="1017.4" stroke="#000" stroke-width="0.9" />
<text transform="translate(175.01,1027.2) rotate(-15)" font-size="11.07" text-anchor="middle" font-family="'DejaVu Sans','Liberation Sans',sans-serif" y="4">BL</text>
<line x1="244.54" y1="1013.5" x2="244.54" y2="1017.4" stroke="#000" stroke-width="0.9" />
<text transform="translate(244.24,1027.2) rotate(-15)" font-size="11.07" text-anchor="middle" font-family="'DejaVu Sans','Liberation Sans',sans-serif" y="4">CN</text>
<line x1="313.76" y1="1013.5" x2="313.76" y2="1017.4" stroke="#000" stroke-width="0.9" />
<text transform="translate(313.46,1027.2) rotate(-15)" font-size="11.07" text-anchor="middle" font-family="'DejaVu Sans','Liberation Sans',sans-serif" y="4">SN</text>
<line x1="382.99" y1="1013.5" x2="382.99" y2="1017.4" stroke="#000" stroke-width="0.9" />
<text transform="translate(382.69,1027.2) rotate(-15)" font-size="11.07" text-anchor="middle" font-family="'DejaVu Sans','Liberation Sans',sans-serif" y="4">SR</text>
<text x="279.15" y="1047.6" font-size="11.07" text-anchor="middle" font-family="'DejaVu Sans','Liberation Sans',sans-serif" fill="#000" >normalization</text>
<text x="278.65" y="715.6" font-size="13.3" text-anchor="middle" font-family="'DejaVu Sans','Liberation Sans',sans-serif" fill="#000" >Harmonic oscillator</text>
<text transform="translate(97.5,868.8) rotate(-90)" font-size="11.07" text-anchor="middle" font-family="'DejaVu Sans','Liberation Sans',sans-serif" font-style="italic">ℒ<tspan font-size="7.75" dy="1.8" font-style="normal">traj</tspan></text>
<g clip-path="url(#bc1)"><line x1="496.07" y1="803.4" x2="496.07" y2="807.3" stroke="#343434" stroke-width="1.2" /><line x1="496.07" y1="831.3" x2="496.07" y2="845.3" stroke="#343434" stroke-width="1.2" /><rect x="490.53" y="807.3" width="11.08" height="24" fill="#3274a1" stroke="#343434" stroke-width="1.2"/><line x1="490.53" y1="821" x2="501.61" y2="821" stroke="#343434" stroke-width="1.2" /><line x1="493.3" y1="803.4" x2="498.84" y2="803.4" stroke="#343434" stroke-width="1.2" stroke-linecap="square"/><line x1="493.3" y1="845.3" x2="498.84" y2="845.3" stroke="#343434" stroke-width="1.2" stroke-linecap="square"/><circle cx="496.07" cy="788.4" r="3.0" fill="none" stroke="#343434" stroke-width="1.2"/><line x1="507.15" y1="801.9" x2="507.15" y2="804.3" stroke="#343434" stroke-width="1.2" /><line x1="507.15" y1="822.4" x2="507.15" y2="844.3" stroke="#343434" stroke-width="1.2" /><rect x="501.61" y="804.3" width="11.08" height="18.1" fill="#e1812c" stroke="#343434" stroke-width="1.2"/><line x1="501.61" y1="820.8" x2="512.7" y2="820.8" stroke="#343434" stroke-width="1.2" /><line x1="504.38" y1="801.9" x2="509.92" y2="801.9" stroke="#343434" stroke-width="1.2" stroke-linecap="square"/><line x1="504.38" y1="844.3" x2="509.92" y2="844.3" stroke="#343434" stroke-width="1.2" stroke-linecap="square"/><circle cx="507.15" cy="747" r="3.0" fill="none" stroke="#343434" stroke-width="1.2"/><circle cx="507.15" cy="748.8" r="3.0" fill="none" stroke="#343434" stroke-width="1.2"/><line x1="518.24" y1="793.6" x2="518.24" y2="795.5" stroke="#343434" stroke-width="1.2" /><line x1="518.24" y1="830.4" x2="518.24" y2="850.3" stroke="#343434" stroke-width="1.2" /><rect x="512.7" y="795.5" width="11.08" height="34.9" fill="#3a923a" stroke="#343434" stroke-width="1.2"/><line x1="512.7" y1="816.7" x2="523.78" y2="816.7" stroke="#343434" stroke-width="1.2" /><line x1="515.47" y1="793.6" x2="521.01" y2="793.6" stroke="#343434" stroke-width="1.2" stroke-linecap="square"/><line x1="515.47" y1="850.3" x2="521.01" y2="850.3" stroke="#343434" stroke-width="1.2" stroke-linecap="square"/><circle cx="518.24" cy="744" r="3.0" fill="none" stroke="#343434" stroke-width="1.2"/><circle cx="518.24" cy="773.4" r="3.0" fill="none" stroke="#343434" stroke-width="1.2"/><line x1="529.32" y1="787.8" x2="529.32" y2="791.3" stroke="#343434" stroke-width="1.2" /><line x1="529.32" y1="848.4" x2="529.32" y2="867.5" stroke="#343434" stroke-width="1.2" /><rect x="523.78" y="791.3" width="11.08" height="57.1" fill="#c03d3e" stroke="#343434" stroke-width="1.2"/><line x1="523.78" y1="843.3" x2="534.86" y2="843.3" stroke="#343434" stroke-width="1.2" /><line x1="526.55" y1="787.8" x2="532.09" y2="787.8" stroke="#343434" stroke-width="1.2" stroke-linecap="square"/><line x1="526.55" y1="867.5" x2="532.09" y2="867.5" stroke="#343434" stroke-width="1.2" stroke-linecap="square"/><circle cx="529.32" cy="753.6" r="3.0" fill="none" stroke="#343434" stroke-width="1.2"/><circle cx="529.32" cy="754.6" r="3.0" fill="none" stroke="#343434" stroke-width="1.2"/><line x1="540.41" y1="787.5" x2="540.41" y2="790.5" stroke="#343434" stroke-width="1.2" /><line x1="540.41" y1="846.3" x2="540.41" y2="853.4" stroke="#343434" stroke-width="1.2" /><rect x="534.86" y="790.5" width="11.08" height="55.8" fill="#9372b2" stroke="#343434" stroke-width="1.2"/><line x1="534.86" y1="840.4" x2="545.95" y2="840.4" stroke="#343434" stroke-width="1.2" /><line x1="537.63" y1="787.5" x2="543.18" y2="787.5" stroke="#343434" stroke-width="1.2" stroke-linecap="square"/><line x1="537.63" y1="853.4" x2="543.18" y2="853.4" stroke="#343434" stroke-width="1.2" stroke-linecap="square"/><circle cx="540.41" cy="744.7" r="3.0" fill="none" stroke="#343434" stroke-width="1.2"/><circle cx="540.41" cy="723.5" r="3.0" fill="none" stroke="#343434" stroke-width="1.2"/><line x1="565.34" y1="761.3" x2="565.34" y2="761.3" stroke="#343434" stroke-width="1.2" /><line x1="565.34" y1="812.4" x2="565.34" y2="844.3" stroke="#343434" stroke-width="1.2" /><rect x="559.8" y="761.3" width="11.08" height="51.1" fill="#3274a1" stroke="#343434" stroke-width="1.2"/><line x1="559.8" y1="781.2" x2="570.89" y2="781.2" stroke="#343434" stroke-width="1.2" /><line x1="562.57" y1="761.3" x2="568.12" y2="761.3" stroke="#343434" stroke-width="1.2" stroke-linecap="square"/><line x1="562.57" y1="844.3" x2="568.12" y2="844.3" stroke="#343434" stroke-width="1.2" stroke-linecap="square"/><circle cx="565.34" cy="734.3" r="3.0" fill="none" stroke="#343434" stroke-width="1.2"/><circle cx="565.34" cy="722.8" r="3.0" fill="none" stroke="#343434" stroke-width="1.2"/><line x1="576.43" y1="757.6" x2="576.43" y2="759.3" stroke="#343434" stroke-width="1.2" /><line x1="576.43" y1="834.3" x2="576.43" y2="837.2" stroke="#343434" stroke-width="1.2" /><rect x="570.89" y="759.3" width="11.08" height="75" fill="#e1812c" stroke="#343434" stroke-width="1.2"/><line x1="570.89" y1="786.4" x2="581.97" y2="786.4" stroke="#343434" stroke-width="1.2" /><line x1="573.66" y1="757.6" x2="579.2" y2="757.6" stroke="#343434" stroke-width="1.2" stroke-linecap="square"/><line x1="573.66" y1="837.2" x2="579.2" y2="837.2" stroke="#343434" stroke-width="1.2" stroke-linecap="square"/><circle cx="576.43" cy="742.1" r="3.0" fill="none" stroke="#343434" stroke-width="1.2"/><line x1="587.51" y1="760.9" x2="587.51" y2="770.5" stroke="#343434" stroke-width="1.2" /><line x1="587.51" y1="828.3" x2="587.51" y2="842.4" stroke="#343434" stroke-width="1.2" /><rect x="581.97" y="770.5" width="11.08" height="57.8" fill="#3a923a" stroke="#343434" stroke-width="1.2"/><line x1="581.97" y1="797.2" x2="593.05" y2="797.2" stroke="#343434" stroke-width="1.2" /><line x1="584.74" y1="760.9" x2="590.28" y2="760.9" stroke="#343434" stroke-width="1.2" stroke-linecap="square"/><line x1="584.74" y1="842.4" x2="590.28" y2="842.4" stroke="#343434" stroke-width="1.2" stroke-linecap="square"/><circle cx="587.51" cy="746.7" r="3.0" fill="none" stroke="#343434" stroke-width="1.2"/><line x1="598.6" y1="836.5" x2="598.6" y2="837.2" stroke="#343434" stroke-width="1.2" /><line x1="598.6" y1="856.4" x2="598.6" y2="876.5" stroke="#343434" stroke-width="1.2" /><rect x="593.05" y="837.2" width="11.08" height="19.2" fill="#c03d3e" stroke="#343434" stroke-width="1.2"/><line x1="593.05" y1="847.1" x2="604.14" y2="847.1" stroke="#343434" stroke-width="1.2" /><line x1="595.83" y1="836.5" x2="601.37" y2="836.5" stroke="#343434" stroke-width="1.2" stroke-linecap="square"/><line x1="595.83" y1="876.5" x2="601.37" y2="876.5" stroke="#343434" stroke-width="1.2" stroke-linecap="square"/><circle cx="598.6" cy="730.6" r="3.0" fill="none" stroke="#343434" stroke-width="1.2"/><line x1="609.68" y1="834.4" x2="609.68" y2="838.4" stroke="#343434" stroke-width="1.2" /><line x1="609.68" y1="847.2" x2="609.68" y2="865.4" stroke="#343434" stroke-width="1.2" /><rect x="604.14" y="838.4" width="11.08" height="8.8" fill="#9372b2" stroke="#343434" stroke-width="1.2"/><line x1="604.14" y1="844.1" x2="615.22" y2="844.1" stroke="#343434" stroke-width="1.2" /><line x1="606.91" y1="834.4" x2="612.45" y2="834.4" stroke="#343434" stroke-width="1.2" stroke-linecap="square"/><line x1="606.91" y1="865.4" x2="612.45" y2="865.4" stroke="#343434" stroke-width="1.2" stroke-linecap="square"/><line x1="634.62" y1="804.3" x2="634.62" y2="808.3" stroke="#343434" stroke-width="1.2" /><line x1="634.62" y1="832.4" x2="634.62" y2="845.3" stroke="#343434" stroke-width="1.2" /><rect x="629.08" y="808.3" width="11.08" height="24.1" fill="#3274a1" stroke="#343434" stroke-width="1.2"/><line x1="629.08" y1="817.1" x2="640.16" y2="817.1" stroke="#343434" stroke-width="1.2" /><line x1="631.85" y1="804.3" x2="637.39" y2="804.3" stroke="#343434" stroke-width="1.2" stroke-linecap="square"/><line x1="631.85" y1="845.3" x2="637.39" y2="845.3" stroke="#343434" stroke-width="1.2" stroke-linecap="square"/><circle cx="634.62" cy="792.5" r="3.0" fill="none" stroke="#343434" stroke-width="1.2"/><line x1="645.7" y1="774.4" x2="645.7" y2="778.4" stroke="#343434" stroke-width="1.2" /><line x1="645.7" y1="831.2" x2="645.7" y2="834.2" stroke="#343434" stroke-width="1.2" /><rect x="640.16" y="778.4" width="11.08" height="52.8" fill="#e1812c" stroke="#343434" stroke-width="1.2"/><line x1="640.16" y1="823.4" x2="651.25" y2="823.4" stroke="#343434" stroke-width="1.2" /><line x1="642.93" y1="774.4" x2="648.47" y2="774.4" stroke="#343434" stroke-width="1.2" stroke-linecap="square"/><line x1="642.93" y1="834.2" x2="648.47" y2="834.2" stroke="#343434" stroke-width="1.2" stroke-linecap="square"/><circle cx="645.7" cy="748.2" r="3.0" fill="none" stroke="#343434" stroke-width="1.2"/><circle cx="645.7" cy="749.6" r="3.0" fill="none" stroke="#343434" stroke-width="1.2"/><line x1="656.79" y1="765.2" x2="656.79" y2="768.4" stroke="#343434" stroke-width="1.2" /><line x1="656.79" y1="837.2" x2="656.79" y2="841.2" stroke="#343434" stroke-width="1.2" /><rect x="651.25" y="768.4" width="11.08" height="68.8" fill="#3a923a" stroke="#343434" stroke-width="1.2"/><line x1="651.25" y1="824.2" x2="662.33" y2="824.2" stroke="#343434" stroke-width="1.2" /><line x1="654.02" y1="765.2" x2="659.56" y2="765.2" stroke="#343434" stroke-width="1.2" stroke-linecap="square"/><line x1="654.02" y1="841.2" x2="659.56" y2="841.2" stroke="#343434" stroke-width="1.2" stroke-linecap="square"/><circle cx="656.79" cy="741.1" r="3.0" fill="none" stroke="#343434" stroke-width="1.2"/><circle cx="656.79" cy="748.2" r="3.0" fill="none" stroke="#343434" stroke-width="1.2"/><line x1="667.87" y1="832.5" x2="667.87" y2="834.5" stroke="#343434" stroke-width="1.2" /><line x1="667.87" y1="850.4" x2="667.87" y2="866.5" stroke="#343434" stroke-width="1.2" /><rect x="662.33" y="834.5" width="11.08" height="15.9" fill="#c03d3e" stroke="#343434" stroke-width="1.2"/><line x1="662.33" y1="845.3" x2="673.41" y2="845.3" stroke="#343434" stroke-width="1.2" /><line x1="665.1" y1="832.5" x2="670.64" y2="832.5" stroke="#343434" stroke-width="1.2" stroke-linecap="square"/><line x1="665.1" y1="866.5" x2="670.64" y2="866.5" stroke="#343434" stroke-width="1.2" stroke-linecap="square"/><circle cx="667.87" cy="764.4" r="3.0" fill="none" stroke="#343434" stroke-width="1.2"/><circle cx="667.87" cy="788.1" r="3.0" fill="none" stroke="#343434" stroke-width="1.2"/><line x1="678.96" y1="787.5" x2="678.96" y2="790.5" stroke="#343434" stroke-width="1.2" /><line x1="678.96" y1="845.4" x2="678.96" y2="852.4" stroke="#343434" stroke-width="1.2" /><rect x="673.41" y="790.5" width="11.08" height="54.9" fill="#9372b2" stroke="#343434" stroke-width="1.2"/><line x1="673.41" y1="841.2" x2="684.5" y2="841.2" stroke="#343434" stroke-width="1.2" /><line x1="676.18" y1="787.5" x2="681.73" y2="787.5" stroke="#343434" stroke-width="1.2" stroke-linecap="square"/><line x1="676.18" y1="852.4" x2="681.73" y2="852.4" stroke="#343434" stroke-width="1.2" stroke-linecap="square"/><circle cx="678.96" cy="730.3" r="3.0" fill="none" stroke="#343434" stroke-width="1.2"/><circle cx="678.96" cy="723.3" r="3.0" fill="none" stroke="#343434" stroke-width="1.2"/><line x1="703.89" y1="785.8" x2="703.89" y2="788.5" stroke="#343434" stroke-width="1.2" /><line x1="703.89" y1="829.5" x2="703.89" y2="844.1" stroke="#343434" stroke-width="1.2" /><rect x="698.35" y="788.5" width="11.08" height="41" fill="#3274a1" stroke="#343434" stroke-width="1.2"/><line x1="698.35" y1="814.3" x2="709.44" y2="814.3" stroke="#343434" stroke-width="1.2" /><line x1="701.12" y1="785.8" x2="706.67" y2="785.8" stroke="#343434" stroke-width="1.2" stroke-linecap="square"/><line x1="701.12" y1="844.1" x2="706.67" y2="844.1" stroke="#343434" stroke-width="1.2" stroke-linecap="square"/><circle cx="703.89" cy="731.4" r="3.0" fill="none" stroke="#343434" stroke-width="1.2"/><line x1="714.98" y1="750.3" x2="714.98" y2="753.7" stroke="#343434" stroke-width="1.2" /><line x1="714.98" y1="834.2" x2="714.98" y2="856.5" stroke="#343434" stroke-width="1.2" /><rect x="709.44" y="753.7" width="11.08" height="80.5" fill="#e1812c" stroke="#343434" stroke-width="1.2"/><line x1="709.44" y1="820.4" x2="720.52" y2="820.4" stroke="#343434" stroke-width="1.2" /><line x1="712.21" y1="750.3" x2="717.75" y2="750.3" stroke="#343434" stroke-width="1.2" stroke-linecap="square"/><line x1="712.21" y1="856.5" x2="717.75" y2="856.5" stroke="#343434" stroke-width="1.2" stroke-linecap="square"/><circle cx="714.98" cy="728.5" r="3.0" fill="none" stroke="#343434" stroke-width="1.2"/><line x1="726.06" y1="731.5" x2="726.06" y2="734.4" stroke="#343434" stroke-width="1.2" /><line x1="726.06" y1="829.5" x2="726.06" y2="840.4" stroke="#343434" stroke-width="1.2" /><rect x="720.52" y="734.4" width="11.08" height="95.1" fill="#3a923a" stroke="#343434" stroke-width="1.2"/><line x1="720.52" y1="810.2" x2="731.6" y2="810.2" stroke="#343434" stroke-width="1.2" /><line x1="723.29" y1="731.5" x2="728.83" y2="731.5" stroke="#343434" stroke-width="1.2" stroke-linecap="square"/><line x1="723.29" y1="840.4" x2="728.83" y2="840.4" stroke="#343434" stroke-width="1.2" stroke-linecap="square"/><circle cx="726.06" cy="724.1" r="3.0" fill="none" stroke="#343434" stroke-width="1.2"/><line x1="737.15" y1="794.3" x2="737.15" y2="798.5" stroke="#343434" stroke-width="1.2" /><line x1="737.15" y1="852.4" x2="737.15" y2="859.4" stroke="#343434" stroke-width="1.2" /><rect x="731.6" y="798.5" width="11.08" height="53.9" fill="#c03d3e" stroke="#343434" stroke-width="1.2"/><line x1="731.6" y1="844.3" x2="742.69" y2="844.3" stroke="#343434" stroke-width="1.2" /><line x1="734.38" y1="794.3" x2="739.92" y2="794.3" stroke="#343434" stroke-width="1.2" stroke-linecap="square"/><line x1="734.38" y1="859.4" x2="739.92" y2="859.4" stroke="#343434" stroke-width="1.2" stroke-linecap="square"/><circle cx="737.15" cy="766.2" r="3.0" fill="none" stroke="#343434" stroke-width="1.2"/><circle cx="737.15" cy="770.3" r="3.0" fill="none" stroke="#343434" stroke-width="1.2"/><line x1="748.23" y1="765.2" x2="748.23" y2="768.4" stroke="#343434" stroke-width="1.2" /><line x1="748.23" y1="843.3" x2="748.23" y2="858.4" stroke="#343434" stroke-width="1.2" /><rect x="742.69" y="768.4" width="11.08" height="74.9" fill="#9372b2" stroke="#343434" stroke-width="1.2"/><line x1="742.69" y1="785.2" x2="753.77" y2="785.2" stroke="#343434" stroke-width="1.2" /><line x1="745.46" y1="765.2" x2="751" y2="765.2" stroke="#343434" stroke-width="1.2" stroke-linecap="square"/><line x1="745.46" y1="858.4" x2="751" y2="858.4" stroke="#343434" stroke-width="1.2" stroke-linecap="square"/><circle cx="748.23" cy="729.2" r="3.0" fill="none" stroke="#343434" stroke-width="1.2"/></g>
<rect x="483.6" y="723.4" width="277.1" height="290.1" fill="none" stroke="#000" stroke-width="1.05"/>
<line x1="479.7" y1="723.4" x2="483.6" y2="723.4" stroke="#000" stroke-width="0.9" />
<text x="474.7" y="727.3" font-size="11.07" text-anchor="end" font-family="'DejaVu Sans','Liberation Sans',sans-serif" fill="#000">10<tspan dy="-5.3" font-size="7.75">3</tspan></text>
<line x1="479.7" y1="781.42" x2="483.6" y2="781.42" stroke="#000" stroke-width="0.9" />
<text x="474.7" y="785.32" font-size="11.07" text-anchor="end" font-family="'DejaVu Sans','Liberation Sans',sans-serif" fill="#000">10<tspan dy="-5.3" font-size="7.75">1</tspan></text>
<line x1="479.7" y1="839.44" x2="483.6" y2="839.44" stroke="#000" stroke-width="0.9" />
<text x="474.7" y="843.34" font-size="11.07" text-anchor="end" font-family="'DejaVu Sans','Liberation Sans',sans-serif" fill="#000">10<tspan dy="-5.3" font-size="7.75">−1</tspan></text>
<line x1="479.7" y1="897.46" x2="483.6" y2="897.46" stroke="#000" stroke-width="0.9" />
<text x="474.7" y="901.36" font-size="11.07" text-anchor="end" font-family="'DejaVu Sans','Liberation Sans',sans-serif" fill="#000">10<tspan dy="-5.3" font-size="7.75">−3</tspan></text>
<line x1="479.7" y1="955.48" x2="483.6" y2="955.48" stroke="#000" stroke-width="0.9" />
<text x="474.7" y="959.38" font-size="11.07" text-anchor="end" font-family="'DejaVu Sans','Liberation Sans',sans-serif" fill="#000">10<tspan dy="-5.3" font-size="7.75">−5</tspan></text>
<line x1="479.7" y1="1013.5" x2="483.6" y2="1013.5" stroke="#000" stroke-width="0.9" />
<text x="474.7" y="1017.4" font-size="11.07" text-anchor="end" font-family="'DejaVu Sans','Liberation Sans',sans-serif" fill="#000">10<tspan dy="-5.3" font-size="7.75">−7</tspan></text>
<line x1="518.24" y1="1013.5" x2="518.24" y2="1017.4" stroke="#000" stroke-width="0.9" />
<text transform="translate(517.94,1027.2) rotate(-15)" font-size="11.07" text-anchor="middle" font-family="'DejaVu Sans','Liberation Sans',sans-serif" y="4">BL</text>
<line x1="587.51" y1="1013.5" x2="587.51" y2="1017.4" stroke="#000" stroke-width="0.9" />
<text transform="translate(587.21,1027.2) rotate(-15)" font-size="11.07" text-anchor="middle" font-family="'DejaVu Sans','Liberation Sans',sans-serif" y="4">CN</text>
<line x1="656.79" y1="1013.5" x2="656.79" y2="1017.4" stroke="#000" stroke-width="0.9" />
<text transform="translate(656.49,1027.2) rotate(-15)" font-size="11.07" text-anchor="middle" font-family="'DejaVu Sans','Liberation Sans',sans-serif" y="4">SN</text>
<line x1="726.06" y1="1013.5" x2="726.06" y2="1017.4" stroke="#000" stroke-width="0.9" />
<text transform="translate(725.76,1027.2) rotate(-15)" font-size="11.07" text-anchor="middle" font-family="'DejaVu Sans','Liberation Sans',sans-serif" y="4">SR</text>
<text x="622.15" y="1047.6" font-size="11.07" text-anchor="middle" font-family="'DejaVu Sans','Liberation Sans',sans-serif" fill="#000" >normalization</text>
<text x="621.65" y="715.6" font-size="13.3" text-anchor="middle" font-family="'DejaVu Sans','Liberation Sans',sans-serif" fill="#000" >Duffing oscillator</text>
<text transform="translate(440.4,868.8) rotate(-90)" font-size="11.07" text-anchor="middle" font-family="'DejaVu Sans','Liberation Sans',sans-serif" font-style="italic">ℒ<tspan font-size="7.75" dy="1.8" font-style="normal">traj</tspan></text>
<g clip-path="url(#bc2)"><line x1="838.97" y1="842.5" x2="838.97" y2="849.5" stroke="#343434" stroke-width="1.2" /><line x1="838.97" y1="858.4" x2="838.97" y2="870.4" stroke="#343434" stroke-width="1.2" /><rect x="833.43" y="849.5" width="11.08" height="8.9" fill="#3274a1" stroke="#343434" stroke-width="1.2"/><line x1="833.43" y1="856.6" x2="844.51" y2="856.6" stroke="#343434" stroke-width="1.2" /><line x1="836.2" y1="842.5" x2="841.74" y2="842.5" stroke="#343434" stroke-width="1.2" stroke-linecap="square"/><line x1="836.2" y1="870.4" x2="841.74" y2="870.4" stroke="#343434" stroke-width="1.2" stroke-linecap="square"/><line x1="850.05" y1="878.3" x2="850.05" y2="879.2" stroke="#343434" stroke-width="1.2" /><line x1="850.05" y1="893.6" x2="850.05" y2="897.3" stroke="#343434" stroke-width="1.2" /><rect x="844.51" y="879.2" width="11.08" height="14.4" fill="#e1812c" stroke="#343434" stroke-width="1.2"/><line x1="844.51" y1="890.6" x2="855.6" y2="890.6" stroke="#343434" stroke-width="1.2" /><line x1="847.28" y1="878.3" x2="852.82" y2="878.3" stroke="#343434" stroke-width="1.2" stroke-linecap="square"/><line x1="847.28" y1="897.3" x2="852.82" y2="897.3" stroke="#343434" stroke-width="1.2" stroke-linecap="square"/><circle cx="850.05" cy="850.1" r="3.0" fill="none" stroke="#343434" stroke-width="1.2"/><circle cx="850.05" cy="855.2" r="3.0" fill="none" stroke="#343434" stroke-width="1.2"/><line x1="861.14" y1="849.5" x2="861.14" y2="855.4" stroke="#343434" stroke-width="1.2" /><line x1="861.14" y1="885.3" x2="861.14" y2="891" stroke="#343434" stroke-width="1.2" /><rect x="855.6" y="855.4" width="11.08" height="29.9" fill="#3a923a" stroke="#343434" stroke-width="1.2"/><line x1="855.6" y1="864.3" x2="866.68" y2="864.3" stroke="#343434" stroke-width="1.2" /><line x1="858.37" y1="849.5" x2="863.91" y2="849.5" stroke="#343434" stroke-width="1.2" stroke-linecap="square"/><line x1="858.37" y1="891" x2="863.91" y2="891" stroke="#343434" stroke-width="1.2" stroke-linecap="square"/><line x1="872.22" y1="868.4" x2="872.22" y2="871.6" stroke="#343434" stroke-width="1.2" /><line x1="872.22" y1="880.4" x2="872.22" y2="881.2" stroke="#343434" stroke-width="1.2" /><rect x="866.68" y="871.6" width="11.08" height="8.8" fill="#c03d3e" stroke="#343434" stroke-width="1.2"/><line x1="866.68" y1="875.7" x2="877.76" y2="875.7" stroke="#343434" stroke-width="1.2" /><line x1="869.45" y1="868.4" x2="874.99" y2="868.4" stroke="#343434" stroke-width="1.2" stroke-linecap="square"/><line x1="869.45" y1="881.2" x2="874.99" y2="881.2" stroke="#343434" stroke-width="1.2" stroke-linecap="square"/><circle cx="872.22" cy="826" r="3.0" fill="none" stroke="#343434" stroke-width="1.2"/><line x1="883.31" y1="862.4" x2="883.31" y2="867.3" stroke="#343434" stroke-width="1.2" /><line x1="883.31" y1="885.5" x2="883.31" y2="891.3" stroke="#343434" stroke-width="1.2" /><rect x="877.76" y="867.3" width="11.08" height="18.2" fill="#9372b2" stroke="#343434" stroke-width="1.2"/><line x1="877.76" y1="879" x2="888.85" y2="879" stroke="#343434" stroke-width="1.2" /><line x1="880.53" y1="862.4" x2="886.08" y2="862.4" stroke="#343434" stroke-width="1.2" stroke-linecap="square"/><line x1="880.53" y1="891.3" x2="886.08" y2="891.3" stroke="#343434" stroke-width="1.2" stroke-linecap="square"/><circle cx="883.31" cy="801.4" r="3.0" fill="none" stroke="#343434" stroke-width="1.2"/><line x1="908.24" y1="845.4" x2="908.24" y2="847.5" stroke="#343434" stroke-width="1.2" /><line x1="908.24" y1="852.6" x2="908.24" y2="865.8" stroke="#343434" stroke-width="1.2" /><rect x="902.7" y="847.5" width="11.08" height="5.1" fill="#3274a1" stroke="#343434" stroke-width="1.2"/><line x1="902.7" y1="850.5" x2="913.79" y2="850.5" stroke="#343434" stroke-width="1.2" /><line x1="905.47" y1="845.4" x2="911.02" y2="845.4" stroke="#343434" stroke-width="1.2" stroke-linecap="square"/><line x1="905.47" y1="865.8" x2="911.02" y2="865.8" stroke="#343434" stroke-width="1.2" stroke-linecap="square"/><circle cx="908.24" cy="790.2" r="3.0" fill="none" stroke="#343434" stroke-width="1.2"/><circle cx="908.24" cy="868.9" r="3.0" fill="none" stroke="#343434" stroke-width="1.2"/><line x1="919.33" y1="876.5" x2="919.33" y2="877.2" stroke="#343434" stroke-width="1.2" /><line x1="919.33" y1="889.6" x2="919.33" y2="897.3" stroke="#343434" stroke-width="1.2" /><rect x="913.79" y="877.2" width="11.08" height="12.4" fill="#e1812c" stroke="#343434" stroke-width="1.2"/><line x1="913.79" y1="884.5" x2="924.87" y2="884.5" stroke="#343434" stroke-width="1.2" /><line x1="916.56" y1="876.5" x2="922.1" y2="876.5" stroke="#343434" stroke-width="1.2" stroke-linecap="square"/><line x1="916.56" y1="897.3" x2="922.1" y2="897.3" stroke="#343434" stroke-width="1.2" stroke-linecap="square"/><circle cx="919.33" cy="850.7" r="3.0" fill="none" stroke="#343434" stroke-width="1.2"/><circle cx="919.33" cy="856.7" r="3.0" fill="none" stroke="#343434" stroke-width="1.2"/><line x1="930.41" y1="851.3" x2="930.41" y2="855.4" stroke="#343434" stroke-width="1.2" /><line x1="930.41" y1="885.3" x2="930.41" y2="894.3" stroke="#343434" stroke-width="1.2" /><rect x="924.87" y="855.4" width="11.08" height="29.9" fill="#3a923a" stroke="#343434" stroke-width="1.2"/><line x1="924.87" y1="870.4" x2="935.95" y2="870.4" stroke="#343434" stroke-width="1.2" /><line x1="927.64" y1="851.3" x2="933.18" y2="851.3" stroke="#343434" stroke-width="1.2" stroke-linecap="square"/><line x1="927.64" y1="894.3" x2="933.18" y2="894.3" stroke="#343434" stroke-width="1.2" stroke-linecap="square"/><line x1="941.5" y1="866.5" x2="941.5" y2="871.6" stroke="#343434" stroke-width="1.2" /><line x1="941.5" y1="880.2" x2="941.5" y2="887.2" stroke="#343434" stroke-width="1.2" /><rect x="935.95" y="871.6" width="11.08" height="8.6" fill="#c03d3e" stroke="#343434" stroke-width="1.2"/><line x1="935.95" y1="876.5" x2="947.04" y2="876.5" stroke="#343434" stroke-width="1.2" /><line x1="938.73" y1="866.5" x2="944.27" y2="866.5" stroke="#343434" stroke-width="1.2" stroke-linecap="square"/><line x1="938.73" y1="887.2" x2="944.27" y2="887.2" stroke="#343434" stroke-width="1.2" stroke-linecap="square"/><line x1="952.58" y1="866.5" x2="952.58" y2="870.4" stroke="#343434" stroke-width="1.2" /><line x1="952.58" y1="884.3" x2="952.58" y2="890.4" stroke="#343434" stroke-width="1.2" /><rect x="947.04" y="870.4" width="11.08" height="13.9" fill="#9372b2" stroke="#343434" stroke-width="1.2"/><line x1="947.04" y1="876.6" x2="958.12" y2="876.6" stroke="#343434" stroke-width="1.2" /><line x1="949.81" y1="866.5" x2="955.35" y2="866.5" stroke="#343434" stroke-width="1.2" stroke-linecap="square"/><line x1="949.81" y1="890.4" x2="955.35" y2="890.4" stroke="#343434" stroke-width="1.2" stroke-linecap="square"/><line x1="977.52" y1="842.5" x2="977.52" y2="849.5" stroke="#343434" stroke-width="1.2" /><line x1="977.52" y1="865.5" x2="977.52" y2="868.3" stroke="#343434" stroke-width="1.2" /><rect x="971.98" y="849.5" width="11.08" height="16" fill="#3274a1" stroke="#343434" stroke-width="1.2"/><line x1="971.98" y1="857.2" x2="983.06" y2="857.2" stroke="#343434" stroke-width="1.2" /><line x1="974.75" y1="842.5" x2="980.29" y2="842.5" stroke="#343434" stroke-width="1.2" stroke-linecap="square"/><line x1="974.75" y1="868.3" x2="980.29" y2="868.3" stroke="#343434" stroke-width="1.2" stroke-linecap="square"/><line x1="988.6" y1="877.2" x2="988.6" y2="877.5" stroke="#343434" stroke-width="1.2" /><line x1="988.6" y1="892.5" x2="988.6" y2="902.4" stroke="#343434" stroke-width="1.2" /><rect x="983.06" y="877.5" width="11.08" height="15" fill="#e1812c" stroke="#343434" stroke-width="1.2"/><line x1="983.06" y1="889.2" x2="994.15" y2="889.2" stroke="#343434" stroke-width="1.2" /><line x1="985.83" y1="877.2" x2="991.37" y2="877.2" stroke="#343434" stroke-width="1.2" stroke-linecap="square"/><line x1="985.83" y1="902.4" x2="991.37" y2="902.4" stroke="#343434" stroke-width="1.2" stroke-linecap="square"/><circle cx="988.6" cy="849.9" r="3.0" fill="none" stroke="#343434" stroke-width="1.2"/><circle cx="988.6" cy="855.4" r="3.0" fill="none" stroke="#343434" stroke-width="1.2"/><line x1="999.69" y1="849.5" x2="999.69" y2="853.4" stroke="#343434" stroke-width="1.2" /><line x1="999.69" y1="884.3" x2="999.69" y2="892.4" stroke="#343434" stroke-width="1.2" /><rect x="994.15" y="853.4" width="11.08" height="30.9" fill="#3a923a" stroke="#343434" stroke-width="1.2"/><line x1="994.15" y1="864.2" x2="1005.23" y2="864.2" stroke="#343434" stroke-width="1.2" /><line x1="996.92" y1="849.5" x2="1002.46" y2="849.5" stroke="#343434" stroke-width="1.2" stroke-linecap="square"/><line x1="996.92" y1="892.4" x2="1002.46" y2="892.4" stroke="#343434" stroke-width="1.2" stroke-linecap="square"/><line x1="1010.77" y1="867.7" x2="1010.77" y2="871.6" stroke="#343434" stroke-width="1.2" /><line x1="1010.77" y1="880.2" x2="1010.77" y2="882.2" stroke="#343434" stroke-width="1.2" /><rect x="1005.23" y="871.6" width="11.08" height="8.6" fill="#c03d3e" stroke="#343434" stroke-width="1.2"/><line x1="1005.23" y1="876.3" x2="1016.31" y2="876.3" stroke="#343434" stroke-width="1.2" /><line x1="1008" y1="867.7" x2="1013.54" y2="867.7" stroke="#343434" stroke-width="1.2" stroke-linecap="square"/><line x1="1008" y1="882.2" x2="1013.54" y2="882.2" stroke="#343434" stroke-width="1.2" stroke-linecap="square"/><circle cx="1010.77" cy="821.3" r="3.0" fill="none" stroke="#343434" stroke-width="1.2"/><line x1="1021.86" y1="862.4" x2="1021.86" y2="867.3" stroke="#343434" stroke-width="1.2" /><line x1="1021.86" y1="886.5" x2="1021.86" y2="891.3" stroke="#343434" stroke-width="1.2" /><rect x="1016.31" y="867.3" width="11.08" height="19.2" fill="#9372b2" stroke="#343434" stroke-width="1.2"/><line x1="1016.31" y1="878.3" x2="1027.4" y2="878.3" stroke="#343434" stroke-width="1.2" /><line x1="1019.08" y1="862.4" x2="1024.63" y2="862.4" stroke="#343434" stroke-width="1.2" stroke-linecap="square"/><line x1="1019.08" y1="891.3" x2="1024.63" y2="891.3" stroke="#343434" stroke-width="1.2" stroke-linecap="square"/><circle cx="1021.86" cy="800.5" r="3.0" fill="none" stroke="#343434" stroke-width="1.2"/><line x1="1046.79" y1="844.4" x2="1046.79" y2="844.6" stroke="#343434" stroke-width="1.2" /><line x1="1046.79" y1="859.5" x2="1046.79" y2="870.4" stroke="#343434" stroke-width="1.2" /><rect x="1041.25" y="844.6" width="11.08" height="14.9" fill="#3274a1" stroke="#343434" stroke-width="1.2"/><line x1="1041.25" y1="853.6" x2="1052.34" y2="853.6" stroke="#343434" stroke-width="1.2" /><line x1="1044.02" y1="844.4" x2="1049.57" y2="844.4" stroke="#343434" stroke-width="1.2" stroke-linecap="square"/><line x1="1044.02" y1="870.4" x2="1049.57" y2="870.4" stroke="#343434" stroke-width="1.2" stroke-linecap="square"/><circle cx="1046.79" cy="815.5" r="3.0" fill="none" stroke="#343434" stroke-width="1.2"/><circle cx="1046.79" cy="826.4" r="3.0" fill="none" stroke="#343434" stroke-width="1.2"/><line x1="1057.88" y1="848.3" x2="1057.88" y2="853.6" stroke="#343434" stroke-width="1.2" /><line x1="1057.88" y1="869.5" x2="1057.88" y2="874.3" stroke="#343434" stroke-width="1.2" /><rect x="1052.34" y="853.6" width="11.08" height="15.9" fill="#e1812c" stroke="#343434" stroke-width="1.2"/><line x1="1052.34" y1="863.6" x2="1063.42" y2="863.6" stroke="#343434" stroke-width="1.2" /><line x1="1055.11" y1="848.3" x2="1060.65" y2="848.3" stroke="#343434" stroke-width="1.2" stroke-linecap="square"/><line x1="1055.11" y1="874.3" x2="1060.65" y2="874.3" stroke="#343434" stroke-width="1.2" stroke-linecap="square"/><circle cx="1057.88" cy="841.6" r="3.0" fill="none" stroke="#343434" stroke-width="1.2"/><line x1="1068.96" y1="844.3" x2="1068.96" y2="846.6" stroke="#343434" stroke-width="1.2" /><line x1="1068.96" y1="862.4" x2="1068.96" y2="866.1" stroke="#343434" stroke-width="1.2" /><rect x="1063.42" y="846.6" width="11.08" height="15.8" fill="#3a923a" stroke="#343434" stroke-width="1.2"/><line x1="1063.42" y1="851.4" x2="1074.5" y2="851.4" stroke="#343434" stroke-width="1.2" /><line x1="1066.19" y1="844.3" x2="1071.73" y2="844.3" stroke="#343434" stroke-width="1.2" stroke-linecap="square"/><line x1="1066.19" y1="866.1" x2="1071.73" y2="866.1" stroke="#343434" stroke-width="1.2" stroke-linecap="square"/><line x1="1080.05" y1="864.3" x2="1080.05" y2="864.5" stroke="#343434" stroke-width="1.2" /><line x1="1080.05" y1="869.2" x2="1080.05" y2="876.3" stroke="#343434" stroke-width="1.2" /><rect x="1074.5" y="864.5" width="11.08" height="4.7" fill="#c03d3e" stroke="#343434" stroke-width="1.2"/><line x1="1074.5" y1="865.7" x2="1085.59" y2="865.7" stroke="#343434" stroke-width="1.2" /><line x1="1077.28" y1="864.3" x2="1082.82" y2="864.3" stroke="#343434" stroke-width="1.2" stroke-linecap="square"/><line x1="1077.28" y1="876.3" x2="1082.82" y2="876.3" stroke="#343434" stroke-width="1.2" stroke-linecap="square"/><circle cx="1080.05" cy="850.5" r="3.0" fill="none" stroke="#343434" stroke-width="1.2"/><circle cx="1080.05" cy="856.7" r="3.0" fill="none" stroke="#343434" stroke-width="1.2"/><line x1="1091.13" y1="866.5" x2="1091.13" y2="867.3" stroke="#343434" stroke-width="1.2" /><line x1="1091.13" y1="880.4" x2="1091.13" y2="886.3" stroke="#343434" stroke-width="1.2" /><rect x="1085.59" y="867.3" width="11.08" height="13.1" fill="#9372b2" stroke="#343434" stroke-width="1.2"/><line x1="1085.59" y1="876.3" x2="1096.67" y2="876.3" stroke="#343434" stroke-width="1.2" /><line x1="1088.36" y1="866.5" x2="1093.9" y2="866.5" stroke="#343434" stroke-width="1.2" stroke-linecap="square"/><line x1="1088.36" y1="886.3" x2="1093.9" y2="886.3" stroke="#343434" stroke-width="1.2" stroke-linecap="square"/><circle cx="1091.13" cy="790.2" r="3.0" fill="none" stroke="#343434" stroke-width="1.2"/><circle cx="1091.13" cy="851.9" r="3.0" fill="none" stroke="#343434" stroke-width="1.2"/></g>
<rect x="826.5" y="723.4" width="277.1" height="290.1" fill="none" stroke="#000" stroke-width="1.05"/>
<line x1="822.6" y1="723.4" x2="826.5" y2="723.4" stroke="#000" stroke-width="0.9" />
<text x="817.6" y="727.3" font-size="11.07" text-anchor="end" font-family="'DejaVu Sans','Liberation Sans',sans-serif" fill="#000">10<tspan dy="-5.3" font-size="7.75">3</tspan></text>
<line x1="822.6" y1="781.42" x2="826.5" y2="781.42" stroke="#000" stroke-width="0.9" />
<text x="817.6" y="785.32" font-size="11.07" text-anchor="end" font-family="'DejaVu Sans','Liberation Sans',sans-serif" fill="#000">10<tspan dy="-5.3" font-size="7.75">1</tspan></text>
<line x1="822.6" y1="839.44" x2="826.5" y2="839.44" stroke="#000" stroke-width="0.9" />
<text x="817.6" y="843.34" font-size="11.07" text-anchor="end" font-family="'DejaVu Sans','Liberation Sans',sans-serif" fill="#000">10<tspan dy="-5.3" font-size="7.75">−1</tspan></text>
<line x1="822.6" y1="897.46" x2="826.5" y2="897.46" stroke="#000" stroke-width="0.9" />
<text x="817.6" y="901.36" font-size="11.07" text-anchor="end" font-family="'DejaVu Sans','Liberation Sans',sans-serif" fill="#000">10<tspan dy="-5.3" font-size="7.75">−3</tspan></text>
<line x1="822.6" y1="955.48" x2="826.5" y2="955.48" stroke="#000" stroke-width="0.9" />
<text x="817.6" y="959.38" font-size="11.07" text-anchor="end" font-family="'DejaVu Sans','Liberation Sans',sans-serif" fill="#000">10<tspan dy="-5.3" font-size="7.75">−5</tspan></text>
<line x1="822.6" y1="1013.5" x2="826.5" y2="1013.5" stroke="#000" stroke-width="0.9" />
<text x="817.6" y="1017.4" font-size="11.07" text-anchor="end" font-family="'DejaVu Sans','Liberation Sans',sans-serif" fill="#000">10<tspan dy="-5.3" font-size="7.75">−7</tspan></text>
<line x1="861.14" y1="1013.5" x2="861.14" y2="1017.4" stroke="#000" stroke-width="0.9" />
<text transform="translate(860.84,1027.2) rotate(-15)" font-size="11.07" text-anchor="middle" font-family="'DejaVu Sans','Liberation Sans',sans-serif" y="4">BL</text>
<line x1="930.41" y1="1013.5" x2="930.41" y2="1017.4" stroke="#000" stroke-width="0.9" />
<text transform="translate(930.11,1027.2) rotate(-15)" font-size="11.07" text-anchor="middle" font-family="'DejaVu Sans','Liberation Sans',sans-serif" y="4">CN</text>
<line x1="999.69" y1="1013.5" x2="999.69" y2="1017.4" stroke="#000" stroke-width="0.9" />
<text transform="translate(999.39,1027.2) rotate(-15)" font-size="11.07" text-anchor="middle" font-family="'DejaVu Sans','Liberation Sans',sans-serif" y="4">SN</text>
<line x1="1068.96" y1="1013.5" x2="1068.96" y2="1017.4" stroke="#000" stroke-width="0.9" />
<text transform="translate(1068.66,1027.2) rotate(-15)" font-size="11.07" text-anchor="middle" font-family="'DejaVu Sans','Liberation Sans',sans-serif" y="4">SR</text>
<text x="965.05" y="1047.6" font-size="11.07" text-anchor="middle" font-family="'DejaVu Sans','Liberation Sans',sans-serif" fill="#000" >normalization</text>
<text x="964.55" y="715.6" font-size="13.3" text-anchor="middle" font-family="'DejaVu Sans','Liberation Sans',sans-serif" fill="#000" >Self-sustained oscillator</text>
<text transform="translate(783.3,868.8) rotate(-90)" font-size="11.07" text-anchor="middle" font-family="'DejaVu Sans','Liberation Sans',sans-serif" font-style="italic">ℒ<tspan font-size="7.75" dy="1.8" font-style="normal">traj</tspan></text>
<rect x="302.5" y="1071.7" width="585.3" height="19.5" rx="2.2" fill="#fff" stroke="#cccccc" stroke-width="1"/>
<rect x="306.6" y="1077.5" width="22.6" height="7.8" fill="#3274a1" stroke="#343434" stroke-width="1.1"/>
<text x="337.3" y="1085.3" font-size="11.2" text-anchor="start" font-family="'DejaVu Sans','Liberation Sans',sans-serif" fill="#000" >NODE-RK2</text>
<rect x="418.7" y="1077.5" width="22.6" height="7.8" fill="#e1812c" stroke="#343434" stroke-width="1.1"/>
<text x="449.1" y="1085.3" font-size="11.2" text-anchor="start" font-family="'DejaVu Sans','Liberation Sans',sans-serif" fill="#000" >PHNN-JR-DG</text>
<rect x="540.7" y="1077.5" width="22.6" height="7.8" fill="#3a923a" stroke="#343434" stroke-width="1.1"/>
<text x="571.1" y="1085.3" font-size="11.2" text-anchor="start" font-family="'DejaVu Sans','Liberation Sans',sans-serif" fill="#000" >PHNN-JR-RK2</text>
<rect x="666.7" y="1077.5" width="22.6" height="7.8" fill="#c03d3e" stroke="#343434" stroke-width="1.1"/>
<text x="697.1" y="1085.3" font-size="11.2" text-anchor="start" font-family="'DejaVu Sans','Liberation Sans',sans-serif" fill="#000" >PHNN-S-DG</text>
<rect x="783.7" y="1077.5" width="22.6" height="7.8" fill="#9372b2" stroke="#343434" stroke-width="1.1"/>
<text x="814.1" y="1085.3" font-size="11.2" text-anchor="start" font-family="'DejaVu Sans','Liberation Sans',sans-serif" fill="#000" >PHNN-S-RK2</text>
<text x="160.6" y="560.9" font-size="15.3" font-family="'Liberation Serif','DejaVu Serif',serif" font-weight="normal" font-style="normal" textLength="161.1" lengthAdjust="spacingAndGlyphs">(a) Condition number</text>
<text x="528.7" y="560.9" font-size="15.3" font-family="'Liberation Serif','DejaVu Serif',serif" font-weight="normal" font-style="normal" textLength="132.9" lengthAdjust="spacingAndGlyphs">(b) Spectral norm</text>
<text x="885" y="560.9" font-size="15.3" font-family="'Liberation Serif','DejaVu Serif',serif" font-weight="normal" font-style="normal" textLength="127.3" lengthAdjust="spacingAndGlyphs">(c) Stiffness ratio</text>
<text x="76.1" y="608.5" font-size="15.3" font-family="'Liberation Serif','DejaVu Serif',serif" font-weight="normal" font-style="normal" textLength="73.8" lengthAdjust="spacingAndGlyphs">Figure 10:</text>
<text x="160" y="608.5" font-size="15.3" font-family="'Liberation Serif','DejaVu Serif',serif" font-weight="normal" font-style="normal" textLength="189.6" lengthAdjust="spacingAndGlyphs">Mean condition number (</text>
<text x="350.3" y="608.5" font-size="15.3" font-family="'Liberation Serif','DejaVu Serif',serif" font-weight="bold" font-style="normal" textLength="26.5" lengthAdjust="spacingAndGlyphs">left</text>
<text x="377.5" y="608.5" font-size="15.3" font-family="'Liberation Serif','DejaVu Serif',serif" font-weight="normal" font-style="normal" textLength="131.7" lengthAdjust="spacingAndGlyphs">), spectral norm (</text>
<text x="510.2" y="608.5" font-size="15.3" font-family="'Liberation Serif','DejaVu Serif',serif" font-weight="bold" font-style="normal" textLength="54.1" lengthAdjust="spacingAndGlyphs">center</text>
<text x="564.8" y="608.5" font-size="15.3" font-family="'Liberation Serif','DejaVu Serif',serif" font-weight="normal" font-style="normal" textLength="154.4" lengthAdjust="spacingAndGlyphs">) and stiffness ratio (</text>
<text x="720.6" y="608.5" font-size="15.3" font-family="'Liberation Serif','DejaVu Serif',serif" font-weight="bold" font-style="normal" textLength="40.8" lengthAdjust="spacingAndGlyphs">right</text>
<text x="762.1" y="608.5" font-size="15.3" font-family="'Liberation Serif','DejaVu Serif',serif" font-weight="normal" font-style="normal" textLength="66.5" lengthAdjust="spacingAndGlyphs">) per opt</text>
<text x="987.9" y="608.5" font-size="15.3" font-family="'Liberation Serif','DejaVu Serif',serif" font-weight="normal" font-style="normal" textLength="126.3" lengthAdjust="spacingAndGlyphs">e training for the</text>
<text x="75.8" y="627.5" font-size="15.3" font-family="'Liberation Serif','DejaVu Serif',serif" font-weight="normal" font-style="normal" textLength="59.1" lengthAdjust="spacingAndGlyphs">different</text><text x="141.7" y="627.5" font-size="15.3" font-family="'Liberation Serif','DejaVu Serif',serif" font-weight="normal" font-style="normal" textLength="93.2" lengthAdjust="spacingAndGlyphs">architectures</text><text x="241.9" y="627.5" font-size="15.3" font-family="'Liberation Serif','DejaVu Serif',serif" font-weight="normal" font-style="normal" textLength="36.5" lengthAdjust="spacingAndGlyphs">when</text><text x="286" y="627.5" font-size="15.3" font-family="'Liberation Serif','DejaVu Serif',serif" font-weight="normal" font-style="normal" textLength="65.1" lengthAdjust="spacingAndGlyphs">modeling</text><text x="358.5" y="627.5" font-size="15.3" font-family="'Liberation Serif','DejaVu Serif',serif" font-weight="normal" font-style="normal" textLength="21.1" lengthAdjust="spacingAndGlyphs">the</text><text x="386.8" y="627.5" font-size="15.3" font-family="'Liberation Serif','DejaVu Serif',serif" font-weight="normal" font-style="normal" textLength="52.1" lengthAdjust="spacingAndGlyphs">Duffing</text><text x="446.7" y="627.5" font-size="15.3" font-family="'Liberation Serif','DejaVu Serif',serif" font-weight="normal" font-style="normal" textLength="64.2" lengthAdjust="spacingAndGlyphs">oscillator</text><text x="518.5" y="627.5" font-size="15.3" font-family="'Liberation Serif','DejaVu Serif',serif" font-weight="normal" font-style="normal" textLength="29.4" lengthAdjust="spacingAndGlyphs">with</text>
<text x="556.2" y="627.5" font-size="15.3" font-family="'Liberation Serif','DejaVu Serif',serif" font-weight="normal" font-style="italic" textLength="11.8" lengthAdjust="spacingAndGlyphs">N</text>
<text x="569.6" y="630.7" font-size="10.6" font-family="'Liberation Serif','DejaVu Serif',serif" font-weight="normal" font-style="italic" textLength="33.7" lengthAdjust="spacingAndGlyphs">train</text>
<text x="610.3" y="627.5" font-size="15.3" font-family="'Liberation Serif','DejaVu Serif',serif" font-weight="normal" font-style="normal" textLength="12.6" lengthAdjust="spacingAndGlyphs">=</text><text x="629.7" y="627.5" font-size="15.3" font-family="'Liberation Serif','DejaVu Serif',serif" font-weight="normal" font-style="normal" textLength="14.6" lengthAdjust="spacingAndGlyphs">25</text><text x="651.4" y="627.5" font-size="15.3" font-family="'Liberation Serif','DejaVu Serif',serif" font-weight="normal" font-style="normal" textLength="42.5" lengthAdjust="spacingAndGlyphs">points</text><text x="701" y="627.5" font-size="15.3" font-family="'Liberation Serif','DejaVu Serif',serif" font-weight="normal" font-style="normal" textLength="25.1" lengthAdjust="spacingAndGlyphs">and</text><text x="733.7" y="627.5" font-size="15.3" font-family="'Liberation Serif','DejaVu Serif',serif" font-weight="normal" font-style="normal" textLength="15.8" lengthAdjust="spacingAndGlyphs">no</text><text x="757.1" y="627.5" font-size="15.3" font-family="'Liberation Serif','DejaVu Serif',serif" font-weight="normal" font-style="normal" textLength="59.7" lengthAdjust="spacingAndGlyphs">Jacobian</text><text x="824.3" y="627.5" font-size="15.3" font-family="'Liberation Serif','DejaVu Serif',serif" font-weight="normal" font-style="normal" textLength="102.5" lengthAdjust="spacingAndGlyphs">regularization</text><text x="934.3" y="627.5" font-size="15.3" font-family="'Liberation Serif','DejaVu Serif',serif" font-weight="normal" font-style="normal" textLength="37" lengthAdjust="spacingAndGlyphs">(BL).</text><text x="978.6" y="627.5" font-size="15.3" font-family="'Liberation Serif','DejaVu Serif',serif" font-weight="normal" font-style="normal" textLength="22.2" lengthAdjust="spacingAndGlyphs">For</text><text x="1008.6" y="627.5" font-size="15.3" font-family="'Liberation Serif','DejaVu Serif',serif" font-weight="normal" font-style="normal" textLength="29.1" lengthAdjust="spacingAndGlyphs">each</text><text x="1045.8" y="627.5" font-size="15.3" font-family="'Liberation Serif','DejaVu Serif',serif" font-weight="normal" font-style="normal" textLength="46.8" lengthAdjust="spacingAndGlyphs">optimi</text>
<text x="176.8" y="646.5" font-size="15.3" font-family="'Liberation Serif','DejaVu Serif',serif" font-weight="normal" font-style="normal" textLength="72.5" lengthAdjust="spacingAndGlyphs">esponding</text><text x="258.6" y="646.5" font-size="15.3" font-family="'Liberation Serif','DejaVu Serif',serif" font-weight="normal" font-style="normal" textLength="36.4" lengthAdjust="spacingAndGlyphs">mean</text><text x="304.7" y="646.5" font-size="15.3" font-family="'Liberation Serif','DejaVu Serif',serif" font-weight="normal" font-style="normal" textLength="36.5" lengthAdjust="spacingAndGlyphs">value</text><text x="350.9" y="646.5" font-size="15.3" font-family="'Liberation Serif','DejaVu Serif',serif" font-weight="normal" font-style="normal" textLength="35.6" lengthAdjust="spacingAndGlyphs">(solid</text><text x="396.2" y="646.5" font-size="15.3" font-family="'Liberation Serif','DejaVu Serif',serif" font-weight="normal" font-style="normal" textLength="31" lengthAdjust="spacingAndGlyphs">line)</text><text x="436.8" y="646.5" font-size="15.3" font-family="'Liberation Serif','DejaVu Serif',serif" font-weight="normal" font-style="normal" textLength="9.7" lengthAdjust="spacingAndGlyphs">is</text><text x="455.7" y="646.5" font-size="15.3" font-family="'Liberation Serif','DejaVu Serif',serif" font-weight="normal" font-style="normal" textLength="60" lengthAdjust="spacingAndGlyphs">obtained</text><text x="525.8" y="646.5" font-size="15.3" font-family="'Liberation Serif','DejaVu Serif',serif" font-weight="normal" font-style="normal" textLength="73.4" lengthAdjust="spacingAndGlyphs">computing</text><text x="608.8" y="646.5" font-size="15.3" font-family="'Liberation Serif','DejaVu Serif',serif" font-weight="normal" font-style="normal" textLength="22.2" lengthAdjust="spacingAndGlyphs">the</text><text x="641" y="646.5" font-size="15.3" font-family="'Liberation Serif','DejaVu Serif',serif" font-weight="normal" font-style="normal" textLength="53.7" lengthAdjust="spacingAndGlyphs">average</text><text x="703" y="646.5" font-size="15.3" font-family="'Liberation Serif','DejaVu Serif',serif" font-weight="normal" font-style="normal" textLength="28.2" lengthAdjust="spacingAndGlyphs">over</text><text x="740.4" y="646.5" font-size="15.3" font-family="'Liberation Serif','DejaVu Serif',serif" font-weight="normal" font-style="normal" textLength="22.2" lengthAdjust="spacingAndGlyphs">the</text><text x="770.6" y="646.5" font-size="15.3" font-family="'Liberation Serif','DejaVu Serif',serif" font-weight="normal" font-style="normal" textLength="15" lengthAdjust="spacingAndGlyphs">10</text><text x="794" y="646.5" font-size="15.3" font-family="'Liberation Serif','DejaVu Serif',serif" font-weight="normal" font-style="normal" textLength="42.9" lengthAdjust="spacingAndGlyphs">model</text><text x="846.5" y="646.5" font-size="15.3" font-family="'Liberation Serif','DejaVu Serif',serif" font-weight="normal" font-style="normal" textLength="99.4" lengthAdjust="spacingAndGlyphs">initializations,</text><text x="956.8" y="646.5" font-size="15.3" font-family="'Liberation Serif','DejaVu Serif',serif" font-weight="normal" font-style="normal" textLength="29.4" lengthAdjust="spacingAndGlyphs">with</text><text x="996.2" y="646.5" font-size="15.3" font-family="'Liberation Serif','DejaVu Serif',serif" font-weight="normal" font-style="normal" textLength="22.3" lengthAdjust="spacingAndGlyphs">the</text><text x="1027.7" y="646.5" font-size="15.3" font-family="'Liberation Serif','DejaVu Serif',serif" font-weight="normal" font-style="normal" textLength="46.6" lengthAdjust="spacingAndGlyphs">shaded</text><text x="1084.3" y="646.5" font-size="15.3" font-family="'Liberation Serif','DejaVu Serif',serif" font-weight="normal" font-style="normal" textLength="30.7" lengthAdjust="spacingAndGlyphs">area</text>
<text x="76.1" y="665.5" font-size="15.3" font-family="'Liberation Serif','DejaVu Serif',serif" font-weight="normal" font-style="normal" textLength="233.9" lengthAdjust="spacingAndGlyphs">indicating the range between th</text>
<text x="417.8" y="1232.7" font-size="19.2" font-family="'Liberation Serif','DejaVu Serif',serif" font-weight="normal" font-style="italic" textLength="88.1" lengthAdjust="spacingAndGlyphs">PHNN-JR</text>
<text x="105.3" y="1262.9" font-size="19.2" font-family="'Liberation Serif','DejaVu Serif',serif" font-weight="normal" font-style="normal" textLength="13.8" lengthAdjust="spacingAndGlyphs">It</text><text x="129.2" y="1262.9" font-size="19.2" font-family="'Liberation Serif','DejaVu Serif',serif" font-weight="normal" font-style="normal" textLength="12.6" lengthAdjust="spacingAndGlyphs">is</text><text x="151.9" y="1262.9" font-size="19.2" font-family="'Liberation Serif','DejaVu Serif',serif" font-weight="normal" font-style="normal" textLength="8.3" lengthAdjust="spacingAndGlyphs">a</text><text x="170" y="1262.9" font-size="19.2" font-family="'Liberation Serif','DejaVu Serif',serif" font-weight="normal" font-style="normal" textLength="77.5" lengthAdjust="spacingAndGlyphs">recurrent</text><text x="258.8" y="1262.9" font-size="19.2" font-family="'Liberation Serif','DejaVu Serif',serif" font-weight="normal" font-style="normal" textLength="88.1" lengthAdjust="spacingAndGlyphs">conclusion</text><text x="357.4" y="1262.9" font-size="19.2" font-family="'Liberation Serif','DejaVu Serif',serif" font-weight="normal" font-style="normal" textLength="15.6" lengthAdjust="spacingAndGlyphs">in</text><text x="382.6" y="1262.9" font-size="19.2" font-family="'Liberation Serif','DejaVu Serif',serif" font-weight="normal" font-style="normal" textLength="19.3" lengthAdjust="spacingAndGlyphs">all</text><text x="412.5" y="1262.9" font-size="19.2" font-family="'Liberation Serif','DejaVu Serif',serif" font-weight="normal" font-style="normal" textLength="26.4" lengthAdjust="spacingAndGlyphs">the</text><text x="448.5" y="1262.9" font-size="19.2" font-family="'Liberation Serif','DejaVu Serif',serif" font-weight="normal" font-style="normal" textLength="59.7" lengthAdjust="spacingAndGlyphs">studies</text><text x="517.7" y="1262.9" font-size="19.2" font-family="'Liberation Serif','DejaVu Serif',serif" font-weight="normal" font-style="normal" textLength="59.2" lengthAdjust="spacingAndGlyphs">carried</text>
<text x="75.6" y="1286.8" font-size="19.2" font-family="'Liberation Serif','DejaVu Serif',serif" font-weight="normal" font-style="normal" textLength="27.2" lengthAdjust="spacingAndGlyphs">out</text><text x="112.9" y="1286.8" font-size="19.2" font-family="'Liberation Serif','DejaVu Serif',serif" font-weight="normal" font-style="normal" textLength="14.6" lengthAdjust="spacingAndGlyphs">in</text><text x="137.5" y="1286.8" font-size="19.2" font-family="'Liberation Serif','DejaVu Serif',serif" font-weight="normal" font-style="normal" textLength="30.7" lengthAdjust="spacingAndGlyphs">this</text><text x="178.3" y="1286.8" font-size="19.2" font-family="'Liberation Serif','DejaVu Serif',serif" font-weight="normal" font-style="normal" textLength="40.3" lengthAdjust="spacingAndGlyphs">work</text><text x="228.1" y="1286.8" font-size="19.2" font-family="'Liberation Serif','DejaVu Serif',serif" font-weight="normal" font-style="normal" textLength="34.5" lengthAdjust="spacingAndGlyphs">that</text><text x="272.7" y="1286.8" font-size="19.2" font-family="'Liberation Serif','DejaVu Serif',serif" font-weight="normal" font-style="normal" textLength="26.4" lengthAdjust="spacingAndGlyphs">the</text><text x="308.8" y="1286.8" font-size="19.2" font-family="'Liberation Serif','DejaVu Serif',serif" font-weight="normal" font-style="normal" textLength="101.9" lengthAdjust="spacingAndGlyphs">architecture</text><text x="420.8" y="1286.8" font-size="19.2" font-family="'Liberation Serif','DejaVu Serif',serif" font-weight="normal" font-style="normal" textLength="34.5" lengthAdjust="spacingAndGlyphs">that</text><text x="464.9" y="1286.8" font-size="19.2" font-family="'Liberation Serif','DejaVu Serif',serif" font-weight="normal" font-style="normal" textLength="75.5" lengthAdjust="spacingAndGlyphs">performs</text><text x="550.4" y="1286.8" font-size="19.2" font-family="'Liberation Serif','DejaVu Serif',serif" font-weight="normal" font-style="normal" textLength="26.5" lengthAdjust="spacingAndGlyphs">the</text>
<text x="75.6" y="1310.7" font-size="19.2" font-family="'Liberation Serif','DejaVu Serif',serif" font-weight="normal" font-style="normal" textLength="33.5" lengthAdjust="spacingAndGlyphs">best</text><text x="117.4" y="1310.7" font-size="19.2" font-family="'Liberation Serif','DejaVu Serif',serif" font-weight="normal" font-style="normal" textLength="23.1" lengthAdjust="spacingAndGlyphs">for</text><text x="147.3" y="1310.7" font-size="19.2" font-family="'Liberation Serif','DejaVu Serif',serif" font-weight="normal" font-style="normal" textLength="26.5" lengthAdjust="spacingAndGlyphs">the</text><text x="180.8" y="1310.7" font-size="19.2" font-family="'Liberation Serif','DejaVu Serif',serif" font-weight="normal" font-style="normal" textLength="79.2" lengthAdjust="spacingAndGlyphs">harmonic</text><text x="267.6" y="1310.7" font-size="19.2" font-family="'Liberation Serif','DejaVu Serif',serif" font-weight="normal" font-style="normal" textLength="30.2" lengthAdjust="spacingAndGlyphs">and</text><text x="305.1" y="1310.7" font-size="19.2" font-family="'Liberation Serif','DejaVu Serif',serif" font-weight="normal" font-style="normal" textLength="62.4" lengthAdjust="spacingAndGlyphs">Duffing</text><text x="375.1" y="1310.7" font-size="19.2" font-family="'Liberation Serif','DejaVu Serif',serif" font-weight="normal" font-style="normal" textLength="77.5" lengthAdjust="spacingAndGlyphs">oscillator</text><text x="459.9" y="1310.7" font-size="19.2" font-family="'Liberation Serif','DejaVu Serif',serif" font-weight="normal" font-style="normal" textLength="12.3" lengthAdjust="spacingAndGlyphs">is</text><text x="479.2" y="1310.7" font-size="19.2" font-family="'Liberation Serif','DejaVu Serif',serif" font-weight="normal" font-style="normal" textLength="26.7" lengthAdjust="spacingAndGlyphs">the</text><text x="512.7" y="1310.7" font-size="19.2" font-family="'Liberation Serif','DejaVu Serif',serif" font-weight="normal" font-style="normal" textLength="64.2" lengthAdjust="spacingAndGlyphs">PHNN-</text>
<text x="75.6" y="1334.6" font-size="19.2" font-family="'Liberation Serif','DejaVu Serif',serif" font-weight="normal" font-style="normal" textLength="15.9" lengthAdjust="spacingAndGlyphs">S,</text><text x="99" y="1334.6" font-size="19.2" font-family="'Liberation Serif','DejaVu Serif',serif" font-weight="normal" font-style="normal" textLength="44.1" lengthAdjust="spacingAndGlyphs">while</text><text x="150.6" y="1334.6" font-size="19.2" font-family="'Liberation Serif','DejaVu Serif',serif" font-weight="normal" font-style="normal" textLength="21.9" lengthAdjust="spacingAndGlyphs">for</text><text x="180.8" y="1334.6" font-size="19.2" font-family="'Liberation Serif','DejaVu Serif',serif" font-weight="normal" font-style="normal" textLength="26.4" lengthAdjust="spacingAndGlyphs">the</text><text x="214.5" y="1334.6" font-size="19.2" font-family="'Liberation Serif','DejaVu Serif',serif" font-weight="normal" font-style="normal" textLength="114.5" lengthAdjust="spacingAndGlyphs">self-sustained</text><text x="337.3" y="1334.6" font-size="19.2" font-family="'Liberation Serif','DejaVu Serif',serif" font-weight="normal" font-style="normal" textLength="83.3" lengthAdjust="spacingAndGlyphs">oscillator,</text><text x="428" y="1334.6" font-size="19.2" font-family="'Liberation Serif','DejaVu Serif',serif" font-weight="normal" font-style="normal" textLength="12.8" lengthAdjust="spacingAndGlyphs">is</text><text x="448.3" y="1334.6" font-size="19.2" font-family="'Liberation Serif','DejaVu Serif',serif" font-weight="normal" font-style="normal" textLength="26.4" lengthAdjust="spacingAndGlyphs">the</text><text x="482.5" y="1334.6" font-size="19.2" font-family="'Liberation Serif','DejaVu Serif',serif" font-weight="normal" font-style="normal" textLength="94.4" lengthAdjust="spacingAndGlyphs">PHNN-JR,</text>
<text x="75.6" y="1358.5" font-size="19.2" font-family="'Liberation Serif','DejaVu Serif',serif" font-weight="normal" font-style="normal" textLength="120.3" lengthAdjust="spacingAndGlyphs">independently</text><text x="202.7" y="1358.5" font-size="19.2" font-family="'Liberation Serif','DejaVu Serif',serif" font-weight="normal" font-style="normal" textLength="15.1" lengthAdjust="spacingAndGlyphs">of</text><text x="224" y="1358.5" font-size="19.2" font-family="'Liberation Serif','DejaVu Serif',serif" font-weight="normal" font-style="normal" textLength="26.5" lengthAdjust="spacingAndGlyphs">the</text><text x="256.8" y="1358.5" font-size="19.2" font-family="'Liberation Serif','DejaVu Serif',serif" font-weight="normal" font-style="normal" textLength="82.5" lengthAdjust="spacingAndGlyphs">numerical</text><text x="346.9" y="1358.5" font-size="19.2" font-family="'Liberation Serif','DejaVu Serif',serif" font-weight="normal" font-style="normal" textLength="62.7" lengthAdjust="spacingAndGlyphs">method</text><text x="417.3" y="1358.5" font-size="19.2" font-family="'Liberation Serif','DejaVu Serif',serif" font-weight="normal" font-style="normal" textLength="35.7" lengthAdjust="spacingAndGlyphs">used</text><text x="460" y="1358.5" font-size="19.2" font-family="'Liberation Serif','DejaVu Serif',serif" font-weight="normal" font-style="normal" textLength="21.7" lengthAdjust="spacingAndGlyphs">for</text><text x="488.8" y="1358.5" font-size="19.2" font-family="'Liberation Serif','DejaVu Serif',serif" font-weight="normal" font-style="normal" textLength="15.1" lengthAdjust="spacingAndGlyphs">di</text>
<rect x="0" y="1683.8" width="1077.3" height="1.2" fill="#000"/>
<rect x="1167.2" y="1683.5" width="1.1" height="1.5" fill="#333"/>
<rect x="1180.4" y="1683.5" width="1.1" height="1.5" fill="#333"/>
<rect x="1190.3" y="1683.5" width="1.1" height="1.5" fill="#333"/>
</svg>
</body></html>
